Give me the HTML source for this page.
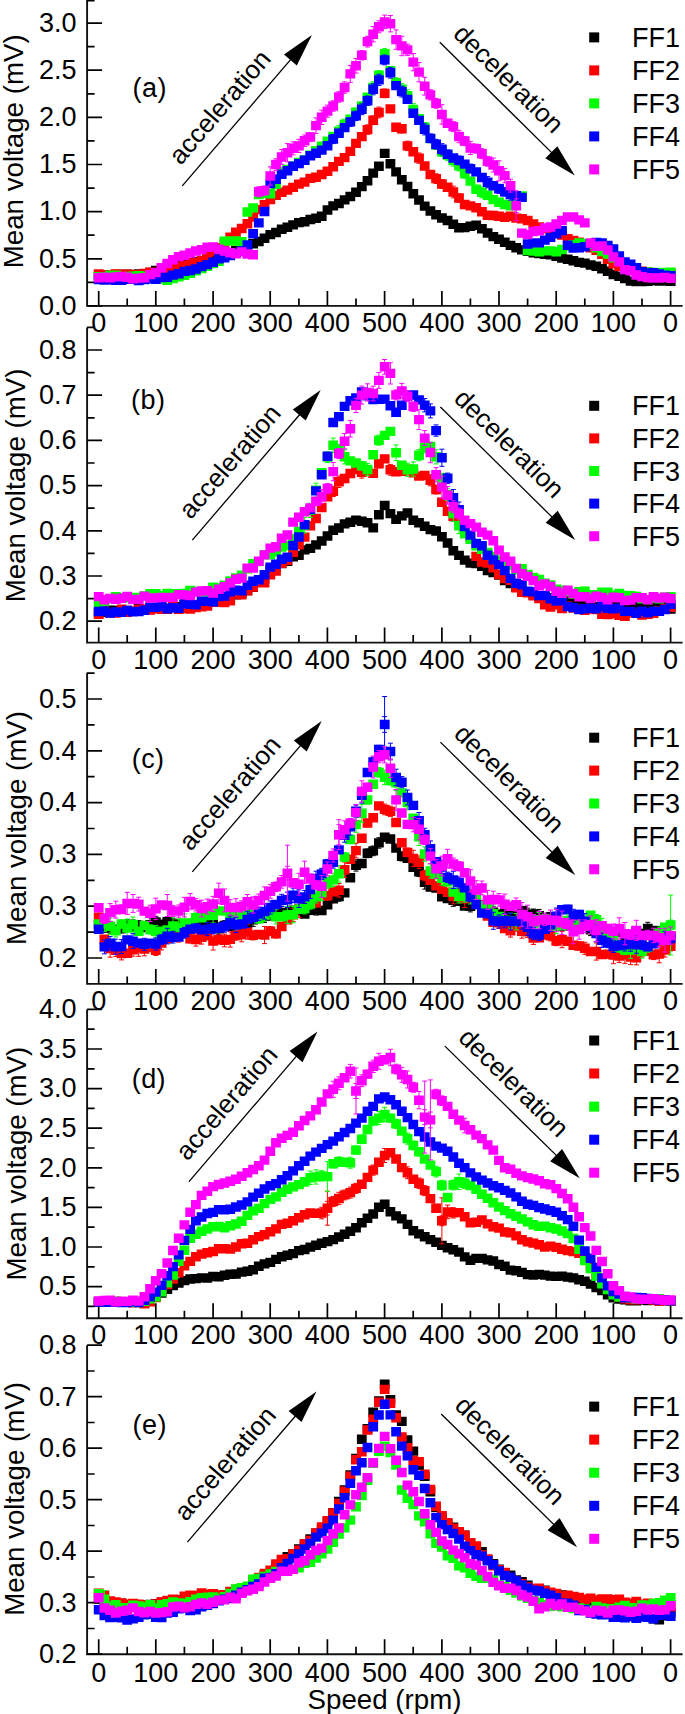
<!DOCTYPE html>
<html><head><meta charset="utf-8"><style>
html,body{margin:0;padding:0;background:#fff;}
svg{display:block;font-family:'Liberation Sans', sans-serif;}
</style></head><body>
<svg width="685" height="1714" viewBox="0 0 685 1714">
<rect width="685" height="1714" fill="#fff"/>
<path d="M87.1 0 V305.9 M86.1 305.9 H682.6" stroke="#111" stroke-width="1.9" fill="none"/>
<text x="76.6" y="314.7" text-anchor="end" font-size="27">0.0</text>
<text x="76.6" y="267.6" text-anchor="end" font-size="27">0.5</text>
<text x="76.6" y="220.4" text-anchor="end" font-size="27">1.0</text>
<text x="76.6" y="173.3" text-anchor="end" font-size="27">1.5</text>
<text x="76.6" y="126.2" text-anchor="end" font-size="27">2.0</text>
<text x="76.6" y="79.0" text-anchor="end" font-size="27">2.5</text>
<text x="76.6" y="31.9" text-anchor="end" font-size="27">3.0</text>
<text x="98.7" y="332.1" text-anchor="middle" font-size="27">0</text>
<text x="155.8" y="332.1" text-anchor="middle" font-size="27">100</text>
<text x="213.1" y="332.1" text-anchor="middle" font-size="27">200</text>
<text x="270.2" y="332.1" text-anchor="middle" font-size="27">300</text>
<text x="327.4" y="332.1" text-anchor="middle" font-size="27">400</text>
<text x="384.6" y="332.1" text-anchor="middle" font-size="27">500</text>
<text x="441.9" y="332.1" text-anchor="middle" font-size="27">400</text>
<text x="499.0" y="332.1" text-anchor="middle" font-size="27">300</text>
<text x="556.2" y="332.1" text-anchor="middle" font-size="27">200</text>
<text x="613.4" y="332.1" text-anchor="middle" font-size="27">100</text>
<text x="670.6" y="332.1" text-anchor="middle" font-size="27">0</text>
<path d="M87.1 305.9h15 M87.1 258.8h15 M87.1 211.6h15 M87.1 164.5h15 M87.1 117.4h15 M87.1 70.2h15 M87.1 23.1h15 M87.1 282.3h7.5 M87.1 235.2h7.5 M87.1 188.1h7.5 M87.1 140.9h7.5 M87.1 93.8h7.5 M87.1 46.7h7.5 M87.1 0.6h7.5 M98.7 305.9v-15 M155.8 305.9v-15 M213.1 305.9v-15 M270.2 305.9v-15 M327.4 305.9v-15 M384.6 305.9v-15 M441.9 305.9v-15 M499.0 305.9v-15 M556.2 305.9v-15 M613.4 305.9v-15 M670.6 305.9v-15 M127.2 305.9v-7.5 M184.4 305.9v-7.5 M241.7 305.9v-7.5 M298.9 305.9v-7.5 M356.0 305.9v-7.5 M413.2 305.9v-7.5 M470.4 305.9v-7.5 M527.6 305.9v-7.5 M584.8 305.9v-7.5 M642.0 305.9v-7.5 " stroke="#000" stroke-width="1.7" fill="none"/>
<text transform="translate(22.8,151.3) rotate(-90)" text-anchor="middle" font-size="27.7">Mean voltage (mV)</text>
<text x="132.6" y="97.4" font-size="27" letter-spacing="0.4">(a)</text>
<path d="M93.8 270.7h9.8v9.4h-9.8zM99.5 270.5h9.8v9.4h-9.8zM105.2 270.0h9.8v9.4h-9.8zM110.9 269.7h9.8v9.4h-9.8zM116.6 269.8h9.8v9.4h-9.8zM122.3 269.6h9.8v9.4h-9.8zM128.1 269.9h9.8v9.4h-9.8zM133.8 269.2h9.8v9.4h-9.8zM139.5 269.3h9.8v9.4h-9.8zM145.2 267.7h9.8v9.4h-9.8zM150.9 265.8h9.8v9.4h-9.8zM156.7 263.2h9.8v9.4h-9.8zM162.4 261.7h9.8v9.4h-9.8zM168.1 261.1h9.8v9.4h-9.8zM173.8 259.7h9.8v9.4h-9.8zM179.5 258.2h9.8v9.4h-9.8zM185.3 257.9h9.8v9.4h-9.8zM191.0 257.0h9.8v9.4h-9.8zM196.7 255.7h9.8v9.4h-9.8zM202.4 254.3h9.8v9.4h-9.8zM208.2 252.0h9.8v9.4h-9.8zM213.9 251.0h9.8v9.4h-9.8zM219.6 249.6h9.8v9.4h-9.8zM225.3 247.8h9.8v9.4h-9.8zM231.0 245.8h9.8v9.4h-9.8zM236.8 243.1h9.8v9.4h-9.8zM242.5 241.2h9.8v9.4h-9.8zM248.2 239.1h9.8v9.4h-9.8zM253.9 236.8h9.8v9.4h-9.8zM259.6 233.5h9.8v9.4h-9.8zM265.4 229.9h9.8v9.4h-9.8zM271.1 227.8h9.8v9.4h-9.8zM276.8 224.5h9.8v9.4h-9.8zM282.5 222.6h9.8v9.4h-9.8zM288.2 220.2h9.8v9.4h-9.8zM294.0 217.9h9.8v9.4h-9.8zM299.7 217.0h9.8v9.4h-9.8zM305.4 214.8h9.8v9.4h-9.8zM311.1 213.6h9.8v9.4h-9.8zM316.8 211.6h9.8v9.4h-9.8zM322.6 205.3h9.8v9.4h-9.8zM328.3 201.2h9.8v9.4h-9.8zM334.0 198.8h9.8v9.4h-9.8zM339.7 195.2h9.8v9.4h-9.8zM345.4 191.8h9.8v9.4h-9.8zM351.1 187.6h9.8v9.4h-9.8zM356.9 181.9h9.8v9.4h-9.8zM362.6 176.0h9.8v9.4h-9.8zM368.3 168.4h9.8v9.4h-9.8zM374.0 161.5h9.8v9.4h-9.8zM379.8 148.7h9.8v9.4h-9.8zM385.5 159.1h9.8v9.4h-9.8zM391.2 167.2h9.8v9.4h-9.8zM396.9 175.0h9.8v9.4h-9.8zM402.6 181.8h9.8v9.4h-9.8zM408.4 189.1h9.8v9.4h-9.8zM414.1 195.3h9.8v9.4h-9.8zM419.8 201.4h9.8v9.4h-9.8zM425.5 206.3h9.8v9.4h-9.8zM431.2 210.1h9.8v9.4h-9.8zM437.0 213.3h9.8v9.4h-9.8zM442.7 215.8h9.8v9.4h-9.8zM448.4 219.6h9.8v9.4h-9.8zM454.1 223.1h9.8v9.4h-9.8zM459.8 222.9h9.8v9.4h-9.8zM465.5 221.5h9.8v9.4h-9.8zM471.3 220.6h9.8v9.4h-9.8zM477.0 224.1h9.8v9.4h-9.8zM482.7 228.3h9.8v9.4h-9.8zM488.4 231.9h9.8v9.4h-9.8zM494.1 234.6h9.8v9.4h-9.8zM499.9 237.5h9.8v9.4h-9.8zM505.6 240.7h9.8v9.4h-9.8zM511.3 243.1h9.8v9.4h-9.8zM517.0 245.2h9.8v9.4h-9.8zM522.8 246.5h9.8v9.4h-9.8zM528.5 248.0h9.8v9.4h-9.8zM534.2 248.8h9.8v9.4h-9.8zM539.9 249.6h9.8v9.4h-9.8zM545.6 250.2h9.8v9.4h-9.8zM551.4 251.7h9.8v9.4h-9.8zM557.1 253.4h9.8v9.4h-9.8zM562.8 254.6h9.8v9.4h-9.8zM568.5 256.0h9.8v9.4h-9.8zM574.2 257.7h9.8v9.4h-9.8zM579.9 258.4h9.8v9.4h-9.8zM585.7 260.3h9.8v9.4h-9.8zM591.4 261.6h9.8v9.4h-9.8zM597.1 264.0h9.8v9.4h-9.8zM602.8 266.5h9.8v9.4h-9.8zM608.5 269.8h9.8v9.4h-9.8zM614.3 271.7h9.8v9.4h-9.8zM620.0 273.9h9.8v9.4h-9.8zM625.7 276.4h9.8v9.4h-9.8zM631.4 276.9h9.8v9.4h-9.8zM637.1 276.8h9.8v9.4h-9.8zM642.9 276.7h9.8v9.4h-9.8zM648.6 275.8h9.8v9.4h-9.8zM654.3 276.4h9.8v9.4h-9.8zM660.0 276.3h9.8v9.4h-9.8zM665.8 276.5h9.8v9.4h-9.8z" fill="#000000"/>
<path d="M361.8 132.9V140.3M359.3 132.9h5M359.3 140.3h5M367.5 124.9V134.3M365.0 124.9h5M365.0 134.3h5M373.2 115.9V124.6M370.7 115.9h5M370.7 124.6h5M378.9 107.1V117.9M376.4 107.1h5M376.4 117.9h5M384.6 89.0V97.7M382.1 89.0h5M382.1 97.7h5M390.4 105.9V111.8M387.9 105.9h5M387.9 111.8h5M396.1 123.5V130.8M393.6 123.5h5M393.6 130.8h5M401.8 124.5V132.9M399.3 124.5h5M399.3 132.9h5M407.5 141.2V150.6M405.0 141.2h5M405.0 150.6h5M413.2 148.0V155.5M410.8 148.0h5M410.8 155.5h5M419.0 153.0V163.3M416.5 153.0h5M416.5 163.3h5M424.7 162.4V169.6M422.2 162.4h5M422.2 169.6h5M430.4 172.3V176.6M427.9 172.3h5M427.9 176.6h5M436.1 173.8V183.5M433.6 173.8h5M433.6 183.5h5M441.9 179.6V188.4M439.4 179.6h5M439.4 188.4h5M447.6 184.6V189.9M445.1 184.6h5M445.1 189.9h5M453.3 186.1V197.9M450.8 186.1h5M450.8 197.9h5M459.0 193.8V202.2M456.5 193.8h5M456.5 202.2h5M464.7 201.6V207.4M462.2 201.6h5M462.2 207.4h5" stroke="#ff0000" stroke-width="1" fill="none"/>
<path d="M93.8 269.2h9.8v9.4h-9.8zM99.5 270.3h9.8v9.4h-9.8zM105.2 270.1h9.8v9.4h-9.8zM110.9 269.2h9.8v9.4h-9.8zM116.6 269.6h9.8v9.4h-9.8zM122.3 269.4h9.8v9.4h-9.8zM128.1 269.7h9.8v9.4h-9.8zM133.8 269.8h9.8v9.4h-9.8zM139.5 268.7h9.8v9.4h-9.8zM145.2 267.6h9.8v9.4h-9.8zM150.9 267.6h9.8v9.4h-9.8zM156.7 265.7h9.8v9.4h-9.8zM162.4 265.0h9.8v9.4h-9.8zM168.1 262.5h9.8v9.4h-9.8zM173.8 261.9h9.8v9.4h-9.8zM179.5 260.7h9.8v9.4h-9.8zM185.3 258.3h9.8v9.4h-9.8zM191.0 257.7h9.8v9.4h-9.8zM196.7 255.9h9.8v9.4h-9.8zM202.4 252.1h9.8v9.4h-9.8zM208.2 247.1h9.8v9.4h-9.8zM213.9 242.9h9.8v9.4h-9.8zM219.6 238.5h9.8v9.4h-9.8zM225.3 232.6h9.8v9.4h-9.8zM231.0 227.6h9.8v9.4h-9.8zM236.8 223.8h9.8v9.4h-9.8zM242.5 219.0h9.8v9.4h-9.8zM248.2 212.4h9.8v9.4h-9.8zM253.9 204.9h9.8v9.4h-9.8zM259.6 199.9h9.8v9.4h-9.8zM265.4 194.8h9.8v9.4h-9.8zM271.1 190.7h9.8v9.4h-9.8zM276.8 187.5h9.8v9.4h-9.8zM282.5 185.4h9.8v9.4h-9.8zM288.2 182.7h9.8v9.4h-9.8zM294.0 179.4h9.8v9.4h-9.8zM299.7 177.4h9.8v9.4h-9.8zM305.4 173.7h9.8v9.4h-9.8zM311.1 172.5h9.8v9.4h-9.8zM316.8 169.8h9.8v9.4h-9.8zM322.6 166.6h9.8v9.4h-9.8zM328.3 162.0h9.8v9.4h-9.8zM334.0 156.7h9.8v9.4h-9.8zM339.7 152.9h9.8v9.4h-9.8zM345.4 146.7h9.8v9.4h-9.8zM351.1 138.7h9.8v9.4h-9.8zM356.9 131.9h9.8v9.4h-9.8zM362.6 124.9h9.8v9.4h-9.8zM368.3 115.6h9.8v9.4h-9.8zM374.0 107.8h9.8v9.4h-9.8zM379.8 88.7h9.8v9.4h-9.8zM385.5 104.2h9.8v9.4h-9.8zM391.2 122.5h9.8v9.4h-9.8zM396.9 124.0h9.8v9.4h-9.8zM402.6 141.2h9.8v9.4h-9.8zM408.4 147.0h9.8v9.4h-9.8zM414.1 153.4h9.8v9.4h-9.8zM419.8 161.3h9.8v9.4h-9.8zM425.5 169.8h9.8v9.4h-9.8zM431.2 173.9h9.8v9.4h-9.8zM437.0 179.3h9.8v9.4h-9.8zM442.7 182.5h9.8v9.4h-9.8zM448.4 187.3h9.8v9.4h-9.8zM454.1 193.3h9.8v9.4h-9.8zM459.8 199.8h9.8v9.4h-9.8zM465.5 201.2h9.8v9.4h-9.8zM471.3 203.0h9.8v9.4h-9.8zM477.0 207.0h9.8v9.4h-9.8zM482.7 210.6h9.8v9.4h-9.8zM488.4 210.8h9.8v9.4h-9.8zM494.1 211.6h9.8v9.4h-9.8zM499.9 212.7h9.8v9.4h-9.8zM505.6 211.6h9.8v9.4h-9.8zM511.3 213.4h9.8v9.4h-9.8zM517.0 214.0h9.8v9.4h-9.8zM522.8 215.8h9.8v9.4h-9.8zM528.5 219.3h9.8v9.4h-9.8zM534.2 222.3h9.8v9.4h-9.8zM539.9 224.1h9.8v9.4h-9.8zM545.6 226.5h9.8v9.4h-9.8zM551.4 228.6h9.8v9.4h-9.8zM557.1 230.3h9.8v9.4h-9.8zM562.8 233.9h9.8v9.4h-9.8zM568.5 235.7h9.8v9.4h-9.8zM574.2 237.4h9.8v9.4h-9.8zM579.9 240.1h9.8v9.4h-9.8zM585.7 243.0h9.8v9.4h-9.8zM591.4 245.6h9.8v9.4h-9.8zM597.1 249.7h9.8v9.4h-9.8zM602.8 254.5h9.8v9.4h-9.8zM608.5 259.2h9.8v9.4h-9.8zM614.3 261.9h9.8v9.4h-9.8zM620.0 264.0h9.8v9.4h-9.8zM625.7 265.6h9.8v9.4h-9.8zM631.4 266.2h9.8v9.4h-9.8zM637.1 266.4h9.8v9.4h-9.8zM642.9 267.3h9.8v9.4h-9.8zM648.6 267.9h9.8v9.4h-9.8zM654.3 268.1h9.8v9.4h-9.8zM660.0 268.3h9.8v9.4h-9.8zM665.8 268.6h9.8v9.4h-9.8z" fill="#ff0000"/>
<path d="M333.2 132.9V139.8M330.7 132.9h5M330.7 139.8h5M338.9 125.3V137.0M336.4 125.3h5M336.4 137.0h5M344.6 119.2V129.3M342.1 119.2h5M342.1 129.3h5M350.3 115.3V123.0M347.8 115.3h5M347.8 123.0h5M356.0 108.2V116.1M353.5 108.2h5M353.5 116.1h5M361.8 102.1V110.1M359.3 102.1h5M359.3 110.1h5M367.5 93.8V100.7M365.0 93.8h5M365.0 100.7h5M373.2 81.8V93.0M370.7 81.8h5M370.7 93.0h5M378.9 70.8V79.4M376.4 70.8h5M376.4 79.4h5M384.6 48.7V58.5M382.1 48.7h5M382.1 58.5h5M390.4 67.9V73.7M387.9 67.9h5M387.9 73.7h5M396.1 77.8V87.4M393.6 77.8h5M393.6 87.4h5M401.8 83.5V94.8M399.3 83.5h5M399.3 94.8h5M407.5 89.9V101.2M405.0 89.9h5M405.0 101.2h5M413.2 103.6V115.2M410.8 103.6h5M410.8 115.2h5M419.0 114.8V122.9M416.5 114.8h5M416.5 122.9h5M424.7 122.7V131.9M422.2 122.7h5M422.2 131.9h5M430.4 135.4V141.9M427.9 135.4h5M427.9 141.9h5M436.1 141.0V149.1M433.6 141.0h5M433.6 149.1h5M441.9 147.4V156.4M439.4 147.4h5M439.4 156.4h5M447.6 149.8V160.4M445.1 149.8h5M445.1 160.4h5M453.3 154.8V166.1M450.8 154.8h5M450.8 166.1h5M459.0 161.0V170.9M456.5 161.0h5M456.5 170.9h5M464.7 169.0V178.2M462.2 169.0h5M462.2 178.2h5M470.4 178.2V184.0M467.9 178.2h5M467.9 184.0h5M476.2 186.9V191.7M473.7 186.9h5M473.7 191.7h5M481.9 186.9V197.7M479.4 186.9h5M479.4 197.7h5M487.6 192.4V198.1M485.1 192.4h5M485.1 198.1h5M493.3 195.9V203.3M490.8 195.9h5M490.8 203.3h5M499.0 200.1V204.3M496.5 200.1h5M496.5 204.3h5M504.8 201.8V207.2M502.3 201.8h5M502.3 207.2h5M510.5 203.5V208.1M508.0 203.5h5M508.0 208.1h5M516.2 197.1V201.3M513.7 197.1h5M513.7 201.3h5" stroke="#00ff00" stroke-width="1" fill="none"/>
<path d="M93.8 272.0h9.8v9.4h-9.8zM99.5 272.0h9.8v9.4h-9.8zM105.2 270.6h9.8v9.4h-9.8zM110.9 270.6h9.8v9.4h-9.8zM116.6 271.8h9.8v9.4h-9.8zM122.3 271.7h9.8v9.4h-9.8zM128.1 271.6h9.8v9.4h-9.8zM133.8 271.0h9.8v9.4h-9.8zM139.5 271.5h9.8v9.4h-9.8zM145.2 272.4h9.8v9.4h-9.8zM150.9 273.5h9.8v9.4h-9.8zM156.7 274.1h9.8v9.4h-9.8zM162.4 275.7h9.8v9.4h-9.8zM168.1 273.9h9.8v9.4h-9.8zM173.8 272.2h9.8v9.4h-9.8zM179.5 270.6h9.8v9.4h-9.8zM185.3 268.6h9.8v9.4h-9.8zM191.0 266.0h9.8v9.4h-9.8zM196.7 263.9h9.8v9.4h-9.8zM202.4 261.5h9.8v9.4h-9.8zM208.2 258.9h9.8v9.4h-9.8zM213.9 256.6h9.8v9.4h-9.8zM219.6 236.4h9.8v9.4h-9.8zM225.3 236.2h9.8v9.4h-9.8zM231.0 236.3h9.8v9.4h-9.8zM236.8 237.1h9.8v9.4h-9.8zM242.5 207.3h9.8v9.4h-9.8zM248.2 203.2h9.8v9.4h-9.8zM253.9 189.9h9.8v9.4h-9.8zM259.6 188.5h9.8v9.4h-9.8zM265.4 189.0h9.8v9.4h-9.8zM271.1 179.5h9.8v9.4h-9.8zM276.8 166.7h9.8v9.4h-9.8zM282.5 164.7h9.8v9.4h-9.8zM288.2 161.3h9.8v9.4h-9.8zM294.0 157.7h9.8v9.4h-9.8zM299.7 155.3h9.8v9.4h-9.8zM305.4 150.6h9.8v9.4h-9.8zM311.1 145.9h9.8v9.4h-9.8zM316.8 141.5h9.8v9.4h-9.8zM322.6 136.6h9.8v9.4h-9.8zM328.3 131.7h9.8v9.4h-9.8zM334.0 126.4h9.8v9.4h-9.8zM339.7 119.5h9.8v9.4h-9.8zM345.4 114.5h9.8v9.4h-9.8zM351.1 107.5h9.8v9.4h-9.8zM356.9 101.4h9.8v9.4h-9.8zM362.6 92.5h9.8v9.4h-9.8zM368.3 82.7h9.8v9.4h-9.8zM374.0 70.4h9.8v9.4h-9.8zM379.8 48.9h9.8v9.4h-9.8zM385.5 66.1h9.8v9.4h-9.8zM391.2 77.9h9.8v9.4h-9.8zM396.9 84.4h9.8v9.4h-9.8zM402.6 90.9h9.8v9.4h-9.8zM408.4 104.7h9.8v9.4h-9.8zM414.1 114.1h9.8v9.4h-9.8zM419.8 122.6h9.8v9.4h-9.8zM425.5 133.9h9.8v9.4h-9.8zM431.2 140.3h9.8v9.4h-9.8zM437.0 147.2h9.8v9.4h-9.8zM442.7 150.4h9.8v9.4h-9.8zM448.4 155.8h9.8v9.4h-9.8zM454.1 161.2h9.8v9.4h-9.8zM459.8 168.9h9.8v9.4h-9.8zM465.5 176.4h9.8v9.4h-9.8zM471.3 184.6h9.8v9.4h-9.8zM477.0 187.6h9.8v9.4h-9.8zM482.7 190.5h9.8v9.4h-9.8zM488.4 194.9h9.8v9.4h-9.8zM494.1 197.5h9.8v9.4h-9.8zM499.9 199.8h9.8v9.4h-9.8zM505.6 201.1h9.8v9.4h-9.8zM511.3 194.5h9.8v9.4h-9.8zM517.0 191.3h9.8v9.4h-9.8zM522.8 245.9h9.8v9.4h-9.8zM528.5 246.3h9.8v9.4h-9.8zM534.2 247.2h9.8v9.4h-9.8zM539.9 246.2h9.8v9.4h-9.8zM545.6 246.2h9.8v9.4h-9.8zM551.4 247.0h9.8v9.4h-9.8zM557.1 244.8h9.8v9.4h-9.8zM562.8 241.4h9.8v9.4h-9.8zM568.5 240.1h9.8v9.4h-9.8zM574.2 238.3h9.8v9.4h-9.8zM579.9 238.7h9.8v9.4h-9.8zM585.7 239.8h9.8v9.4h-9.8zM591.4 243.2h9.8v9.4h-9.8zM597.1 246.9h9.8v9.4h-9.8zM602.8 249.3h9.8v9.4h-9.8zM608.5 253.1h9.8v9.4h-9.8zM614.3 256.0h9.8v9.4h-9.8zM620.0 260.0h9.8v9.4h-9.8zM625.7 262.8h9.8v9.4h-9.8zM631.4 265.0h9.8v9.4h-9.8zM637.1 267.1h9.8v9.4h-9.8zM642.9 267.2h9.8v9.4h-9.8zM648.6 267.7h9.8v9.4h-9.8zM654.3 267.8h9.8v9.4h-9.8zM660.0 267.7h9.8v9.4h-9.8zM665.8 267.6h9.8v9.4h-9.8z" fill="#00ff00"/>
<path d="M333.2 134.6V143.6M330.7 134.6h5M330.7 143.6h5M338.9 129.2V137.2M336.4 129.2h5M336.4 137.2h5M344.6 124.2V131.0M342.1 124.2h5M342.1 131.0h5M350.3 117.6V126.3M347.8 117.6h5M347.8 126.3h5M356.0 111.1V120.6M353.5 111.1h5M353.5 120.6h5M361.8 103.9V114.7M359.3 103.9h5M359.3 114.7h5M367.5 96.0V105.4M365.0 96.0h5M365.0 105.4h5M373.2 83.9V94.8M370.7 83.9h5M370.7 94.8h5M378.9 74.3V85.5M376.4 74.3h5M376.4 85.5h5M384.6 55.0V64.8M382.1 55.0h5M382.1 64.8h5M390.4 67.4V78.1M387.9 67.4h5M387.9 78.1h5M396.1 82.5V88.8M393.6 82.5h5M393.6 88.8h5M401.8 86.2V97.0M399.3 86.2h5M399.3 97.0h5M407.5 97.1V101.8M405.0 97.1h5M405.0 101.8h5M413.2 109.6V116.9M410.8 109.6h5M410.8 116.9h5M419.0 117.3V123.6M416.5 117.3h5M416.5 123.6h5M424.7 123.9V134.9M422.2 123.9h5M422.2 134.9h5M430.4 133.9V142.8M427.9 133.9h5M427.9 142.8h5M436.1 139.3V149.1M433.6 139.3h5M433.6 149.1h5M441.9 143.7V154.8M439.4 143.7h5M439.4 154.8h5M447.6 150.2V158.2M445.1 150.2h5M445.1 158.2h5M453.3 154.8V161.3M450.8 154.8h5M450.8 161.3h5M459.0 156.0V164.8M456.5 156.0h5M456.5 164.8h5M464.7 161.4V166.9M462.2 161.4h5M462.2 166.9h5M470.4 164.1V173.0M467.9 164.1h5M467.9 173.0h5M476.2 169.7V174.1M473.7 169.7h5M473.7 174.1h5M481.9 174.3V180.8M479.4 174.3h5M479.4 180.8h5M487.6 176.6V187.8M485.1 176.6h5M485.1 187.8h5M493.3 181.9V189.6M490.8 181.9h5M490.8 189.6h5M499.0 184.3V193.4M496.5 184.3h5M496.5 193.4h5M504.8 187.6V196.1M502.3 187.6h5M502.3 196.1h5M510.5 188.7V200.2M508.0 188.7h5M508.0 200.2h5M516.2 192.0V199.4M513.7 192.0h5M513.7 199.4h5" stroke="#0000ff" stroke-width="1" fill="none"/>
<path d="M93.8 274.9h9.8v9.4h-9.8zM99.5 275.4h9.8v9.4h-9.8zM105.2 275.1h9.8v9.4h-9.8zM110.9 275.5h9.8v9.4h-9.8zM116.6 275.5h9.8v9.4h-9.8zM122.3 274.6h9.8v9.4h-9.8zM128.1 274.5h9.8v9.4h-9.8zM133.8 275.8h9.8v9.4h-9.8zM139.5 274.9h9.8v9.4h-9.8zM145.2 274.2h9.8v9.4h-9.8zM150.9 274.5h9.8v9.4h-9.8zM156.7 272.8h9.8v9.4h-9.8zM162.4 272.5h9.8v9.4h-9.8zM168.1 270.4h9.8v9.4h-9.8zM173.8 269.1h9.8v9.4h-9.8zM179.5 266.7h9.8v9.4h-9.8zM185.3 265.8h9.8v9.4h-9.8zM191.0 264.3h9.8v9.4h-9.8zM196.7 261.9h9.8v9.4h-9.8zM202.4 259.9h9.8v9.4h-9.8zM208.2 257.5h9.8v9.4h-9.8zM213.9 254.2h9.8v9.4h-9.8zM219.6 253.1h9.8v9.4h-9.8zM225.3 250.9h9.8v9.4h-9.8zM231.0 248.5h9.8v9.4h-9.8zM236.8 246.2h9.8v9.4h-9.8zM242.5 240.3h9.8v9.4h-9.8zM248.2 229.1h9.8v9.4h-9.8zM253.9 218.2h9.8v9.4h-9.8zM259.6 206.8h9.8v9.4h-9.8zM265.4 178.9h9.8v9.4h-9.8zM271.1 174.6h9.8v9.4h-9.8zM276.8 169.5h9.8v9.4h-9.8zM282.5 166.1h9.8v9.4h-9.8zM288.2 161.5h9.8v9.4h-9.8zM294.0 158.9h9.8v9.4h-9.8zM299.7 155.6h9.8v9.4h-9.8zM305.4 151.1h9.8v9.4h-9.8zM311.1 148.6h9.8v9.4h-9.8zM316.8 145.4h9.8v9.4h-9.8zM322.6 141.0h9.8v9.4h-9.8zM328.3 134.4h9.8v9.4h-9.8zM334.0 128.5h9.8v9.4h-9.8zM339.7 122.9h9.8v9.4h-9.8zM345.4 117.2h9.8v9.4h-9.8zM351.1 111.2h9.8v9.4h-9.8zM356.9 104.6h9.8v9.4h-9.8zM362.6 96.0h9.8v9.4h-9.8zM368.3 84.6h9.8v9.4h-9.8zM374.0 75.2h9.8v9.4h-9.8zM379.8 55.2h9.8v9.4h-9.8zM385.5 68.0h9.8v9.4h-9.8zM391.2 80.9h9.8v9.4h-9.8zM396.9 86.9h9.8v9.4h-9.8zM402.6 94.7h9.8v9.4h-9.8zM408.4 108.5h9.8v9.4h-9.8zM414.1 115.7h9.8v9.4h-9.8zM419.8 124.7h9.8v9.4h-9.8zM425.5 133.7h9.8v9.4h-9.8zM431.2 139.5h9.8v9.4h-9.8zM437.0 144.5h9.8v9.4h-9.8zM442.7 149.5h9.8v9.4h-9.8zM448.4 153.3h9.8v9.4h-9.8zM454.1 155.7h9.8v9.4h-9.8zM459.8 159.4h9.8v9.4h-9.8zM465.5 163.9h9.8v9.4h-9.8zM471.3 167.2h9.8v9.4h-9.8zM477.0 172.8h9.8v9.4h-9.8zM482.7 177.5h9.8v9.4h-9.8zM488.4 181.0h9.8v9.4h-9.8zM494.1 184.1h9.8v9.4h-9.8zM499.9 187.2h9.8v9.4h-9.8zM505.6 189.8h9.8v9.4h-9.8zM511.3 191.0h9.8v9.4h-9.8zM517.0 192.7h9.8v9.4h-9.8zM522.8 239.3h9.8v9.4h-9.8zM528.5 238.2h9.8v9.4h-9.8zM534.2 238.2h9.8v9.4h-9.8zM539.9 235.4h9.8v9.4h-9.8zM545.6 232.7h9.8v9.4h-9.8zM551.4 229.0h9.8v9.4h-9.8zM557.1 225.9h9.8v9.4h-9.8zM562.8 240.6h9.8v9.4h-9.8zM568.5 243.3h9.8v9.4h-9.8zM574.2 243.1h9.8v9.4h-9.8zM579.9 242.0h9.8v9.4h-9.8zM585.7 238.9h9.8v9.4h-9.8zM591.4 237.7h9.8v9.4h-9.8zM597.1 238.3h9.8v9.4h-9.8zM602.8 240.8h9.8v9.4h-9.8zM608.5 244.3h9.8v9.4h-9.8zM614.3 251.2h9.8v9.4h-9.8zM620.0 257.3h9.8v9.4h-9.8zM625.7 259.6h9.8v9.4h-9.8zM631.4 263.1h9.8v9.4h-9.8zM637.1 266.9h9.8v9.4h-9.8zM642.9 268.3h9.8v9.4h-9.8zM648.6 268.1h9.8v9.4h-9.8zM654.3 269.3h9.8v9.4h-9.8zM660.0 270.5h9.8v9.4h-9.8zM665.8 271.0h9.8v9.4h-9.8z" fill="#0000ff"/>
<path d="M258.8 186.8V196.9M256.3 186.8h5M256.3 196.9h5M264.5 186.0V195.1M262.0 186.0h5M262.0 195.1h5M270.2 166.8V185.2M267.8 166.8h5M267.8 185.2h5M276.0 158.7V170.3M273.5 158.7h5M273.5 170.3h5M281.7 149.5V164.4M279.2 149.5h5M279.2 164.4h5M287.4 143.6V161.8M284.9 143.6h5M284.9 161.8h5M293.1 141.8V154.8M290.6 141.8h5M290.6 154.8h5M298.9 139.3V152.5M296.4 139.3h5M296.4 152.5h5M304.6 135.0V146.6M302.1 135.0h5M302.1 146.6h5M310.3 132.8V141.3M307.8 132.8h5M307.8 141.3h5M316.0 117.8V133.4M313.5 117.8h5M313.5 133.4h5M321.7 110.1V124.5M319.2 110.1h5M319.2 124.5h5M327.4 105.1V117.2M324.9 105.1h5M324.9 117.2h5M333.2 100.8V111.2M330.7 100.8h5M330.7 111.2h5M338.9 91.7V102.2M336.4 91.7h5M336.4 102.2h5M344.6 81.9V93.2M342.1 81.9h5M342.1 93.2h5M350.3 65.4V82.4M347.8 65.4h5M347.8 82.4h5M356.0 58.4V73.1M353.5 58.4h5M353.5 73.1h5M361.8 50.7V59.9M359.3 50.7h5M359.3 59.9h5M367.5 36.3V47.0M365.0 36.3h5M365.0 47.0h5M373.2 26.5V41.9M370.7 26.5h5M370.7 41.9h5M378.9 20.8V32.8M376.4 20.8h5M376.4 32.8h5M384.6 15.1V28.6M382.1 15.1h5M382.1 28.6h5M390.4 15.5V31.9M387.9 15.5h5M387.9 31.9h5M396.1 29.9V49.3M393.6 29.9h5M393.6 49.3h5M401.8 36.2V55.7M399.3 36.2h5M399.3 55.7h5M407.5 44.2V55.6M405.0 44.2h5M405.0 55.6h5M413.2 53.5V70.8M410.8 53.5h5M410.8 70.8h5M419.0 62.5V81.8M416.5 62.5h5M416.5 81.8h5M424.7 77.3V95.1M422.2 77.3h5M422.2 95.1h5M430.4 89.7V100.0M427.9 89.7h5M427.9 100.0h5M436.1 98.5V108.2M433.6 98.5h5M433.6 108.2h5M441.9 104.7V124.2M439.4 104.7h5M439.4 124.2h5M447.6 119.2V127.3M445.1 119.2h5M445.1 127.3h5M453.3 121.6V131.6M450.8 121.6h5M450.8 131.6h5M459.0 130.3V142.7M456.5 130.3h5M456.5 142.7h5M464.7 136.4V145.6M462.2 136.4h5M462.2 145.6h5M470.4 141.4V154.5M467.9 141.4h5M467.9 154.5h5M476.2 144.2V153.0M473.7 144.2h5M473.7 153.0h5M481.9 148.7V158.7M479.4 148.7h5M479.4 158.7h5M487.6 156.4V166.2M485.1 156.4h5M485.1 166.2h5M493.3 158.1V172.0M490.8 158.1h5M490.8 172.0h5M499.0 160.8V180.8M496.5 160.8h5M496.5 180.8h5M504.8 168.4V182.8M502.3 168.4h5M502.3 182.8h5M510.5 179.2V192.1M508.0 179.2h5M508.0 192.1h5M516.2 190.8V220.8M513.7 190.8h5M513.7 220.8h5M516.2 198.9V212.6M513.7 198.9h5M513.7 212.6h5" stroke="#ff00ff" stroke-width="1" fill="none"/>
<path d="M93.8 273.0h9.8v9.4h-9.8zM99.5 272.4h9.8v9.4h-9.8zM105.2 273.1h9.8v9.4h-9.8zM110.9 272.2h9.8v9.4h-9.8zM116.6 271.8h9.8v9.4h-9.8zM122.3 272.6h9.8v9.4h-9.8zM128.1 274.0h9.8v9.4h-9.8zM133.8 273.4h9.8v9.4h-9.8zM139.5 273.1h9.8v9.4h-9.8zM145.2 269.9h9.8v9.4h-9.8zM150.9 267.9h9.8v9.4h-9.8zM156.7 263.1h9.8v9.4h-9.8zM162.4 258.8h9.8v9.4h-9.8zM168.1 255.1h9.8v9.4h-9.8zM173.8 251.9h9.8v9.4h-9.8zM179.5 250.6h9.8v9.4h-9.8zM185.3 248.3h9.8v9.4h-9.8zM191.0 246.3h9.8v9.4h-9.8zM196.7 244.9h9.8v9.4h-9.8zM202.4 242.5h9.8v9.4h-9.8zM208.2 242.3h9.8v9.4h-9.8zM213.9 244.5h9.8v9.4h-9.8zM219.6 246.3h9.8v9.4h-9.8zM225.3 248.0h9.8v9.4h-9.8zM231.0 249.1h9.8v9.4h-9.8zM236.8 247.2h9.8v9.4h-9.8zM242.5 249.3h9.8v9.4h-9.8zM248.2 250.0h9.8v9.4h-9.8zM253.9 187.1h9.8v9.4h-9.8zM259.6 185.9h9.8v9.4h-9.8zM265.4 171.3h9.8v9.4h-9.8zM271.1 159.8h9.8v9.4h-9.8zM276.8 152.3h9.8v9.4h-9.8zM282.5 148.0h9.8v9.4h-9.8zM288.2 143.6h9.8v9.4h-9.8zM294.0 141.2h9.8v9.4h-9.8zM299.7 136.1h9.8v9.4h-9.8zM305.4 132.3h9.8v9.4h-9.8zM311.1 120.9h9.8v9.4h-9.8zM316.8 112.6h9.8v9.4h-9.8zM322.6 106.4h9.8v9.4h-9.8zM328.3 101.3h9.8v9.4h-9.8zM334.0 92.3h9.8v9.4h-9.8zM339.7 82.8h9.8v9.4h-9.8zM345.4 69.2h9.8v9.4h-9.8zM351.1 61.0h9.8v9.4h-9.8zM356.9 50.6h9.8v9.4h-9.8zM362.6 36.9h9.8v9.4h-9.8zM368.3 29.5h9.8v9.4h-9.8zM374.0 22.1h9.8v9.4h-9.8zM379.8 17.2h9.8v9.4h-9.8zM385.5 19.0h9.8v9.4h-9.8zM391.2 34.9h9.8v9.4h-9.8zM396.9 41.2h9.8v9.4h-9.8zM402.6 45.2h9.8v9.4h-9.8zM408.4 57.4h9.8v9.4h-9.8zM414.1 67.4h9.8v9.4h-9.8zM419.8 81.5h9.8v9.4h-9.8zM425.5 90.2h9.8v9.4h-9.8zM431.2 98.7h9.8v9.4h-9.8zM437.0 109.8h9.8v9.4h-9.8zM442.7 118.5h9.8v9.4h-9.8zM448.4 121.9h9.8v9.4h-9.8zM454.1 131.8h9.8v9.4h-9.8zM459.8 136.3h9.8v9.4h-9.8zM465.5 143.3h9.8v9.4h-9.8zM471.3 143.9h9.8v9.4h-9.8zM477.0 149.0h9.8v9.4h-9.8zM482.7 156.6h9.8v9.4h-9.8zM488.4 160.3h9.8v9.4h-9.8zM494.1 166.1h9.8v9.4h-9.8zM499.9 170.9h9.8v9.4h-9.8zM505.6 181.0h9.8v9.4h-9.8zM511.3 201.1h9.8v9.4h-9.8zM517.0 228.4h9.8v9.4h-9.8zM522.8 229.9h9.8v9.4h-9.8zM528.5 226.8h9.8v9.4h-9.8zM534.2 226.0h9.8v9.4h-9.8zM539.9 223.2h9.8v9.4h-9.8zM545.6 222.3h9.8v9.4h-9.8zM551.4 219.3h9.8v9.4h-9.8zM557.1 215.8h9.8v9.4h-9.8zM562.8 212.3h9.8v9.4h-9.8zM568.5 212.3h9.8v9.4h-9.8zM574.2 215.2h9.8v9.4h-9.8zM579.9 218.2h9.8v9.4h-9.8zM585.7 238.3h9.8v9.4h-9.8zM591.4 241.7h9.8v9.4h-9.8zM597.1 241.3h9.8v9.4h-9.8zM602.8 245.3h9.8v9.4h-9.8zM608.5 252.2h9.8v9.4h-9.8zM614.3 257.3h9.8v9.4h-9.8zM620.0 264.9h9.8v9.4h-9.8zM625.7 266.0h9.8v9.4h-9.8zM631.4 270.3h9.8v9.4h-9.8zM637.1 271.9h9.8v9.4h-9.8zM642.9 272.9h9.8v9.4h-9.8zM648.6 273.4h9.8v9.4h-9.8zM654.3 273.3h9.8v9.4h-9.8zM660.0 272.7h9.8v9.4h-9.8zM665.8 273.7h9.8v9.4h-9.8z" fill="#ff00ff"/>
<line x1="182.3" y1="185.8" x2="291.7" y2="58.4" stroke="#000" stroke-width="1.3"/>
<path d="M311.9 34.9 L296.8 65.5 L284.0 54.4Z" fill="#000"/>
<line x1="439.8" y1="42.2" x2="552.7" y2="153.6" stroke="#000" stroke-width="1.3"/>
<path d="M574.8 175.4 L545.3 158.3 L557.3 146.2Z" fill="#000"/>
<text transform="translate(226.5,112.80000000000001) rotate(-49.3)" text-anchor="middle" font-size="26">acceleration</text>
<text transform="translate(502.5,85.0) rotate(44.6)" text-anchor="middle" font-size="26">deceleration</text>
<rect x="589.2" y="32.4" width="10" height="10" fill="#000000"/>
<text x="632" y="47.0" font-size="27">FF1</text>
<rect x="589.2" y="65.4" width="10" height="10" fill="#ff0000"/>
<text x="632" y="80.0" font-size="27">FF2</text>
<rect x="589.2" y="98.4" width="10" height="10" fill="#00ff00"/>
<text x="632" y="113.0" font-size="27">FF3</text>
<rect x="589.2" y="131.4" width="10" height="10" fill="#0000ff"/>
<text x="632" y="146.0" font-size="27">FF4</text>
<rect x="589.2" y="164.4" width="10" height="10" fill="#ff00ff"/>
<text x="632" y="179.0" font-size="27">FF5</text>
<path d="M87.1 327.6 V642.6 M86.1 642.6 H682.6" stroke="#111" stroke-width="1.9" fill="none"/>
<text x="76.6" y="630.0" text-anchor="end" font-size="27">0.2</text>
<text x="76.6" y="584.8" text-anchor="end" font-size="27">0.3</text>
<text x="76.6" y="539.6" text-anchor="end" font-size="27">0.4</text>
<text x="76.6" y="494.4" text-anchor="end" font-size="27">0.5</text>
<text x="76.6" y="449.2" text-anchor="end" font-size="27">0.6</text>
<text x="76.6" y="404.0" text-anchor="end" font-size="27">0.7</text>
<text x="76.6" y="358.8" text-anchor="end" font-size="27">0.8</text>
<text x="98.7" y="668.8" text-anchor="middle" font-size="27">0</text>
<text x="155.8" y="668.8" text-anchor="middle" font-size="27">100</text>
<text x="213.1" y="668.8" text-anchor="middle" font-size="27">200</text>
<text x="270.2" y="668.8" text-anchor="middle" font-size="27">300</text>
<text x="327.4" y="668.8" text-anchor="middle" font-size="27">400</text>
<text x="384.6" y="668.8" text-anchor="middle" font-size="27">500</text>
<text x="441.9" y="668.8" text-anchor="middle" font-size="27">400</text>
<text x="499.0" y="668.8" text-anchor="middle" font-size="27">300</text>
<text x="556.2" y="668.8" text-anchor="middle" font-size="27">200</text>
<text x="613.4" y="668.8" text-anchor="middle" font-size="27">100</text>
<text x="670.6" y="668.8" text-anchor="middle" font-size="27">0</text>
<path d="M87.1 621.2h15 M87.1 576.0h15 M87.1 530.8h15 M87.1 485.6h15 M87.1 440.4h15 M87.1 395.2h15 M87.1 350.0h15 M87.1 598.6h7.5 M87.1 553.4h7.5 M87.1 508.2h7.5 M87.1 463.0h7.5 M87.1 417.8h7.5 M87.1 372.6h7.5 M87.1 327.4h7.5 M98.7 642.6v-15 M155.8 642.6v-15 M213.1 642.6v-15 M270.2 642.6v-15 M327.4 642.6v-15 M384.6 642.6v-15 M441.9 642.6v-15 M499.0 642.6v-15 M556.2 642.6v-15 M613.4 642.6v-15 M670.6 642.6v-15 M127.2 642.6v-7.5 M184.4 642.6v-7.5 M241.7 642.6v-7.5 M298.9 642.6v-7.5 M356.0 642.6v-7.5 M413.2 642.6v-7.5 M470.4 642.6v-7.5 M527.6 642.6v-7.5 M584.8 642.6v-7.5 M642.0 642.6v-7.5 " stroke="#000" stroke-width="1.7" fill="none"/>
<text transform="translate(24.5,485.4) rotate(-90)" text-anchor="middle" font-size="27.7">Mean voltage (mV)</text>
<text x="131.1" y="408.9" font-size="27" letter-spacing="0.4">(b)</text>
<path d="M93.8 608.1h9.8v9.4h-9.8zM99.5 607.5h9.8v9.4h-9.8zM105.2 605.4h9.8v9.4h-9.8zM110.9 605.8h9.8v9.4h-9.8zM116.6 605.8h9.8v9.4h-9.8zM122.3 605.7h9.8v9.4h-9.8zM128.1 606.7h9.8v9.4h-9.8zM133.8 603.7h9.8v9.4h-9.8zM139.5 605.0h9.8v9.4h-9.8zM145.2 603.6h9.8v9.4h-9.8zM150.9 603.6h9.8v9.4h-9.8zM156.7 602.4h9.8v9.4h-9.8zM162.4 603.4h9.8v9.4h-9.8zM168.1 601.7h9.8v9.4h-9.8zM173.8 601.9h9.8v9.4h-9.8zM179.5 600.0h9.8v9.4h-9.8zM185.3 602.2h9.8v9.4h-9.8zM191.0 600.2h9.8v9.4h-9.8zM196.7 599.5h9.8v9.4h-9.8zM202.4 599.3h9.8v9.4h-9.8zM208.2 596.9h9.8v9.4h-9.8zM213.9 596.9h9.8v9.4h-9.8zM219.6 592.8h9.8v9.4h-9.8zM225.3 593.4h9.8v9.4h-9.8zM231.0 590.0h9.8v9.4h-9.8zM236.8 588.7h9.8v9.4h-9.8zM242.5 585.9h9.8v9.4h-9.8zM248.2 582.7h9.8v9.4h-9.8zM253.9 576.9h9.8v9.4h-9.8zM259.6 574.1h9.8v9.4h-9.8zM265.4 564.7h9.8v9.4h-9.8zM271.1 562.0h9.8v9.4h-9.8zM276.8 558.9h9.8v9.4h-9.8zM282.5 556.7h9.8v9.4h-9.8zM288.2 552.0h9.8v9.4h-9.8zM294.0 550.7h9.8v9.4h-9.8zM299.7 545.2h9.8v9.4h-9.8zM305.4 543.7h9.8v9.4h-9.8zM311.1 540.2h9.8v9.4h-9.8zM316.8 536.3h9.8v9.4h-9.8zM322.6 531.3h9.8v9.4h-9.8zM328.3 525.6h9.8v9.4h-9.8zM334.0 523.3h9.8v9.4h-9.8zM339.7 519.2h9.8v9.4h-9.8zM345.4 517.5h9.8v9.4h-9.8zM351.1 515.4h9.8v9.4h-9.8zM356.9 516.6h9.8v9.4h-9.8zM362.6 518.1h9.8v9.4h-9.8zM368.3 523.2h9.8v9.4h-9.8zM374.0 510.0h9.8v9.4h-9.8zM379.8 500.8h9.8v9.4h-9.8zM385.5 508.9h9.8v9.4h-9.8zM391.2 514.7h9.8v9.4h-9.8zM396.9 511.2h9.8v9.4h-9.8zM402.6 508.3h9.8v9.4h-9.8zM408.4 515.5h9.8v9.4h-9.8zM414.1 518.0h9.8v9.4h-9.8zM419.8 521.5h9.8v9.4h-9.8zM425.5 524.9h9.8v9.4h-9.8zM431.2 526.3h9.8v9.4h-9.8zM437.0 532.0h9.8v9.4h-9.8zM442.7 538.3h9.8v9.4h-9.8zM448.4 546.0h9.8v9.4h-9.8zM454.1 550.7h9.8v9.4h-9.8zM459.8 555.4h9.8v9.4h-9.8zM465.5 558.4h9.8v9.4h-9.8zM471.3 558.9h9.8v9.4h-9.8zM477.0 561.5h9.8v9.4h-9.8zM482.7 565.8h9.8v9.4h-9.8zM488.4 567.8h9.8v9.4h-9.8zM494.1 570.4h9.8v9.4h-9.8zM499.9 575.8h9.8v9.4h-9.8zM505.6 578.9h9.8v9.4h-9.8zM511.3 582.7h9.8v9.4h-9.8zM517.0 586.3h9.8v9.4h-9.8zM522.8 587.0h9.8v9.4h-9.8zM528.5 590.4h9.8v9.4h-9.8zM534.2 591.4h9.8v9.4h-9.8zM539.9 591.8h9.8v9.4h-9.8zM545.6 593.0h9.8v9.4h-9.8zM551.4 595.1h9.8v9.4h-9.8zM557.1 596.3h9.8v9.4h-9.8zM562.8 595.9h9.8v9.4h-9.8zM568.5 597.7h9.8v9.4h-9.8zM574.2 599.9h9.8v9.4h-9.8zM579.9 599.3h9.8v9.4h-9.8zM585.7 600.0h9.8v9.4h-9.8zM591.4 601.7h9.8v9.4h-9.8zM597.1 601.9h9.8v9.4h-9.8zM602.8 601.7h9.8v9.4h-9.8zM608.5 599.0h9.8v9.4h-9.8zM614.3 601.5h9.8v9.4h-9.8zM620.0 599.5h9.8v9.4h-9.8zM625.7 599.9h9.8v9.4h-9.8zM631.4 601.5h9.8v9.4h-9.8zM637.1 599.2h9.8v9.4h-9.8zM642.9 599.3h9.8v9.4h-9.8zM648.6 600.2h9.8v9.4h-9.8zM654.3 601.0h9.8v9.4h-9.8zM660.0 602.3h9.8v9.4h-9.8zM665.8 604.4h9.8v9.4h-9.8z" fill="#000000"/>
<path d="M333.2 486.4V496.5M330.7 486.4h5M330.7 496.5h5M338.9 476.1V487.5M336.4 476.1h5M336.4 487.5h5M344.6 474.4V482.7M342.1 474.4h5M342.1 482.7h5M350.3 470.6V476.4M347.8 470.6h5M347.8 476.4h5M356.0 466.0V473.0M353.5 466.0h5M353.5 473.0h5M361.8 466.5V478.1M359.3 466.5h5M359.3 478.1h5M367.5 468.2V475.0M365.0 468.2h5M365.0 475.0h5M373.2 471.3V475.6M370.7 471.3h5M370.7 475.6h5M378.9 459.7V467.8M376.4 459.7h5M376.4 467.8h5M384.6 456.8V461.0M382.1 456.8h5M382.1 461.0h5M390.4 464.4V475.2M387.9 464.4h5M387.9 475.2h5M396.1 469.3V474.4M393.6 469.3h5M393.6 474.4h5M401.8 467.5V475.3M399.3 467.5h5M399.3 475.3h5M407.5 466.3V472.4M405.0 466.3h5M405.0 472.4h5M413.2 470.6V475.3M410.8 470.6h5M410.8 475.3h5M419.0 473.2V479.0M416.5 473.2h5M416.5 479.0h5M424.7 472.7V478.3M422.2 472.7h5M422.2 478.3h5M430.4 474.7V485.8M427.9 474.7h5M427.9 485.8h5M436.1 485.1V494.0M433.6 485.1h5M433.6 494.0h5M441.9 498.3V506.1M439.4 498.3h5M439.4 506.1h5M447.6 508.2V514.2M445.1 508.2h5M445.1 514.2h5M453.3 513.3V520.0M450.8 513.3h5M450.8 520.0h5M459.0 515.7V523.7M456.5 515.7h5M456.5 523.7h5" stroke="#ff0000" stroke-width="1" fill="none"/>
<path d="M93.8 609.6h9.8v9.4h-9.8zM99.5 605.9h9.8v9.4h-9.8zM105.2 608.4h9.8v9.4h-9.8zM110.9 608.4h9.8v9.4h-9.8zM116.6 604.4h9.8v9.4h-9.8zM122.3 607.5h9.8v9.4h-9.8zM128.1 606.5h9.8v9.4h-9.8zM133.8 604.7h9.8v9.4h-9.8zM139.5 604.3h9.8v9.4h-9.8zM145.2 605.4h9.8v9.4h-9.8zM150.9 604.1h9.8v9.4h-9.8zM156.7 604.7h9.8v9.4h-9.8zM162.4 604.6h9.8v9.4h-9.8zM168.1 602.0h9.8v9.4h-9.8zM173.8 604.6h9.8v9.4h-9.8zM179.5 603.9h9.8v9.4h-9.8zM185.3 604.3h9.8v9.4h-9.8zM191.0 602.8h9.8v9.4h-9.8zM196.7 602.0h9.8v9.4h-9.8zM202.4 601.4h9.8v9.4h-9.8zM208.2 597.6h9.8v9.4h-9.8zM213.9 597.5h9.8v9.4h-9.8zM219.6 597.8h9.8v9.4h-9.8zM225.3 596.0h9.8v9.4h-9.8zM231.0 589.1h9.8v9.4h-9.8zM236.8 590.1h9.8v9.4h-9.8zM242.5 586.2h9.8v9.4h-9.8zM248.2 582.3h9.8v9.4h-9.8zM253.9 578.2h9.8v9.4h-9.8zM259.6 578.0h9.8v9.4h-9.8zM265.4 570.0h9.8v9.4h-9.8zM271.1 566.3h9.8v9.4h-9.8zM276.8 558.7h9.8v9.4h-9.8zM282.5 555.6h9.8v9.4h-9.8zM288.2 547.7h9.8v9.4h-9.8zM294.0 540.2h9.8v9.4h-9.8zM299.7 532.4h9.8v9.4h-9.8zM305.4 521.1h9.8v9.4h-9.8zM311.1 513.8h9.8v9.4h-9.8zM316.8 502.8h9.8v9.4h-9.8zM322.6 492.2h9.8v9.4h-9.8zM328.3 486.7h9.8v9.4h-9.8zM334.0 477.1h9.8v9.4h-9.8zM339.7 473.8h9.8v9.4h-9.8zM345.4 468.8h9.8v9.4h-9.8zM351.1 464.8h9.8v9.4h-9.8zM356.9 467.6h9.8v9.4h-9.8zM362.6 466.9h9.8v9.4h-9.8zM368.3 468.7h9.8v9.4h-9.8zM374.0 459.1h9.8v9.4h-9.8zM379.8 454.2h9.8v9.4h-9.8zM385.5 465.1h9.8v9.4h-9.8zM391.2 467.1h9.8v9.4h-9.8zM396.9 466.7h9.8v9.4h-9.8zM402.6 464.6h9.8v9.4h-9.8zM408.4 468.2h9.8v9.4h-9.8zM414.1 471.4h9.8v9.4h-9.8zM419.8 470.8h9.8v9.4h-9.8zM425.5 475.6h9.8v9.4h-9.8zM431.2 484.9h9.8v9.4h-9.8zM437.0 497.5h9.8v9.4h-9.8zM442.7 506.5h9.8v9.4h-9.8zM448.4 511.9h9.8v9.4h-9.8zM454.1 515.0h9.8v9.4h-9.8zM459.8 521.6h9.8v9.4h-9.8zM465.5 532.6h9.8v9.4h-9.8zM471.3 551.7h9.8v9.4h-9.8zM477.0 557.3h9.8v9.4h-9.8zM482.7 558.4h9.8v9.4h-9.8zM488.4 563.2h9.8v9.4h-9.8zM494.1 569.8h9.8v9.4h-9.8zM499.9 573.9h9.8v9.4h-9.8zM505.6 575.7h9.8v9.4h-9.8zM511.3 583.0h9.8v9.4h-9.8zM517.0 587.5h9.8v9.4h-9.8zM522.8 588.0h9.8v9.4h-9.8zM528.5 591.0h9.8v9.4h-9.8zM534.2 593.8h9.8v9.4h-9.8zM539.9 600.1h9.8v9.4h-9.8zM545.6 602.3h9.8v9.4h-9.8zM551.4 600.2h9.8v9.4h-9.8zM557.1 603.8h9.8v9.4h-9.8zM562.8 601.5h9.8v9.4h-9.8zM568.5 603.4h9.8v9.4h-9.8zM574.2 604.4h9.8v9.4h-9.8zM579.9 605.5h9.8v9.4h-9.8zM585.7 604.4h9.8v9.4h-9.8zM591.4 604.9h9.8v9.4h-9.8zM597.1 609.5h9.8v9.4h-9.8zM602.8 609.8h9.8v9.4h-9.8zM608.5 609.2h9.8v9.4h-9.8zM614.3 610.5h9.8v9.4h-9.8zM620.0 611.6h9.8v9.4h-9.8zM625.7 608.1h9.8v9.4h-9.8zM631.4 608.5h9.8v9.4h-9.8zM637.1 610.3h9.8v9.4h-9.8zM642.9 609.7h9.8v9.4h-9.8zM648.6 608.5h9.8v9.4h-9.8zM654.3 606.2h9.8v9.4h-9.8zM660.0 603.8h9.8v9.4h-9.8zM665.8 602.7h9.8v9.4h-9.8z" fill="#ff0000"/>
<path d="M304.6 517.4V533.0M302.1 517.4h5M302.1 533.0h5M310.3 503.2V517.4M307.8 503.2h5M307.8 517.4h5M316.0 483.2V497.2M313.5 483.2h5M313.5 497.2h5M321.7 469.3V476.2M319.2 469.3h5M319.2 476.2h5M327.4 451.7V462.5M324.9 451.7h5M324.9 462.5h5M333.2 438.1V452.5M330.7 438.1h5M330.7 452.5h5M338.9 444.7V452.5M336.4 444.7h5M336.4 452.5h5M344.6 449.7V463.9M342.1 449.7h5M342.1 463.9h5M350.3 457.5V464.4M347.8 457.5h5M347.8 464.4h5M356.0 460.0V466.1M353.5 460.0h5M353.5 466.1h5M361.8 461.7V470.0M359.3 461.7h5M359.3 470.0h5M367.5 463.4V475.7M365.0 463.4h5M365.0 475.7h5M373.2 450.9V458.5M370.7 450.9h5M370.7 458.5h5M378.9 435.2V445.2M376.4 435.2h5M376.4 445.2h5M384.6 432.3V438.5M382.1 432.3h5M382.1 438.5h5M390.4 428.2V434.6M387.9 428.2h5M387.9 434.6h5M396.1 444.9V460.5M393.6 444.9h5M393.6 460.5h5M401.8 462.1V468.5M399.3 462.1h5M399.3 468.5h5M407.5 463.2V476.3M405.0 463.2h5M405.0 476.3h5M413.2 461.9V476.1M410.8 461.9h5M410.8 476.1h5M419.0 449.6V460.7M416.5 449.6h5M416.5 460.7h5M424.7 442.6V452.8M422.2 442.6h5M422.2 452.8h5M430.4 443.0V450.0M427.9 443.0h5M427.9 450.0h5M436.1 449.7V463.9M433.6 449.7h5M433.6 463.9h5M441.9 473.3V482.3M439.4 473.3h5M439.4 482.3h5M447.6 488.8V500.5M445.1 488.8h5M445.1 500.5h5M453.3 505.8V521.4M450.8 505.8h5M450.8 521.4h5M459.0 517.9V533.5M456.5 517.9h5M456.5 533.5h5" stroke="#00ff00" stroke-width="1" fill="none"/>
<path d="M93.8 598.2h9.8v9.4h-9.8zM99.5 596.3h9.8v9.4h-9.8zM105.2 593.9h9.8v9.4h-9.8zM110.9 592.0h9.8v9.4h-9.8zM116.6 592.9h9.8v9.4h-9.8zM122.3 593.2h9.8v9.4h-9.8zM128.1 592.7h9.8v9.4h-9.8zM133.8 592.7h9.8v9.4h-9.8zM139.5 591.2h9.8v9.4h-9.8zM145.2 588.9h9.8v9.4h-9.8zM150.9 589.1h9.8v9.4h-9.8zM156.7 591.0h9.8v9.4h-9.8zM162.4 588.8h9.8v9.4h-9.8zM168.1 588.9h9.8v9.4h-9.8zM173.8 588.9h9.8v9.4h-9.8zM179.5 588.8h9.8v9.4h-9.8zM185.3 585.8h9.8v9.4h-9.8zM191.0 586.8h9.8v9.4h-9.8zM196.7 587.2h9.8v9.4h-9.8zM202.4 587.3h9.8v9.4h-9.8zM208.2 582.5h9.8v9.4h-9.8zM213.9 583.3h9.8v9.4h-9.8zM219.6 580.4h9.8v9.4h-9.8zM225.3 576.2h9.8v9.4h-9.8zM231.0 573.2h9.8v9.4h-9.8zM236.8 570.5h9.8v9.4h-9.8zM242.5 564.0h9.8v9.4h-9.8zM248.2 559.0h9.8v9.4h-9.8zM253.9 556.9h9.8v9.4h-9.8zM259.6 549.9h9.8v9.4h-9.8zM265.4 550.1h9.8v9.4h-9.8zM271.1 547.0h9.8v9.4h-9.8zM276.8 542.3h9.8v9.4h-9.8zM282.5 540.8h9.8v9.4h-9.8zM288.2 534.1h9.8v9.4h-9.8zM294.0 526.8h9.8v9.4h-9.8zM299.7 520.5h9.8v9.4h-9.8zM305.4 505.6h9.8v9.4h-9.8zM311.1 485.5h9.8v9.4h-9.8zM316.8 468.1h9.8v9.4h-9.8zM322.6 452.4h9.8v9.4h-9.8zM328.3 440.6h9.8v9.4h-9.8zM334.0 443.9h9.8v9.4h-9.8zM339.7 452.1h9.8v9.4h-9.8zM345.4 456.2h9.8v9.4h-9.8zM351.1 458.3h9.8v9.4h-9.8zM356.9 461.2h9.8v9.4h-9.8zM362.6 464.8h9.8v9.4h-9.8zM368.3 450.0h9.8v9.4h-9.8zM374.0 435.5h9.8v9.4h-9.8zM379.8 430.7h9.8v9.4h-9.8zM385.5 426.7h9.8v9.4h-9.8zM391.2 448.0h9.8v9.4h-9.8zM396.9 460.6h9.8v9.4h-9.8zM402.6 465.1h9.8v9.4h-9.8zM408.4 464.3h9.8v9.4h-9.8zM414.1 450.5h9.8v9.4h-9.8zM419.8 443.0h9.8v9.4h-9.8zM425.5 441.8h9.8v9.4h-9.8zM431.2 452.1h9.8v9.4h-9.8zM437.0 473.1h9.8v9.4h-9.8zM442.7 489.9h9.8v9.4h-9.8zM448.4 508.9h9.8v9.4h-9.8zM454.1 521.0h9.8v9.4h-9.8zM459.8 529.0h9.8v9.4h-9.8zM465.5 534.5h9.8v9.4h-9.8zM471.3 541.2h9.8v9.4h-9.8zM477.0 544.7h9.8v9.4h-9.8zM482.7 547.8h9.8v9.4h-9.8zM488.4 551.9h9.8v9.4h-9.8zM494.1 555.6h9.8v9.4h-9.8zM499.9 559.4h9.8v9.4h-9.8zM505.6 560.4h9.8v9.4h-9.8zM511.3 565.2h9.8v9.4h-9.8zM517.0 564.1h9.8v9.4h-9.8zM522.8 569.7h9.8v9.4h-9.8zM528.5 572.7h9.8v9.4h-9.8zM534.2 574.7h9.8v9.4h-9.8zM539.9 578.6h9.8v9.4h-9.8zM545.6 580.3h9.8v9.4h-9.8zM551.4 584.5h9.8v9.4h-9.8zM557.1 585.6h9.8v9.4h-9.8zM562.8 587.2h9.8v9.4h-9.8zM568.5 589.3h9.8v9.4h-9.8zM574.2 587.1h9.8v9.4h-9.8zM579.9 586.4h9.8v9.4h-9.8zM585.7 590.0h9.8v9.4h-9.8zM591.4 590.0h9.8v9.4h-9.8zM597.1 587.6h9.8v9.4h-9.8zM602.8 587.6h9.8v9.4h-9.8zM608.5 590.6h9.8v9.4h-9.8zM614.3 588.8h9.8v9.4h-9.8zM620.0 590.7h9.8v9.4h-9.8zM625.7 591.1h9.8v9.4h-9.8zM631.4 591.7h9.8v9.4h-9.8zM637.1 594.2h9.8v9.4h-9.8zM642.9 594.9h9.8v9.4h-9.8zM648.6 593.3h9.8v9.4h-9.8zM654.3 594.2h9.8v9.4h-9.8zM660.0 592.5h9.8v9.4h-9.8zM665.8 592.0h9.8v9.4h-9.8z" fill="#00ff00"/>
<path d="M424.7 398.6V411.8M422.2 398.6h5M422.2 411.8h5M430.4 403.9V417.9M427.9 403.9h5M427.9 417.9h5M436.1 424.9V436.2M433.6 424.9h5M433.6 436.2h5M441.9 449.2V466.3M439.4 449.2h5M439.4 466.3h5M447.6 473.1V483.6M445.1 473.1h5M445.1 483.6h5M453.3 489.5V505.8M450.8 489.5h5M450.8 505.8h5M459.0 502.0V517.1M456.5 502.0h5M456.5 517.1h5" stroke="#0000ff" stroke-width="1" fill="none"/>
<path d="M93.8 606.8h9.8v9.4h-9.8zM99.5 606.3h9.8v9.4h-9.8zM105.2 608.4h9.8v9.4h-9.8zM110.9 607.3h9.8v9.4h-9.8zM116.6 607.6h9.8v9.4h-9.8zM122.3 605.7h9.8v9.4h-9.8zM128.1 607.2h9.8v9.4h-9.8zM133.8 606.8h9.8v9.4h-9.8zM139.5 605.6h9.8v9.4h-9.8zM145.2 602.6h9.8v9.4h-9.8zM150.9 602.5h9.8v9.4h-9.8zM156.7 601.7h9.8v9.4h-9.8zM162.4 604.2h9.8v9.4h-9.8zM168.1 603.0h9.8v9.4h-9.8zM173.8 603.6h9.8v9.4h-9.8zM179.5 599.0h9.8v9.4h-9.8zM185.3 599.6h9.8v9.4h-9.8zM191.0 600.1h9.8v9.4h-9.8zM196.7 596.6h9.8v9.4h-9.8zM202.4 596.4h9.8v9.4h-9.8zM208.2 597.0h9.8v9.4h-9.8zM213.9 591.9h9.8v9.4h-9.8zM219.6 591.4h9.8v9.4h-9.8zM225.3 587.2h9.8v9.4h-9.8zM231.0 585.6h9.8v9.4h-9.8zM236.8 586.0h9.8v9.4h-9.8zM242.5 580.6h9.8v9.4h-9.8zM248.2 576.6h9.8v9.4h-9.8zM253.9 575.1h9.8v9.4h-9.8zM259.6 570.0h9.8v9.4h-9.8zM265.4 562.4h9.8v9.4h-9.8zM271.1 559.5h9.8v9.4h-9.8zM276.8 554.5h9.8v9.4h-9.8zM282.5 552.5h9.8v9.4h-9.8zM288.2 540.8h9.8v9.4h-9.8zM294.0 532.3h9.8v9.4h-9.8zM299.7 520.1h9.8v9.4h-9.8zM305.4 504.8h9.8v9.4h-9.8zM311.1 486.2h9.8v9.4h-9.8zM316.8 470.0h9.8v9.4h-9.8zM322.6 451.5h9.8v9.4h-9.8zM328.3 417.8h9.8v9.4h-9.8zM334.0 411.9h9.8v9.4h-9.8zM339.7 401.7h9.8v9.4h-9.8zM345.4 396.0h9.8v9.4h-9.8zM351.1 393.2h9.8v9.4h-9.8zM356.9 387.2h9.8v9.4h-9.8zM362.6 391.0h9.8v9.4h-9.8zM368.3 394.9h9.8v9.4h-9.8zM374.0 394.6h9.8v9.4h-9.8zM379.8 394.4h9.8v9.4h-9.8zM385.5 401.1h9.8v9.4h-9.8zM391.2 407.6h9.8v9.4h-9.8zM396.9 400.5h9.8v9.4h-9.8zM402.6 391.4h9.8v9.4h-9.8zM408.4 390.3h9.8v9.4h-9.8zM414.1 395.2h9.8v9.4h-9.8zM419.8 400.5h9.8v9.4h-9.8zM425.5 406.2h9.8v9.4h-9.8zM431.2 425.9h9.8v9.4h-9.8zM437.0 453.1h9.8v9.4h-9.8zM442.7 473.6h9.8v9.4h-9.8zM448.4 493.0h9.8v9.4h-9.8zM454.1 504.9h9.8v9.4h-9.8zM459.8 521.9h9.8v9.4h-9.8zM465.5 530.4h9.8v9.4h-9.8zM471.3 538.7h9.8v9.4h-9.8zM477.0 541.0h9.8v9.4h-9.8zM482.7 550.6h9.8v9.4h-9.8zM488.4 555.2h9.8v9.4h-9.8zM494.1 559.9h9.8v9.4h-9.8zM499.9 565.9h9.8v9.4h-9.8zM505.6 573.7h9.8v9.4h-9.8zM511.3 578.6h9.8v9.4h-9.8zM517.0 580.0h9.8v9.4h-9.8zM522.8 586.6h9.8v9.4h-9.8zM528.5 587.0h9.8v9.4h-9.8zM534.2 590.9h9.8v9.4h-9.8zM539.9 590.8h9.8v9.4h-9.8zM545.6 594.0h9.8v9.4h-9.8zM551.4 596.4h9.8v9.4h-9.8zM557.1 595.9h9.8v9.4h-9.8zM562.8 601.9h9.8v9.4h-9.8zM568.5 602.9h9.8v9.4h-9.8zM574.2 604.9h9.8v9.4h-9.8zM579.9 604.1h9.8v9.4h-9.8zM585.7 603.6h9.8v9.4h-9.8zM591.4 604.2h9.8v9.4h-9.8zM597.1 602.1h9.8v9.4h-9.8zM602.8 603.7h9.8v9.4h-9.8zM608.5 604.1h9.8v9.4h-9.8zM614.3 603.6h9.8v9.4h-9.8zM620.0 606.7h9.8v9.4h-9.8zM625.7 606.7h9.8v9.4h-9.8zM631.4 608.7h9.8v9.4h-9.8zM637.1 606.4h9.8v9.4h-9.8zM642.9 608.0h9.8v9.4h-9.8zM648.6 606.4h9.8v9.4h-9.8zM654.3 606.7h9.8v9.4h-9.8zM660.0 604.8h9.8v9.4h-9.8zM665.8 599.5h9.8v9.4h-9.8z" fill="#0000ff"/>
<path d="M321.7 489.6V503.7M319.2 489.6h5M319.2 503.7h5M327.4 483.6V493.4M324.9 483.6h5M324.9 493.4h5M333.2 462.5V480.8M330.7 462.5h5M330.7 480.8h5M338.9 448.5V458.6M336.4 448.5h5M336.4 458.6h5M344.6 433.5V448.9M342.1 433.5h5M342.1 448.9h5M350.3 420.5V437.0M347.8 420.5h5M347.8 437.0h5M356.0 398.3V412.5M353.5 398.3h5M353.5 412.5h5M361.8 386.1V404.1M359.3 386.1h5M359.3 404.1h5M367.5 383.8V401.0M365.0 383.8h5M365.0 401.0h5M373.2 386.1V400.9M370.7 386.1h5M370.7 400.9h5M378.9 372.4V388.3M376.4 372.4h5M376.4 388.3h5M384.6 359.5V374.2M382.1 359.5h5M382.1 374.2h5M390.4 362.7V384.0M387.9 362.7h5M387.9 384.0h5M396.1 389.9V399.9M393.6 389.9h5M393.6 399.9h5M401.8 383.4V398.3M399.3 383.4h5M399.3 398.3h5M407.5 390.5V401.6M405.0 390.5h5M405.0 401.6h5M413.2 401.8V411.4M410.8 401.8h5M410.8 411.4h5M419.0 409.7V429.6M416.5 409.7h5M416.5 429.6h5M424.7 430.6V445.5M422.2 430.6h5M422.2 445.5h5M430.4 442.3V462.7M427.9 442.3h5M427.9 462.7h5M436.1 467.6V481.8M433.6 467.6h5M433.6 481.8h5M441.9 476.1V498.1M439.4 476.1h5M439.4 498.1h5M447.6 486.5V504.1M445.1 486.5h5M445.1 504.1h5M453.3 500.8V512.7M450.8 500.8h5M450.8 512.7h5M459.0 508.2V518.9M456.5 508.2h5M456.5 518.9h5" stroke="#ff00ff" stroke-width="1" fill="none"/>
<path d="M93.8 591.9h9.8v9.4h-9.8zM99.5 595.1h9.8v9.4h-9.8zM105.2 593.7h9.8v9.4h-9.8zM110.9 594.6h9.8v9.4h-9.8zM116.6 593.6h9.8v9.4h-9.8zM122.3 591.8h9.8v9.4h-9.8zM128.1 594.9h9.8v9.4h-9.8zM133.8 594.8h9.8v9.4h-9.8zM139.5 591.4h9.8v9.4h-9.8zM145.2 593.3h9.8v9.4h-9.8zM150.9 593.2h9.8v9.4h-9.8zM156.7 592.8h9.8v9.4h-9.8zM162.4 592.9h9.8v9.4h-9.8zM168.1 592.7h9.8v9.4h-9.8zM173.8 589.9h9.8v9.4h-9.8zM179.5 590.2h9.8v9.4h-9.8zM185.3 590.9h9.8v9.4h-9.8zM191.0 587.4h9.8v9.4h-9.8zM196.7 586.3h9.8v9.4h-9.8zM202.4 586.0h9.8v9.4h-9.8zM208.2 588.3h9.8v9.4h-9.8zM213.9 584.6h9.8v9.4h-9.8zM219.6 581.9h9.8v9.4h-9.8zM225.3 578.2h9.8v9.4h-9.8zM231.0 574.6h9.8v9.4h-9.8zM236.8 573.4h9.8v9.4h-9.8zM242.5 563.4h9.8v9.4h-9.8zM248.2 563.3h9.8v9.4h-9.8zM253.9 556.6h9.8v9.4h-9.8zM259.6 550.2h9.8v9.4h-9.8zM265.4 543.4h9.8v9.4h-9.8zM271.1 542.0h9.8v9.4h-9.8zM276.8 533.5h9.8v9.4h-9.8zM282.5 530.3h9.8v9.4h-9.8zM288.2 517.4h9.8v9.4h-9.8zM294.0 512.5h9.8v9.4h-9.8zM299.7 507.0h9.8v9.4h-9.8zM305.4 503.2h9.8v9.4h-9.8zM311.1 496.5h9.8v9.4h-9.8zM316.8 492.0h9.8v9.4h-9.8zM322.6 483.8h9.8v9.4h-9.8zM328.3 466.9h9.8v9.4h-9.8zM334.0 448.8h9.8v9.4h-9.8zM339.7 436.5h9.8v9.4h-9.8zM345.4 424.1h9.8v9.4h-9.8zM351.1 400.7h9.8v9.4h-9.8zM356.9 390.4h9.8v9.4h-9.8zM362.6 387.7h9.8v9.4h-9.8zM368.3 388.8h9.8v9.4h-9.8zM374.0 375.7h9.8v9.4h-9.8zM379.8 362.1h9.8v9.4h-9.8zM385.5 368.7h9.8v9.4h-9.8zM391.2 390.2h9.8v9.4h-9.8zM396.9 386.2h9.8v9.4h-9.8zM402.6 391.4h9.8v9.4h-9.8zM408.4 401.9h9.8v9.4h-9.8zM414.1 414.9h9.8v9.4h-9.8zM419.8 433.4h9.8v9.4h-9.8zM425.5 447.8h9.8v9.4h-9.8zM431.2 470.0h9.8v9.4h-9.8zM437.0 482.4h9.8v9.4h-9.8zM442.7 490.6h9.8v9.4h-9.8zM448.4 502.0h9.8v9.4h-9.8zM454.1 508.9h9.8v9.4h-9.8zM459.8 515.5h9.8v9.4h-9.8zM465.5 518.9h9.8v9.4h-9.8zM471.3 522.4h9.8v9.4h-9.8zM477.0 527.6h9.8v9.4h-9.8zM482.7 530.4h9.8v9.4h-9.8zM488.4 536.0h9.8v9.4h-9.8zM494.1 545.4h9.8v9.4h-9.8zM499.9 552.3h9.8v9.4h-9.8zM505.6 556.5h9.8v9.4h-9.8zM511.3 563.7h9.8v9.4h-9.8zM517.0 569.0h9.8v9.4h-9.8zM522.8 571.7h9.8v9.4h-9.8zM528.5 575.9h9.8v9.4h-9.8zM534.2 581.1h9.8v9.4h-9.8zM539.9 579.2h9.8v9.4h-9.8zM545.6 581.8h9.8v9.4h-9.8zM551.4 586.5h9.8v9.4h-9.8zM557.1 588.6h9.8v9.4h-9.8zM562.8 585.5h9.8v9.4h-9.8zM568.5 588.8h9.8v9.4h-9.8zM574.2 592.0h9.8v9.4h-9.8zM579.9 592.0h9.8v9.4h-9.8zM585.7 593.8h9.8v9.4h-9.8zM591.4 591.4h9.8v9.4h-9.8zM597.1 592.7h9.8v9.4h-9.8zM602.8 595.1h9.8v9.4h-9.8zM608.5 592.6h9.8v9.4h-9.8zM614.3 593.1h9.8v9.4h-9.8zM620.0 595.9h9.8v9.4h-9.8zM625.7 595.4h9.8v9.4h-9.8zM631.4 593.0h9.8v9.4h-9.8zM637.1 593.0h9.8v9.4h-9.8zM642.9 595.1h9.8v9.4h-9.8zM648.6 592.1h9.8v9.4h-9.8zM654.3 593.4h9.8v9.4h-9.8zM660.0 592.6h9.8v9.4h-9.8zM665.8 593.9h9.8v9.4h-9.8z" fill="#ff00ff"/>
<line x1="192.3" y1="540.2" x2="300.6" y2="413.5" stroke="#000" stroke-width="1.3"/>
<path d="M320.7 389.9 L305.7 420.5 L292.8 409.5Z" fill="#000"/>
<line x1="440.4" y1="407" x2="553.1" y2="518.1" stroke="#000" stroke-width="1.3"/>
<path d="M575.2 539.9 L545.7 522.8 L557.7 510.7Z" fill="#000"/>
<text transform="translate(236.5,467.20000000000005) rotate(-49.3)" text-anchor="middle" font-size="26">acceleration</text>
<text transform="translate(503.09999999999997,449.8) rotate(44.6)" text-anchor="middle" font-size="26">deceleration</text>
<rect x="589.2" y="400.8" width="10" height="10" fill="#000000"/>
<text x="632" y="415.4" font-size="27">FF1</text>
<rect x="589.2" y="433.4" width="10" height="10" fill="#ff0000"/>
<text x="632" y="448.0" font-size="27">FF2</text>
<rect x="589.2" y="466.0" width="10" height="10" fill="#00ff00"/>
<text x="632" y="480.6" font-size="27">FF3</text>
<rect x="589.2" y="498.6" width="10" height="10" fill="#0000ff"/>
<text x="632" y="513.2" font-size="27">FF4</text>
<rect x="589.2" y="531.2" width="10" height="10" fill="#ff00ff"/>
<text x="632" y="545.8" font-size="27">FF5</text>
<path d="M87.1 672.8 V983.9 M86.1 983.9 H682.6" stroke="#111" stroke-width="1.9" fill="none"/>
<text x="76.6" y="707.8" text-anchor="end" font-size="27">0.5</text>
<text x="76.6" y="759.6" text-anchor="end" font-size="27">0.4</text>
<text x="76.6" y="811.4" text-anchor="end" font-size="27">0.4</text>
<text x="76.6" y="863.2" text-anchor="end" font-size="27">0.3</text>
<text x="76.6" y="915.0" text-anchor="end" font-size="27">0.3</text>
<text x="76.6" y="966.8" text-anchor="end" font-size="27">0.2</text>
<text x="98.7" y="1010.1" text-anchor="middle" font-size="27">0</text>
<text x="155.8" y="1010.1" text-anchor="middle" font-size="27">100</text>
<text x="213.1" y="1010.1" text-anchor="middle" font-size="27">200</text>
<text x="270.2" y="1010.1" text-anchor="middle" font-size="27">300</text>
<text x="327.4" y="1010.1" text-anchor="middle" font-size="27">400</text>
<text x="384.6" y="1010.1" text-anchor="middle" font-size="27">500</text>
<text x="441.9" y="1010.1" text-anchor="middle" font-size="27">400</text>
<text x="499.0" y="1010.1" text-anchor="middle" font-size="27">300</text>
<text x="556.2" y="1010.1" text-anchor="middle" font-size="27">200</text>
<text x="613.4" y="1010.1" text-anchor="middle" font-size="27">100</text>
<text x="670.6" y="1010.1" text-anchor="middle" font-size="27">0</text>
<path d="M87.1 699.0h15 M87.1 750.8h15 M87.1 802.6h15 M87.1 854.4h15 M87.1 906.2h15 M87.1 958.0h15 M87.1 673.1h7.5 M87.1 724.9h7.5 M87.1 776.7h7.5 M87.1 828.5h7.5 M87.1 880.3h7.5 M87.1 932.1h7.5 M98.7 983.9v-15 M155.8 983.9v-15 M213.1 983.9v-15 M270.2 983.9v-15 M327.4 983.9v-15 M384.6 983.9v-15 M441.9 983.9v-15 M499.0 983.9v-15 M556.2 983.9v-15 M613.4 983.9v-15 M670.6 983.9v-15 M127.2 983.9v-7.5 M184.4 983.9v-7.5 M241.7 983.9v-7.5 M298.9 983.9v-7.5 M356.0 983.9v-7.5 M413.2 983.9v-7.5 M470.4 983.9v-7.5 M527.6 983.9v-7.5 M584.8 983.9v-7.5 M642.0 983.9v-7.5 " stroke="#000" stroke-width="1.7" fill="none"/>
<text transform="translate(26.3,828) rotate(-90)" text-anchor="middle" font-size="27.7">Mean voltage (mV)</text>
<text x="131.8" y="768.1" font-size="27" letter-spacing="0.4">(c)</text>
<path d="M104.4 924.3V932.0M101.9 924.3h5M101.9 932.0h5M110.1 921.7V933.2M107.6 921.7h5M107.6 933.2h5M115.8 926.4V931.5M113.3 926.4h5M113.3 931.5h5M121.5 924.1V933.0M119.0 924.1h5M119.0 933.0h5M127.2 919.5V930.6M124.8 919.5h5M124.8 930.6h5M133.0 919.9V931.7M130.5 919.9h5M130.5 931.7h5M138.7 920.6V930.4M136.2 920.6h5M136.2 930.4h5M144.4 924.6V930.7M141.9 924.6h5M141.9 930.7h5M150.1 917.8V931.4M147.6 917.8h5M147.6 931.4h5M155.8 916.3V927.8M153.3 916.3h5M153.3 927.8h5M161.6 920.0V929.3M159.1 920.0h5M159.1 929.3h5M167.3 918.2V925.5M164.8 918.2h5M164.8 925.5h5M173.0 918.7V929.1M170.5 918.7h5M170.5 929.1h5M178.7 919.3V930.0M176.2 919.3h5M176.2 930.0h5M184.4 921.4V929.1M181.9 921.4h5M181.9 929.1h5M190.2 921.4V930.4M187.7 921.4h5M187.7 930.4h5M195.9 925.0V929.6M193.4 925.0h5M193.4 929.6h5M201.6 919.1V926.6M199.1 919.1h5M199.1 926.6h5M207.3 918.8V926.9M204.8 918.8h5M204.8 926.9h5M213.1 920.4V928.0M210.6 920.4h5M210.6 928.0h5M218.8 922.8V934.7M216.3 922.8h5M216.3 934.7h5M224.5 920.7V930.4M222.0 920.7h5M222.0 930.4h5M230.2 921.7V930.5M227.7 921.7h5M227.7 930.5h5M235.9 923.0V926.4M233.4 923.0h5M233.4 926.4h5M241.7 920.8V929.0M239.2 920.8h5M239.2 929.0h5M247.4 921.2V925.5M244.9 921.2h5M244.9 925.5h5M253.1 913.2V926.4M250.6 913.2h5M250.6 926.4h5M258.8 916.3V920.1M256.3 916.3h5M256.3 920.1h5M264.5 909.6V922.4M262.0 909.6h5M262.0 922.4h5M270.2 908.6V920.1M267.8 908.6h5M267.8 920.1h5M276.0 905.3V917.0M273.5 905.3h5M273.5 917.0h5M281.7 906.3V918.5M279.2 906.3h5M279.2 918.5h5M287.4 907.1V918.6M284.9 907.1h5M284.9 918.6h5M293.1 909.2V911.3M290.6 909.2h5M290.6 911.3h5M298.9 907.9V913.8M296.4 907.9h5M296.4 913.8h5M304.6 912.1V915.9M302.1 912.1h5M302.1 915.9h5M310.3 906.1V914.6M307.8 906.1h5M307.8 914.6h5M316.0 904.2V915.1M313.5 904.2h5M313.5 915.1h5M321.7 908.7V912.4M319.2 908.7h5M319.2 912.4h5M327.4 902.6V907.3M324.9 902.6h5M324.9 907.3h5M333.2 894.7V902.6M330.7 894.7h5M330.7 902.6h5M338.9 892.0V901.2M336.4 892.0h5M336.4 901.2h5M344.6 889.8V895.9M342.1 889.8h5M342.1 895.9h5M350.3 874.3V881.4M347.8 874.3h5M347.8 881.4h5M356.0 859.8V871.1M353.5 859.8h5M353.5 871.1h5M361.8 862.4V864.6M359.3 862.4h5M359.3 864.6h5M367.5 849.0V857.7M365.0 849.0h5M365.0 857.7h5M373.2 846.0V855.7M370.7 846.0h5M370.7 855.7h5M378.9 837.7V848.2M376.4 837.7h5M376.4 848.2h5M384.6 833.8V840.6M382.1 833.8h5M382.1 840.6h5M390.4 837.0V841.0M387.9 837.0h5M387.9 841.0h5M396.1 845.8V850.3M393.6 845.8h5M393.6 850.3h5M401.8 851.8V860.9M399.3 851.8h5M399.3 860.9h5M407.5 857.0V859.5M405.0 857.0h5M405.0 859.5h5M413.2 865.6V869.1M410.8 865.6h5M410.8 869.1h5M419.0 867.0V876.6M416.5 867.0h5M416.5 876.6h5M424.7 875.7V889.1M422.2 875.7h5M422.2 889.1h5M430.4 883.5V890.7M427.9 883.5h5M427.9 890.7h5M436.1 886.2V889.8M433.6 886.2h5M433.6 889.8h5M441.9 894.5V898.9M439.4 894.5h5M439.4 898.9h5M447.6 895.0V902.3M445.1 895.0h5M445.1 902.3h5M453.3 894.5V906.3M450.8 894.5h5M450.8 906.3h5M459.0 899.3V903.6M456.5 899.3h5M456.5 903.6h5M464.7 904.2V908.1M462.2 904.2h5M462.2 908.1h5M470.4 900.7V911.9M467.9 900.7h5M467.9 911.9h5M476.2 901.4V907.4M473.7 901.4h5M473.7 907.4h5M481.9 906.9V910.2M479.4 906.9h5M479.4 910.2h5M487.6 908.7V911.7M485.1 908.7h5M485.1 911.7h5M493.3 906.8V917.4M490.8 906.8h5M490.8 917.4h5M499.0 913.1V915.1M496.5 913.1h5M496.5 915.1h5M504.8 905.9V916.6M502.3 905.9h5M502.3 916.6h5M510.5 911.3V916.9M508.0 911.3h5M508.0 916.9h5M516.2 913.3V916.7M513.7 913.3h5M513.7 916.7h5M521.9 906.3V914.8M519.4 906.3h5M519.4 914.8h5M527.6 908.2V919.6M525.1 908.2h5M525.1 919.6h5M533.4 909.0V918.9M530.9 909.0h5M530.9 918.9h5M539.1 909.4V922.3M536.6 909.4h5M536.6 922.3h5M544.8 918.8V922.1M542.3 918.8h5M542.3 922.1h5M550.5 915.5V918.1M548.0 915.5h5M548.0 918.1h5M556.2 917.8V924.1M553.8 917.8h5M553.8 924.1h5M562.0 921.1V930.5M559.5 921.1h5M559.5 930.5h5M567.7 916.5V929.9M565.2 916.5h5M565.2 929.9h5M573.4 924.3V927.0M570.9 924.3h5M570.9 927.0h5M579.1 924.4V932.8M576.6 924.4h5M576.6 932.8h5M584.8 922.3V929.5M582.3 922.3h5M582.3 929.5h5M590.6 924.0V935.6M588.1 924.0h5M588.1 935.6h5M596.3 929.8V932.2M593.8 929.8h5M593.8 932.2h5M602.0 926.4V932.5M599.5 926.4h5M599.5 932.5h5M607.7 927.2V936.1M605.2 927.2h5M605.2 936.1h5M613.4 927.1V937.7M610.9 927.1h5M610.9 937.7h5M619.2 930.8V933.5M616.7 930.8h5M616.7 933.5h5M624.9 936.7V940.6M622.4 936.7h5M622.4 940.6h5M630.6 933.3V939.3M628.1 933.3h5M628.1 939.3h5M636.3 928.4V934.3M633.8 928.4h5M633.8 934.3h5M642.0 931.6V935.3M639.5 931.6h5M639.5 935.3h5M647.8 922.3V934.5M645.3 922.3h5M645.3 934.5h5M653.5 927.4V933.5M651.0 927.4h5M651.0 933.5h5M659.2 926.5V939.8M656.7 926.5h5M656.7 939.8h5M664.9 930.7V936.5M662.4 930.7h5M662.4 936.5h5M670.6 929.5V942.4M668.1 929.5h5M668.1 942.4h5" stroke="#000000" stroke-width="1" fill="none"/>
<path d="M93.8 920.0h9.8v9.4h-9.8zM99.5 923.4h9.8v9.4h-9.8zM105.2 922.8h9.8v9.4h-9.8zM110.9 924.2h9.8v9.4h-9.8zM116.6 923.9h9.8v9.4h-9.8zM122.3 920.4h9.8v9.4h-9.8zM128.1 921.1h9.8v9.4h-9.8zM133.8 920.8h9.8v9.4h-9.8zM139.5 922.9h9.8v9.4h-9.8zM145.2 919.9h9.8v9.4h-9.8zM150.9 917.3h9.8v9.4h-9.8zM156.7 919.9h9.8v9.4h-9.8zM162.4 917.1h9.8v9.4h-9.8zM168.1 919.2h9.8v9.4h-9.8zM173.8 920.0h9.8v9.4h-9.8zM179.5 920.6h9.8v9.4h-9.8zM185.3 921.2h9.8v9.4h-9.8zM191.0 922.6h9.8v9.4h-9.8zM196.7 918.2h9.8v9.4h-9.8zM202.4 918.2h9.8v9.4h-9.8zM208.2 919.5h9.8v9.4h-9.8zM213.9 924.1h9.8v9.4h-9.8zM219.6 920.8h9.8v9.4h-9.8zM225.3 921.4h9.8v9.4h-9.8zM231.0 920.0h9.8v9.4h-9.8zM236.8 920.2h9.8v9.4h-9.8zM242.5 918.6h9.8v9.4h-9.8zM248.2 915.1h9.8v9.4h-9.8zM253.9 913.5h9.8v9.4h-9.8zM259.6 911.3h9.8v9.4h-9.8zM265.4 909.7h9.8v9.4h-9.8zM271.1 906.4h9.8v9.4h-9.8zM276.8 907.7h9.8v9.4h-9.8zM282.5 908.1h9.8v9.4h-9.8zM288.2 905.6h9.8v9.4h-9.8zM294.0 906.1h9.8v9.4h-9.8zM299.7 909.3h9.8v9.4h-9.8zM305.4 905.6h9.8v9.4h-9.8zM311.1 904.9h9.8v9.4h-9.8zM316.8 905.8h9.8v9.4h-9.8zM322.6 900.2h9.8v9.4h-9.8zM328.3 894.0h9.8v9.4h-9.8zM334.0 891.9h9.8v9.4h-9.8zM339.7 888.2h9.8v9.4h-9.8zM345.4 873.1h9.8v9.4h-9.8zM351.1 860.7h9.8v9.4h-9.8zM356.9 858.8h9.8v9.4h-9.8zM362.6 848.6h9.8v9.4h-9.8zM368.3 846.2h9.8v9.4h-9.8zM374.0 838.2h9.8v9.4h-9.8zM379.8 832.5h9.8v9.4h-9.8zM385.5 834.3h9.8v9.4h-9.8zM391.2 843.4h9.8v9.4h-9.8zM396.9 851.7h9.8v9.4h-9.8zM402.6 853.5h9.8v9.4h-9.8zM408.4 862.6h9.8v9.4h-9.8zM414.1 867.1h9.8v9.4h-9.8zM419.8 877.7h9.8v9.4h-9.8zM425.5 882.4h9.8v9.4h-9.8zM431.2 883.3h9.8v9.4h-9.8zM437.0 892.0h9.8v9.4h-9.8zM442.7 893.9h9.8v9.4h-9.8zM448.4 895.7h9.8v9.4h-9.8zM454.1 896.7h9.8v9.4h-9.8zM459.8 901.4h9.8v9.4h-9.8zM465.5 901.6h9.8v9.4h-9.8zM471.3 899.7h9.8v9.4h-9.8zM477.0 903.8h9.8v9.4h-9.8zM482.7 905.5h9.8v9.4h-9.8zM488.4 907.4h9.8v9.4h-9.8zM494.1 909.4h9.8v9.4h-9.8zM499.9 906.5h9.8v9.4h-9.8zM505.6 909.4h9.8v9.4h-9.8zM511.3 910.3h9.8v9.4h-9.8zM517.0 905.9h9.8v9.4h-9.8zM522.8 909.2h9.8v9.4h-9.8zM528.5 909.2h9.8v9.4h-9.8zM534.2 911.1h9.8v9.4h-9.8zM539.9 915.7h9.8v9.4h-9.8zM545.6 912.1h9.8v9.4h-9.8zM551.4 916.3h9.8v9.4h-9.8zM557.1 921.1h9.8v9.4h-9.8zM562.8 918.5h9.8v9.4h-9.8zM568.5 920.9h9.8v9.4h-9.8zM574.2 923.9h9.8v9.4h-9.8zM579.9 921.2h9.8v9.4h-9.8zM585.7 925.1h9.8v9.4h-9.8zM591.4 926.3h9.8v9.4h-9.8zM597.1 924.7h9.8v9.4h-9.8zM602.8 926.9h9.8v9.4h-9.8zM608.5 927.7h9.8v9.4h-9.8zM614.3 927.5h9.8v9.4h-9.8zM620.0 934.0h9.8v9.4h-9.8zM625.7 931.6h9.8v9.4h-9.8zM631.4 926.6h9.8v9.4h-9.8zM637.1 928.7h9.8v9.4h-9.8zM642.9 923.7h9.8v9.4h-9.8zM648.6 925.7h9.8v9.4h-9.8zM654.3 928.4h9.8v9.4h-9.8zM660.0 928.9h9.8v9.4h-9.8zM665.8 931.3h9.8v9.4h-9.8z" fill="#000000"/>
<path d="M98.7 905.1V929.1M96.2 905.1h5M96.2 929.1h5M104.4 937.0V941.7M101.9 937.0h5M101.9 941.7h5M110.1 939.9V957.2M107.6 939.9h5M107.6 957.2h5M115.8 944.5V956.4M113.3 944.5h5M113.3 956.4h5M121.5 947.2V959.9M119.0 947.2h5M119.0 959.9h5M127.2 949.5V957.0M124.8 949.5h5M124.8 957.0h5M133.0 943.2V956.2M130.5 943.2h5M130.5 956.2h5M138.7 939.3V956.3M136.2 939.3h5M136.2 956.3h5M144.4 942.5V955.8M141.9 942.5h5M141.9 955.8h5M150.1 942.4V951.7M147.6 942.4h5M147.6 951.7h5M155.8 944.9V955.5M153.3 944.9h5M153.3 955.5h5M161.6 936.0V949.9M159.1 936.0h5M159.1 949.9h5M167.3 935.2V942.7M164.8 935.2h5M164.8 942.7h5M173.0 931.6V937.5M170.5 931.6h5M170.5 937.5h5M178.7 926.4V942.1M176.2 926.4h5M176.2 942.1h5M184.4 927.4V934.5M181.9 927.4h5M181.9 934.5h5M190.2 934.8V942.9M187.7 934.8h5M187.7 942.9h5M195.9 932.8V946.1M193.4 932.8h5M193.4 946.1h5M201.6 930.4V944.1M199.1 930.4h5M199.1 944.1h5M207.3 931.2V939.8M204.8 931.2h5M204.8 939.8h5M213.1 932.2V950.0M210.6 932.2h5M210.6 950.0h5M218.8 935.0V944.0M216.3 935.0h5M216.3 944.0h5M224.5 934.1V946.8M222.0 934.1h5M222.0 946.8h5M230.2 931.8V947.1M227.7 931.8h5M227.7 947.1h5M235.9 931.1V940.1M233.4 931.1h5M233.4 940.1h5M241.7 927.2V941.8M239.2 927.2h5M239.2 941.8h5M247.4 924.8V939.1M244.9 924.8h5M244.9 939.1h5M253.1 930.8V939.9M250.6 930.8h5M250.6 939.9h5M258.8 931.8V937.0M256.3 931.8h5M256.3 937.0h5M264.5 926.5V943.6M262.0 926.5h5M262.0 943.6h5M270.2 926.5V935.7M267.8 926.5h5M267.8 935.7h5M276.0 929.5V938.0M273.5 929.5h5M273.5 938.0h5M281.7 923.4V929.7M279.2 923.4h5M279.2 929.7h5M287.4 917.2V922.5M284.9 917.2h5M284.9 922.5h5M293.1 908.1V921.6M290.6 908.1h5M290.6 921.6h5M298.9 900.1V917.4M296.4 900.1h5M296.4 917.4h5M304.6 901.2V908.4M302.1 901.2h5M302.1 908.4h5M310.3 891.3V906.5M307.8 891.3h5M307.8 906.5h5M316.0 898.5V907.2M313.5 898.5h5M313.5 907.2h5M321.7 890.9V896.0M319.2 890.9h5M319.2 896.0h5M327.4 891.4V900.3M324.9 891.4h5M324.9 900.3h5M333.2 889.7V894.0M330.7 889.7h5M330.7 894.0h5M338.9 883.5V897.1M336.4 883.5h5M336.4 897.1h5M344.6 862.1V877.4M342.1 862.1h5M342.1 877.4h5M350.3 855.9V862.6M347.8 855.9h5M347.8 862.6h5M356.0 843.3V857.9M353.5 843.3h5M353.5 857.9h5M361.8 835.3V841.1M359.3 835.3h5M359.3 841.1h5M367.5 819.3V826.8M365.0 819.3h5M365.0 826.8h5M373.2 815.3V820.2M370.7 815.3h5M370.7 820.2h5M378.9 802.3V809.6M376.4 802.3h5M376.4 809.6h5M384.6 804.1V814.7M382.1 804.1h5M382.1 814.7h5M390.4 806.2V816.6M387.9 806.2h5M387.9 816.6h5M396.1 819.9V825.1M393.6 819.9h5M393.6 825.1h5M401.8 840.6V845.0M399.3 840.6h5M399.3 845.0h5M407.5 848.0V856.7M405.0 848.0h5M405.0 856.7h5M413.2 850.3V866.6M410.8 850.3h5M410.8 866.6h5M419.0 855.9V868.6M416.5 855.9h5M416.5 868.6h5M424.7 870.3V880.7M422.2 870.3h5M422.2 880.7h5M430.4 877.5V883.0M427.9 877.5h5M427.9 883.0h5M436.1 883.4V888.4M433.6 883.4h5M433.6 888.4h5M441.9 887.1V891.5M439.4 887.1h5M439.4 891.5h5M447.6 889.6V894.7M445.1 889.6h5M445.1 894.7h5M453.3 889.3V903.8M450.8 889.3h5M450.8 903.8h5M459.0 885.4V901.7M456.5 885.4h5M456.5 901.7h5M464.7 890.3V907.5M462.2 890.3h5M462.2 907.5h5M470.4 889.3V898.2M467.9 889.3h5M467.9 898.2h5M476.2 898.0V903.5M473.7 898.0h5M473.7 903.5h5M481.9 900.4V910.5M479.4 900.4h5M479.4 910.5h5M487.6 912.7V919.3M485.1 912.7h5M485.1 919.3h5M493.3 918.5V926.2M490.8 918.5h5M490.8 926.2h5M499.0 917.2V928.5M496.5 917.2h5M496.5 928.5h5M504.8 926.1V931.0M502.3 926.1h5M502.3 931.0h5M510.5 924.5V937.1M508.0 924.5h5M508.0 937.1h5M516.2 924.4V929.8M513.7 924.4h5M513.7 929.8h5M521.9 924.6V938.2M519.4 924.6h5M519.4 938.2h5M527.6 925.8V937.6M525.1 925.8h5M525.1 937.6h5M533.4 931.7V944.4M530.9 931.7h5M530.9 944.4h5M539.1 934.8V941.0M536.6 934.8h5M536.6 941.0h5M544.8 932.8V937.4M542.3 932.8h5M542.3 937.4h5M550.5 930.7V940.9M548.0 930.7h5M548.0 940.9h5M556.2 936.5V945.7M553.8 936.5h5M553.8 945.7h5M562.0 931.4V947.7M559.5 931.4h5M559.5 947.7h5M567.7 939.1V943.4M565.2 939.1h5M565.2 943.4h5M573.4 942.8V947.8M570.9 942.8h5M570.9 947.8h5M579.1 941.9V950.0M576.6 941.9h5M576.6 950.0h5M584.8 942.3V954.3M582.3 942.3h5M582.3 954.3h5M590.6 947.6V955.4M588.1 947.6h5M588.1 955.4h5M596.3 942.9V960.1M593.8 942.9h5M593.8 960.1h5M602.0 952.0V957.1M599.5 952.0h5M599.5 957.1h5M607.7 951.5V956.8M605.2 951.5h5M605.2 956.8h5M613.4 946.4V963.7M610.9 946.4h5M610.9 963.7h5M619.2 949.7V962.4M616.7 949.7h5M616.7 962.4h5M624.9 946.3V963.4M622.4 946.3h5M622.4 963.4h5M630.6 949.4V964.6M628.1 949.4h5M628.1 964.6h5M636.3 950.5V964.9M633.8 950.5h5M633.8 964.9h5M642.0 945.6V957.0M639.5 945.6h5M639.5 957.0h5M647.8 947.1V955.1M645.3 947.1h5M645.3 955.1h5M653.5 950.2V959.6M651.0 950.2h5M651.0 959.6h5M659.2 945.2V962.8M656.7 945.2h5M656.7 962.8h5M664.9 943.0V957.0M662.4 943.0h5M662.4 957.0h5M670.6 941.8V950.9M668.1 941.8h5M668.1 950.9h5" stroke="#ff0000" stroke-width="1" fill="none"/>
<path d="M93.8 912.4h9.8v9.4h-9.8zM99.5 934.6h9.8v9.4h-9.8zM105.2 943.9h9.8v9.4h-9.8zM110.9 945.7h9.8v9.4h-9.8zM116.6 948.8h9.8v9.4h-9.8zM122.3 948.5h9.8v9.4h-9.8zM128.1 945.0h9.8v9.4h-9.8zM133.8 943.1h9.8v9.4h-9.8zM139.5 944.4h9.8v9.4h-9.8zM145.2 942.3h9.8v9.4h-9.8zM150.9 945.5h9.8v9.4h-9.8zM156.7 938.3h9.8v9.4h-9.8zM162.4 934.2h9.8v9.4h-9.8zM168.1 929.8h9.8v9.4h-9.8zM173.8 929.6h9.8v9.4h-9.8zM179.5 926.2h9.8v9.4h-9.8zM185.3 934.2h9.8v9.4h-9.8zM191.0 934.8h9.8v9.4h-9.8zM196.7 932.6h9.8v9.4h-9.8zM202.4 930.8h9.8v9.4h-9.8zM208.2 936.4h9.8v9.4h-9.8zM213.9 934.8h9.8v9.4h-9.8zM219.6 935.7h9.8v9.4h-9.8zM225.3 934.7h9.8v9.4h-9.8zM231.0 930.9h9.8v9.4h-9.8zM236.8 929.8h9.8v9.4h-9.8zM242.5 927.2h9.8v9.4h-9.8zM248.2 930.7h9.8v9.4h-9.8zM253.9 929.7h9.8v9.4h-9.8zM259.6 930.3h9.8v9.4h-9.8zM265.4 926.4h9.8v9.4h-9.8zM271.1 929.0h9.8v9.4h-9.8zM276.8 921.8h9.8v9.4h-9.8zM282.5 915.1h9.8v9.4h-9.8zM288.2 910.1h9.8v9.4h-9.8zM294.0 904.0h9.8v9.4h-9.8zM299.7 900.1h9.8v9.4h-9.8zM305.4 894.2h9.8v9.4h-9.8zM311.1 898.1h9.8v9.4h-9.8zM316.8 888.8h9.8v9.4h-9.8zM322.6 891.2h9.8v9.4h-9.8zM328.3 887.2h9.8v9.4h-9.8zM334.0 885.6h9.8v9.4h-9.8zM339.7 865.0h9.8v9.4h-9.8zM345.4 854.6h9.8v9.4h-9.8zM351.1 845.9h9.8v9.4h-9.8zM356.9 833.5h9.8v9.4h-9.8zM362.6 818.3h9.8v9.4h-9.8zM368.3 813.1h9.8v9.4h-9.8zM374.0 801.2h9.8v9.4h-9.8zM379.8 804.7h9.8v9.4h-9.8zM385.5 806.7h9.8v9.4h-9.8zM391.2 817.8h9.8v9.4h-9.8zM396.9 838.1h9.8v9.4h-9.8zM402.6 847.7h9.8v9.4h-9.8zM408.4 853.8h9.8v9.4h-9.8zM414.1 857.6h9.8v9.4h-9.8zM419.8 870.8h9.8v9.4h-9.8zM425.5 875.5h9.8v9.4h-9.8zM431.2 881.2h9.8v9.4h-9.8zM437.0 884.6h9.8v9.4h-9.8zM442.7 887.5h9.8v9.4h-9.8zM448.4 891.9h9.8v9.4h-9.8zM454.1 888.8h9.8v9.4h-9.8zM459.8 894.2h9.8v9.4h-9.8zM465.5 889.1h9.8v9.4h-9.8zM471.3 896.1h9.8v9.4h-9.8zM477.0 900.8h9.8v9.4h-9.8zM482.7 911.3h9.8v9.4h-9.8zM488.4 917.6h9.8v9.4h-9.8zM494.1 918.2h9.8v9.4h-9.8zM499.9 923.9h9.8v9.4h-9.8zM505.6 926.1h9.8v9.4h-9.8zM511.3 922.4h9.8v9.4h-9.8zM517.0 926.7h9.8v9.4h-9.8zM522.8 927.0h9.8v9.4h-9.8zM528.5 933.4h9.8v9.4h-9.8zM534.2 933.2h9.8v9.4h-9.8zM539.9 930.4h9.8v9.4h-9.8zM545.6 931.1h9.8v9.4h-9.8zM551.4 936.4h9.8v9.4h-9.8zM557.1 934.8h9.8v9.4h-9.8zM562.8 936.6h9.8v9.4h-9.8zM568.5 940.6h9.8v9.4h-9.8zM574.2 941.3h9.8v9.4h-9.8zM579.9 943.6h9.8v9.4h-9.8zM585.7 946.8h9.8v9.4h-9.8zM591.4 946.8h9.8v9.4h-9.8zM597.1 949.9h9.8v9.4h-9.8zM602.8 949.4h9.8v9.4h-9.8zM608.5 950.4h9.8v9.4h-9.8zM614.3 951.4h9.8v9.4h-9.8zM620.0 950.1h9.8v9.4h-9.8zM625.7 952.3h9.8v9.4h-9.8zM631.4 953.0h9.8v9.4h-9.8zM637.1 946.6h9.8v9.4h-9.8zM642.9 946.4h9.8v9.4h-9.8zM648.6 950.2h9.8v9.4h-9.8zM654.3 949.3h9.8v9.4h-9.8zM660.0 945.3h9.8v9.4h-9.8zM665.8 941.7h9.8v9.4h-9.8z" fill="#ff0000"/>
<path d="M104.4 916.5V931.4M101.9 916.5h5M101.9 931.4h5M110.1 918.1V934.4M107.6 918.1h5M107.6 934.4h5M115.8 924.5V936.9M113.3 924.5h5M113.3 936.9h5M121.5 920.1V927.9M119.0 920.1h5M119.0 927.9h5M127.2 919.1V937.1M124.8 919.1h5M124.8 937.1h5M133.0 917.0V931.8M130.5 917.0h5M130.5 931.8h5M138.7 929.0V933.4M136.2 929.0h5M136.2 933.4h5M144.4 922.2V928.6M141.9 922.2h5M141.9 928.6h5M150.1 925.0V934.1M147.6 925.0h5M147.6 934.1h5M155.8 925.5V937.6M153.3 925.5h5M153.3 937.6h5M161.6 929.0V933.6M159.1 929.0h5M159.1 933.6h5M167.3 927.9V932.1M164.8 927.9h5M164.8 932.1h5M173.0 917.1V934.9M170.5 917.1h5M170.5 934.9h5M178.7 919.0V935.9M176.2 919.0h5M176.2 935.9h5M184.4 914.0V931.9M181.9 914.0h5M181.9 931.9h5M190.2 918.9V927.4M187.7 918.9h5M187.7 927.4h5M195.9 912.9V922.3M193.4 912.9h5M193.4 922.3h5M201.6 915.5V920.0M199.1 915.5h5M199.1 920.0h5M207.3 910.5V919.9M204.8 910.5h5M204.8 919.9h5M213.1 907.7V923.0M210.6 907.7h5M210.6 923.0h5M218.8 908.0V913.8M216.3 908.0h5M216.3 913.8h5M224.5 908.7V913.4M222.0 908.7h5M222.0 913.4h5M230.2 907.8V923.3M227.7 907.8h5M227.7 923.3h5M235.9 908.5V915.8M233.4 908.5h5M233.4 915.8h5M241.7 911.7V920.4M239.2 911.7h5M239.2 920.4h5M247.4 910.9V918.0M244.9 910.9h5M244.9 918.0h5M253.1 907.4V918.5M250.6 907.4h5M250.6 918.5h5M258.8 914.7V923.1M256.3 914.7h5M256.3 923.1h5M264.5 908.7V921.3M262.0 908.7h5M262.0 921.3h5M270.2 906.0V918.8M267.8 906.0h5M267.8 918.8h5M276.0 909.6V923.9M273.5 909.6h5M273.5 923.9h5M281.7 914.2V919.5M279.2 914.2h5M279.2 919.5h5M287.4 906.6V923.4M284.9 906.6h5M284.9 923.4h5M293.1 906.4V922.8M290.6 906.4h5M290.6 922.8h5M298.9 904.7V913.5M296.4 904.7h5M296.4 913.5h5M304.6 903.0V913.9M302.1 903.0h5M302.1 913.9h5M310.3 898.8V909.2M307.8 898.8h5M307.8 909.2h5M316.0 890.9V903.0M313.5 890.9h5M313.5 903.0h5M321.7 885.1V900.6M319.2 885.1h5M319.2 900.6h5M327.4 877.7V888.3M324.9 877.7h5M324.9 888.3h5M333.2 873.3V886.4M330.7 873.3h5M330.7 886.4h5M338.9 865.5V882.1M336.4 865.5h5M336.4 882.1h5M344.6 852.5V861.7M342.1 852.5h5M342.1 861.7h5M350.3 835.9V843.1M347.8 835.9h5M347.8 843.1h5M356.0 816.8V832.3M353.5 816.8h5M353.5 832.3h5M361.8 804.3V822.3M359.3 804.3h5M359.3 822.3h5M367.5 795.7V804.1M365.0 795.7h5M365.0 804.1h5M373.2 781.0V787.6M370.7 781.0h5M370.7 787.6h5M378.9 767.6V777.1M376.4 767.6h5M376.4 777.1h5M384.6 770.2V784.6M382.1 770.2h5M382.1 784.6h5M390.4 776.0V785.0M387.9 776.0h5M387.9 785.0h5M396.1 775.3V790.6M393.6 775.3h5M393.6 790.6h5M401.8 791.0V795.0M399.3 791.0h5M399.3 795.0h5M407.5 795.0V809.9M405.0 795.0h5M405.0 809.9h5M413.2 816.2V820.4M410.8 816.2h5M410.8 820.4h5M419.0 827.9V845.5M416.5 827.9h5M416.5 845.5h5M424.7 846.9V861.2M422.2 846.9h5M422.2 861.2h5M430.4 864.0V878.1M427.9 864.0h5M427.9 878.1h5M436.1 869.5V878.9M433.6 869.5h5M433.6 878.9h5M441.9 871.2V885.2M439.4 871.2h5M439.4 885.2h5M447.6 877.5V886.0M445.1 877.5h5M445.1 886.0h5M453.3 888.7V895.6M450.8 888.7h5M450.8 895.6h5M459.0 890.1V903.0M456.5 890.1h5M456.5 903.0h5M464.7 890.0V902.2M462.2 890.0h5M462.2 902.2h5M470.4 889.4V904.0M467.9 889.4h5M467.9 904.0h5M476.2 896.6V902.6M473.7 896.6h5M473.7 902.6h5M481.9 901.5V909.7M479.4 901.5h5M479.4 909.7h5M487.6 900.6V915.1M485.1 900.6h5M485.1 915.1h5M493.3 904.9V922.7M490.8 904.9h5M490.8 922.7h5M499.0 914.3V918.8M496.5 914.3h5M496.5 918.8h5M504.8 916.9V923.2M502.3 916.9h5M502.3 923.2h5M510.5 913.2V928.2M508.0 913.2h5M508.0 928.2h5M516.2 913.5V929.9M513.7 913.5h5M513.7 929.9h5M521.9 916.2V920.5M519.4 916.2h5M519.4 920.5h5M527.6 917.9V925.4M525.1 917.9h5M525.1 925.4h5M533.4 916.6V930.9M530.9 916.6h5M530.9 930.9h5M539.1 912.5V926.7M536.6 912.5h5M536.6 926.7h5M544.8 914.5V923.4M542.3 914.5h5M542.3 923.4h5M550.5 923.0V929.8M548.0 923.0h5M548.0 929.8h5M556.2 918.2V933.6M553.8 918.2h5M553.8 933.6h5M562.0 923.6V927.7M559.5 923.6h5M559.5 927.7h5M567.7 913.8V927.0M565.2 913.8h5M565.2 927.0h5M573.4 917.7V933.2M570.9 917.7h5M570.9 933.2h5M579.1 916.4V930.4M576.6 916.4h5M576.6 930.4h5M584.8 920.1V926.6M582.3 920.1h5M582.3 926.6h5M590.6 912.0V918.4M588.1 912.0h5M588.1 918.4h5M596.3 914.5V924.9M593.8 914.5h5M593.8 924.9h5M602.0 918.4V936.0M599.5 918.4h5M599.5 936.0h5M607.7 932.7V937.9M605.2 932.7h5M605.2 937.9h5M613.4 935.4V939.6M610.9 935.4h5M610.9 939.6h5M619.2 943.0V952.2M616.7 943.0h5M616.7 952.2h5M624.9 945.3V954.7M622.4 945.3h5M622.4 954.7h5M630.6 941.5V958.4M628.1 941.5h5M628.1 958.4h5M636.3 944.5V950.5M633.8 944.5h5M633.8 950.5h5M642.0 945.1V958.1M639.5 945.1h5M639.5 958.1h5M647.8 942.7V952.2M645.3 942.7h5M645.3 952.2h5M653.5 936.0V944.9M651.0 936.0h5M651.0 944.9h5M659.2 927.1V938.9M656.7 927.1h5M656.7 938.9h5M664.9 924.8V929.6M662.4 924.8h5M662.4 929.6h5M670.6 895.0V955.0M668.1 895.0h5M668.1 955.0h5M670.6 920.1V929.9M668.1 920.1h5M668.1 929.9h5" stroke="#00ff00" stroke-width="1" fill="none"/>
<path d="M93.8 919.3h9.8v9.4h-9.8zM99.5 919.2h9.8v9.4h-9.8zM105.2 921.6h9.8v9.4h-9.8zM110.9 926.0h9.8v9.4h-9.8zM116.6 919.3h9.8v9.4h-9.8zM122.3 923.4h9.8v9.4h-9.8zM128.1 919.7h9.8v9.4h-9.8zM133.8 926.5h9.8v9.4h-9.8zM139.5 920.7h9.8v9.4h-9.8zM145.2 924.8h9.8v9.4h-9.8zM150.9 926.9h9.8v9.4h-9.8zM156.7 926.6h9.8v9.4h-9.8zM162.4 925.3h9.8v9.4h-9.8zM168.1 921.3h9.8v9.4h-9.8zM173.8 922.8h9.8v9.4h-9.8zM179.5 918.3h9.8v9.4h-9.8zM185.3 918.5h9.8v9.4h-9.8zM191.0 912.9h9.8v9.4h-9.8zM196.7 913.0h9.8v9.4h-9.8zM202.4 910.5h9.8v9.4h-9.8zM208.2 910.7h9.8v9.4h-9.8zM213.9 906.2h9.8v9.4h-9.8zM219.6 906.3h9.8v9.4h-9.8zM225.3 910.9h9.8v9.4h-9.8zM231.0 907.4h9.8v9.4h-9.8zM236.8 911.4h9.8v9.4h-9.8zM242.5 909.7h9.8v9.4h-9.8zM248.2 908.2h9.8v9.4h-9.8zM253.9 914.2h9.8v9.4h-9.8zM259.6 910.3h9.8v9.4h-9.8zM265.4 907.7h9.8v9.4h-9.8zM271.1 912.0h9.8v9.4h-9.8zM276.8 912.1h9.8v9.4h-9.8zM282.5 910.3h9.8v9.4h-9.8zM288.2 909.9h9.8v9.4h-9.8zM294.0 904.4h9.8v9.4h-9.8zM299.7 903.8h9.8v9.4h-9.8zM305.4 899.3h9.8v9.4h-9.8zM311.1 892.2h9.8v9.4h-9.8zM316.8 888.2h9.8v9.4h-9.8zM322.6 878.3h9.8v9.4h-9.8zM328.3 875.2h9.8v9.4h-9.8zM334.0 869.1h9.8v9.4h-9.8zM339.7 852.4h9.8v9.4h-9.8zM345.4 834.8h9.8v9.4h-9.8zM351.1 819.9h9.8v9.4h-9.8zM356.9 808.6h9.8v9.4h-9.8zM362.6 795.2h9.8v9.4h-9.8zM368.3 779.6h9.8v9.4h-9.8zM374.0 767.7h9.8v9.4h-9.8zM379.8 772.7h9.8v9.4h-9.8zM385.5 775.8h9.8v9.4h-9.8zM391.2 778.2h9.8v9.4h-9.8zM396.9 788.3h9.8v9.4h-9.8zM402.6 797.8h9.8v9.4h-9.8zM408.4 813.6h9.8v9.4h-9.8zM414.1 832.0h9.8v9.4h-9.8zM419.8 849.3h9.8v9.4h-9.8zM425.5 866.3h9.8v9.4h-9.8zM431.2 869.5h9.8v9.4h-9.8zM437.0 873.5h9.8v9.4h-9.8zM442.7 877.1h9.8v9.4h-9.8zM448.4 887.4h9.8v9.4h-9.8zM454.1 891.8h9.8v9.4h-9.8zM459.8 891.4h9.8v9.4h-9.8zM465.5 892.0h9.8v9.4h-9.8zM471.3 894.9h9.8v9.4h-9.8zM477.0 900.9h9.8v9.4h-9.8zM482.7 903.1h9.8v9.4h-9.8zM488.4 909.1h9.8v9.4h-9.8zM494.1 911.8h9.8v9.4h-9.8zM499.9 915.4h9.8v9.4h-9.8zM505.6 916.0h9.8v9.4h-9.8zM511.3 917.0h9.8v9.4h-9.8zM517.0 913.7h9.8v9.4h-9.8zM522.8 917.0h9.8v9.4h-9.8zM528.5 919.1h9.8v9.4h-9.8zM534.2 914.9h9.8v9.4h-9.8zM539.9 914.3h9.8v9.4h-9.8zM545.6 921.7h9.8v9.4h-9.8zM551.4 921.2h9.8v9.4h-9.8zM557.1 921.0h9.8v9.4h-9.8zM562.8 915.7h9.8v9.4h-9.8zM568.5 920.8h9.8v9.4h-9.8zM574.2 918.7h9.8v9.4h-9.8zM579.9 918.7h9.8v9.4h-9.8zM585.7 910.5h9.8v9.4h-9.8zM591.4 915.0h9.8v9.4h-9.8zM597.1 922.5h9.8v9.4h-9.8zM602.8 930.6h9.8v9.4h-9.8zM608.5 932.8h9.8v9.4h-9.8zM614.3 942.9h9.8v9.4h-9.8zM620.0 945.3h9.8v9.4h-9.8zM625.7 945.3h9.8v9.4h-9.8zM631.4 942.8h9.8v9.4h-9.8zM637.1 946.9h9.8v9.4h-9.8zM642.9 942.7h9.8v9.4h-9.8zM648.6 935.8h9.8v9.4h-9.8zM654.3 928.3h9.8v9.4h-9.8zM660.0 922.5h9.8v9.4h-9.8zM665.8 920.3h9.8v9.4h-9.8z" fill="#00ff00"/>
<path d="M104.4 940.1V953.8M101.9 940.1h5M101.9 953.8h5M110.1 936.6V949.9M107.6 936.6h5M107.6 949.9h5M115.8 939.1V954.3M113.3 939.1h5M113.3 954.3h5M121.5 939.6V953.5M119.0 939.6h5M119.0 953.5h5M127.2 936.7V943.1M124.8 936.7h5M124.8 943.1h5M133.0 933.7V948.6M130.5 933.7h5M130.5 948.6h5M138.7 939.9V946.2M136.2 939.9h5M136.2 946.2h5M144.4 938.3V950.4M141.9 938.3h5M141.9 950.4h5M150.1 941.0V945.4M147.6 941.0h5M147.6 945.4h5M155.8 938.0V950.1M153.3 938.0h5M153.3 950.1h5M161.6 934.4V944.4M159.1 934.4h5M159.1 944.4h5M167.3 928.3V943.9M164.8 928.3h5M164.8 943.9h5M173.0 931.4V943.0M170.5 931.4h5M170.5 943.0h5M178.7 934.5V939.7M176.2 934.5h5M176.2 939.7h5M184.4 927.4V938.2M181.9 927.4h5M181.9 938.2h5M190.2 926.2V932.3M187.7 926.2h5M187.7 932.3h5M195.9 924.0V932.2M193.4 924.0h5M193.4 932.2h5M201.6 927.8V932.0M199.1 927.8h5M199.1 932.0h5M207.3 922.7V935.6M204.8 922.7h5M204.8 935.6h5M213.1 923.5V933.8M210.6 923.5h5M210.6 933.8h5M218.8 925.7V930.3M216.3 925.7h5M216.3 930.3h5M224.5 921.3V932.2M222.0 921.3h5M222.0 932.2h5M230.2 916.0V928.8M227.7 916.0h5M227.7 928.8h5M235.9 917.3V932.6M233.4 917.3h5M233.4 932.6h5M241.7 921.1V926.8M239.2 921.1h5M239.2 926.8h5M247.4 911.2V927.5M244.9 911.2h5M244.9 927.5h5M253.1 912.4V922.1M250.6 912.4h5M250.6 922.1h5M258.8 907.6V920.4M256.3 907.6h5M256.3 920.4h5M264.5 903.9V919.2M262.0 903.9h5M262.0 919.2h5M270.2 900.9V914.1M267.8 900.9h5M267.8 914.1h5M276.0 901.5V907.6M273.5 901.5h5M273.5 907.6h5M281.7 894.3V906.4M279.2 894.3h5M279.2 906.4h5M287.4 892.1V907.6M284.9 892.1h5M284.9 907.6h5M293.1 888.1V902.6M290.6 888.1h5M290.6 902.6h5M298.9 889.8V907.5M296.4 889.8h5M296.4 907.5h5M304.6 890.4V903.5M302.1 890.4h5M302.1 903.5h5M310.3 880.8V898.5M307.8 880.8h5M307.8 898.5h5M316.0 871.2V885.5M313.5 871.2h5M313.5 885.5h5M321.7 868.3V879.5M319.2 868.3h5M319.2 879.5h5M327.4 859.4V868.3M324.9 859.4h5M324.9 868.3h5M333.2 856.6V868.2M330.7 856.6h5M330.7 868.2h5M338.9 847.6V852.3M336.4 847.6h5M336.4 852.3h5M344.6 828.6V842.2M342.1 828.6h5M342.1 842.2h5M350.3 818.7V835.1M347.8 818.7h5M347.8 835.1h5M356.0 805.2V817.1M353.5 805.2h5M353.5 817.1h5M361.8 787.4V803.1M359.3 787.4h5M359.3 803.1h5M367.5 768.8V776.2M365.0 768.8h5M365.0 776.2h5M373.2 757.1V766.7M370.7 757.1h5M370.7 766.7h5M378.9 745.3V753.5M376.4 745.3h5M376.4 753.5h5M384.6 696.5V752.5M382.1 696.5h5M382.1 752.5h5M384.6 716.6V732.3M382.1 716.6h5M382.1 732.3h5M390.4 743.2V759.9M387.9 743.2h5M387.9 759.9h5M396.1 769.2V785.7M393.6 769.2h5M393.6 785.7h5M401.8 776.6V787.8M399.3 776.6h5M399.3 787.8h5M407.5 790.0V804.8M405.0 790.0h5M405.0 804.8h5M413.2 802.5V808.3M410.8 802.5h5M410.8 808.3h5M419.0 812.5V828.8M416.5 812.5h5M416.5 828.8h5M424.7 828.3V841.4M422.2 828.3h5M422.2 841.4h5M430.4 840.9V856.8M427.9 840.9h5M427.9 856.8h5M436.1 857.6V865.7M433.6 857.6h5M433.6 865.7h5M441.9 860.4V873.5M439.4 860.4h5M439.4 873.5h5M447.6 872.2V882.5M445.1 872.2h5M445.1 882.5h5M453.3 871.3V888.5M450.8 871.3h5M450.8 888.5h5M459.0 876.9V888.1M456.5 876.9h5M456.5 888.1h5M464.7 884.2V891.5M462.2 884.2h5M462.2 891.5h5M470.4 892.4V901.3M467.9 892.4h5M467.9 901.3h5M476.2 902.4V906.6M473.7 902.4h5M473.7 906.6h5M481.9 910.8V915.3M479.4 910.8h5M479.4 915.3h5M487.6 909.3V917.8M485.1 909.3h5M485.1 917.8h5M493.3 912.3V929.3M490.8 912.3h5M490.8 929.3h5M499.0 915.0V928.1M496.5 915.0h5M496.5 928.1h5M504.8 913.6V927.8M502.3 913.6h5M502.3 927.8h5M510.5 913.1V930.0M508.0 913.1h5M508.0 930.0h5M516.2 917.3V924.8M513.7 917.3h5M513.7 924.8h5M521.9 914.7V929.2M519.4 914.7h5M519.4 929.2h5M527.6 919.1V935.4M525.1 919.1h5M525.1 935.4h5M533.4 927.7V939.7M530.9 927.7h5M530.9 939.7h5M539.1 929.4V940.5M536.6 929.4h5M536.6 940.5h5M544.8 926.3V932.5M542.3 926.3h5M542.3 932.5h5M550.5 917.9V931.6M548.0 917.9h5M548.0 931.6h5M556.2 908.0V924.7M553.8 908.0h5M553.8 924.7h5M562.0 907.7V911.8M559.5 907.7h5M559.5 911.8h5M567.7 905.3V913.0M565.2 905.3h5M565.2 913.0h5M573.4 909.3V922.0M570.9 909.3h5M570.9 922.0h5M579.1 910.3V918.5M576.6 910.3h5M576.6 918.5h5M584.8 913.6V928.5M582.3 913.6h5M582.3 928.5h5M590.6 921.5V931.6M588.1 921.5h5M588.1 931.6h5M596.3 925.4V941.8M593.8 925.4h5M593.8 941.8h5M602.0 933.1V947.4M599.5 933.1h5M599.5 947.4h5M607.7 937.8V947.6M605.2 937.8h5M605.2 947.6h5M613.4 940.8V952.4M610.9 940.8h5M610.9 952.4h5M619.2 940.7V950.0M616.7 940.7h5M616.7 950.0h5M624.9 938.4V951.0M622.4 938.4h5M622.4 951.0h5M630.6 936.2V951.3M628.1 936.2h5M628.1 951.3h5M636.3 936.0V953.3M633.8 936.0h5M633.8 953.3h5M642.0 940.1V949.6M639.5 940.1h5M639.5 949.6h5M647.8 942.7V950.7M645.3 942.7h5M645.3 950.7h5M653.5 940.0V947.8M651.0 940.0h5M651.0 947.8h5M659.2 937.6V942.3M656.7 937.6h5M656.7 942.3h5M664.9 931.3V944.7M662.4 931.3h5M662.4 944.7h5M670.6 932.9V944.1M668.1 932.9h5M668.1 944.1h5" stroke="#0000ff" stroke-width="1" fill="none"/>
<path d="M93.8 924.6h9.8v9.4h-9.8zM99.5 942.2h9.8v9.4h-9.8zM105.2 938.6h9.8v9.4h-9.8zM110.9 942.0h9.8v9.4h-9.8zM116.6 941.8h9.8v9.4h-9.8zM122.3 935.2h9.8v9.4h-9.8zM128.1 936.5h9.8v9.4h-9.8zM133.8 938.4h9.8v9.4h-9.8zM139.5 939.6h9.8v9.4h-9.8zM145.2 938.5h9.8v9.4h-9.8zM150.9 939.3h9.8v9.4h-9.8zM156.7 934.7h9.8v9.4h-9.8zM162.4 931.4h9.8v9.4h-9.8zM168.1 932.5h9.8v9.4h-9.8zM173.8 932.4h9.8v9.4h-9.8zM179.5 928.1h9.8v9.4h-9.8zM185.3 924.5h9.8v9.4h-9.8zM191.0 923.4h9.8v9.4h-9.8zM196.7 925.2h9.8v9.4h-9.8zM202.4 924.4h9.8v9.4h-9.8zM208.2 923.9h9.8v9.4h-9.8zM213.9 923.3h9.8v9.4h-9.8zM219.6 922.1h9.8v9.4h-9.8zM225.3 917.7h9.8v9.4h-9.8zM231.0 920.2h9.8v9.4h-9.8zM236.8 919.3h9.8v9.4h-9.8zM242.5 914.7h9.8v9.4h-9.8zM248.2 912.5h9.8v9.4h-9.8zM253.9 909.3h9.8v9.4h-9.8zM259.6 906.8h9.8v9.4h-9.8zM265.4 902.8h9.8v9.4h-9.8zM271.1 899.8h9.8v9.4h-9.8zM276.8 895.7h9.8v9.4h-9.8zM282.5 895.1h9.8v9.4h-9.8zM288.2 890.6h9.8v9.4h-9.8zM294.0 894.0h9.8v9.4h-9.8zM299.7 892.2h9.8v9.4h-9.8zM305.4 884.9h9.8v9.4h-9.8zM311.1 873.7h9.8v9.4h-9.8zM316.8 869.2h9.8v9.4h-9.8zM322.6 859.2h9.8v9.4h-9.8zM328.3 857.7h9.8v9.4h-9.8zM334.0 845.2h9.8v9.4h-9.8zM339.7 830.7h9.8v9.4h-9.8zM345.4 822.2h9.8v9.4h-9.8zM351.1 806.4h9.8v9.4h-9.8zM356.9 790.5h9.8v9.4h-9.8zM362.6 767.8h9.8v9.4h-9.8zM368.3 757.2h9.8v9.4h-9.8zM374.0 744.7h9.8v9.4h-9.8zM379.8 719.8h9.8v9.4h-9.8zM385.5 746.8h9.8v9.4h-9.8zM391.2 772.8h9.8v9.4h-9.8zM396.9 777.5h9.8v9.4h-9.8zM402.6 792.7h9.8v9.4h-9.8zM408.4 800.7h9.8v9.4h-9.8zM414.1 816.0h9.8v9.4h-9.8zM419.8 830.1h9.8v9.4h-9.8zM425.5 844.1h9.8v9.4h-9.8zM431.2 856.9h9.8v9.4h-9.8zM437.0 862.3h9.8v9.4h-9.8zM442.7 872.7h9.8v9.4h-9.8zM448.4 875.2h9.8v9.4h-9.8zM454.1 877.8h9.8v9.4h-9.8zM459.8 883.2h9.8v9.4h-9.8zM465.5 892.1h9.8v9.4h-9.8zM471.3 899.8h9.8v9.4h-9.8zM477.0 908.4h9.8v9.4h-9.8zM482.7 908.8h9.8v9.4h-9.8zM488.4 916.1h9.8v9.4h-9.8zM494.1 916.8h9.8v9.4h-9.8zM499.9 916.0h9.8v9.4h-9.8zM505.6 916.8h9.8v9.4h-9.8zM511.3 916.3h9.8v9.4h-9.8zM517.0 917.3h9.8v9.4h-9.8zM522.8 922.6h9.8v9.4h-9.8zM528.5 929.0h9.8v9.4h-9.8zM534.2 930.3h9.8v9.4h-9.8zM539.9 924.7h9.8v9.4h-9.8zM545.6 920.1h9.8v9.4h-9.8zM551.4 911.6h9.8v9.4h-9.8zM557.1 905.0h9.8v9.4h-9.8zM562.8 904.4h9.8v9.4h-9.8zM568.5 910.9h9.8v9.4h-9.8zM574.2 909.7h9.8v9.4h-9.8zM579.9 916.4h9.8v9.4h-9.8zM585.7 921.9h9.8v9.4h-9.8zM591.4 928.9h9.8v9.4h-9.8zM597.1 935.6h9.8v9.4h-9.8zM602.8 938.0h9.8v9.4h-9.8zM608.5 941.9h9.8v9.4h-9.8zM614.3 940.7h9.8v9.4h-9.8zM620.0 940.0h9.8v9.4h-9.8zM625.7 939.1h9.8v9.4h-9.8zM631.4 940.0h9.8v9.4h-9.8zM637.1 940.2h9.8v9.4h-9.8zM642.9 942.0h9.8v9.4h-9.8zM648.6 939.2h9.8v9.4h-9.8zM654.3 935.3h9.8v9.4h-9.8zM660.0 933.3h9.8v9.4h-9.8zM665.8 933.8h9.8v9.4h-9.8z" fill="#0000ff"/>
<path d="M104.4 913.8V923.5M101.9 913.8h5M101.9 923.5h5M110.1 903.6V921.6M107.6 903.6h5M107.6 921.6h5M115.8 901.2V918.1M113.3 901.2h5M113.3 918.1h5M121.5 904.9V913.7M119.0 904.9h5M119.0 913.7h5M127.2 892.3V914.4M124.8 892.3h5M124.8 914.4h5M133.0 894.5V912.4M130.5 894.5h5M130.5 912.4h5M138.7 897.2V911.0M136.2 897.2h5M136.2 911.0h5M144.4 907.6V914.7M141.9 907.6h5M141.9 914.7h5M150.1 905.2V921.5M147.6 905.2h5M147.6 921.5h5M155.8 898.2V919.6M153.3 898.2h5M153.3 919.6h5M161.6 901.2V908.6M159.1 901.2h5M159.1 908.6h5M167.3 894.5V916.5M164.8 894.5h5M164.8 916.5h5M173.0 905.6V916.5M170.5 905.6h5M170.5 916.5h5M178.7 905.0V917.2M176.2 905.0h5M176.2 917.2h5M184.4 897.4V916.9M181.9 897.4h5M181.9 916.9h5M190.2 893.6V909.2M187.7 893.6h5M187.7 909.2h5M195.9 898.7V910.9M193.4 898.7h5M193.4 910.9h5M201.6 900.2V916.9M199.1 900.2h5M199.1 916.9h5M207.3 899.1V914.0M204.8 899.1h5M204.8 914.0h5M213.1 896.4V911.6M210.6 896.4h5M210.6 911.6h5M218.8 883.2V903.4M216.3 883.2h5M216.3 903.4h5M224.5 889.0V911.8M222.0 889.0h5M222.0 911.8h5M230.2 899.7V915.1M227.7 899.7h5M227.7 915.1h5M235.9 898.7V916.2M233.4 898.7h5M233.4 916.2h5M241.7 900.8V912.0M239.2 900.8h5M239.2 912.0h5M247.4 894.5V909.2M244.9 894.5h5M244.9 909.2h5M253.1 896.8V913.1M250.6 896.8h5M250.6 913.1h5M258.8 894.0V906.9M256.3 894.0h5M256.3 906.9h5M264.5 886.9V904.0M262.0 886.9h5M262.0 904.0h5M270.2 884.4V898.2M267.8 884.4h5M267.8 898.2h5M276.0 881.9V891.6M273.5 881.9h5M273.5 891.6h5M281.7 875.5V888.2M279.2 875.5h5M279.2 888.2h5M287.4 845.2V901.2M284.9 845.2h5M284.9 901.2h5M287.4 866.3V880.0M284.9 866.3h5M284.9 880.0h5M293.1 878.6V886.8M290.6 878.6h5M290.6 886.8h5M298.9 873.3V895.1M296.4 873.3h5M296.4 895.1h5M304.6 861.2V883.4M302.1 861.2h5M302.1 883.4h5M310.3 873.8V884.1M307.8 873.8h5M307.8 884.1h5M316.0 880.9V888.8M313.5 880.9h5M313.5 888.8h5M321.7 875.4V897.3M319.2 875.4h5M319.2 897.3h5M327.4 862.0V876.0M324.9 862.0h5M324.9 876.0h5M333.2 848.9V862.0M330.7 848.9h5M330.7 862.0h5M338.9 819.7V849.7M336.4 819.7h5M336.4 849.7h5M338.9 824.7V844.8M336.4 824.7h5M336.4 844.8h5M344.6 820.9V838.8M342.1 820.9h5M342.1 838.8h5M350.3 818.7V827.8M347.8 818.7h5M347.8 827.8h5M356.0 804.4V820.8M353.5 804.4h5M353.5 820.8h5M361.8 780.8V802.0M359.3 780.8h5M359.3 802.0h5M367.5 783.3V791.2M365.0 783.3h5M365.0 791.2h5M373.2 756.1V777.9M370.7 756.1h5M370.7 777.9h5M378.9 750.7V762.8M376.4 750.7h5M376.4 762.8h5M384.6 746.7V762.9M382.1 746.7h5M382.1 762.9h5M390.4 758.9V777.5M387.9 758.9h5M387.9 777.5h5M396.1 789.5V810.4M393.6 789.5h5M393.6 810.4h5M401.8 809.7V816.4M399.3 809.7h5M399.3 816.4h5M407.5 821.3V827.5M405.0 821.3h5M405.0 827.5h5M413.2 817.4V831.8M410.8 817.4h5M410.8 831.8h5M419.0 818.5V839.8M416.5 818.5h5M416.5 839.8h5M424.7 834.9V844.6M422.2 834.9h5M422.2 844.6h5M430.4 848.7V863.6M427.9 848.7h5M427.9 863.6h5M436.1 859.4V878.3M433.6 859.4h5M433.6 878.3h5M441.9 856.2V875.9M439.4 856.2h5M439.4 875.9h5M447.6 849.3V868.1M445.1 849.3h5M445.1 868.1h5M453.3 858.0V870.0M450.8 858.0h5M450.8 870.0h5M459.0 861.7V870.9M456.5 861.7h5M456.5 870.9h5M464.7 869.6V876.1M462.2 869.6h5M462.2 876.1h5M470.4 869.7V892.1M467.9 869.7h5M467.9 892.1h5M476.2 880.7V899.5M473.7 880.7h5M473.7 899.5h5M481.9 881.1V894.9M479.4 881.1h5M479.4 894.9h5M487.6 890.4V909.4M485.1 890.4h5M485.1 909.4h5M493.3 891.2V907.9M490.8 891.2h5M490.8 907.9h5M499.0 893.6V906.2M496.5 893.6h5M496.5 906.2h5M504.8 894.1V914.4M502.3 894.1h5M502.3 914.4h5M510.5 903.0V909.3M508.0 903.0h5M508.0 909.3h5M516.2 898.0V911.2M513.7 898.0h5M513.7 911.2h5M521.9 902.6V926.3M519.4 902.6h5M519.4 926.3h5M527.6 905.2V928.2M525.1 905.2h5M525.1 928.2h5M533.4 914.6V928.7M530.9 914.6h5M530.9 928.7h5M539.1 911.4V928.8M536.6 911.4h5M536.6 928.8h5M544.8 913.1V925.5M542.3 913.1h5M542.3 925.5h5M550.5 910.1V930.4M548.0 910.1h5M548.0 930.4h5M556.2 909.4V931.6M553.8 909.4h5M553.8 931.6h5M562.0 911.1V934.6M559.5 911.1h5M559.5 934.6h5M567.7 918.3V930.1M565.2 918.3h5M565.2 930.1h5M573.4 919.9V943.7M570.9 919.9h5M570.9 943.7h5M579.1 919.9V939.2M576.6 919.9h5M576.6 939.2h5M584.8 919.9V932.8M582.3 919.9h5M582.3 932.8h5M590.6 916.0V933.6M588.1 916.0h5M588.1 933.6h5M596.3 919.7V941.4M593.8 919.7h5M593.8 941.4h5M602.0 922.5V928.9M599.5 922.5h5M599.5 928.9h5M607.7 924.2V933.3M605.2 924.2h5M605.2 933.3h5M613.4 924.0V938.8M610.9 924.0h5M610.9 938.8h5M619.2 917.8V939.1M616.7 917.8h5M616.7 939.1h5M624.9 922.5V944.8M622.4 922.5h5M622.4 944.8h5M630.6 929.9V939.6M628.1 929.9h5M628.1 939.6h5M636.3 920.3V940.4M633.8 920.3h5M633.8 940.4h5M642.0 932.0V938.7M639.5 932.0h5M639.5 938.7h5M647.8 930.3V939.9M645.3 930.3h5M645.3 939.9h5M653.5 928.2V942.7M651.0 928.2h5M651.0 942.7h5M659.2 928.5V946.9M656.7 928.5h5M656.7 946.9h5M664.9 928.2V952.1M662.4 928.2h5M662.4 952.1h5M670.6 926.9V944.3M668.1 926.9h5M668.1 944.3h5" stroke="#ff00ff" stroke-width="1" fill="none"/>
<path d="M93.8 903.1h9.8v9.4h-9.8zM99.5 913.9h9.8v9.4h-9.8zM105.2 907.9h9.8v9.4h-9.8zM110.9 905.0h9.8v9.4h-9.8zM116.6 904.6h9.8v9.4h-9.8zM122.3 898.7h9.8v9.4h-9.8zM128.1 898.8h9.8v9.4h-9.8zM133.8 899.4h9.8v9.4h-9.8zM139.5 906.4h9.8v9.4h-9.8zM145.2 908.6h9.8v9.4h-9.8zM150.9 904.2h9.8v9.4h-9.8zM156.7 900.2h9.8v9.4h-9.8zM162.4 900.8h9.8v9.4h-9.8zM168.1 906.3h9.8v9.4h-9.8zM173.8 906.4h9.8v9.4h-9.8zM179.5 902.5h9.8v9.4h-9.8zM185.3 896.7h9.8v9.4h-9.8zM191.0 900.1h9.8v9.4h-9.8zM196.7 903.8h9.8v9.4h-9.8zM202.4 901.9h9.8v9.4h-9.8zM208.2 899.3h9.8v9.4h-9.8zM213.9 888.6h9.8v9.4h-9.8zM219.6 895.7h9.8v9.4h-9.8zM225.3 902.7h9.8v9.4h-9.8zM231.0 902.8h9.8v9.4h-9.8zM236.8 901.7h9.8v9.4h-9.8zM242.5 897.1h9.8v9.4h-9.8zM248.2 900.3h9.8v9.4h-9.8zM253.9 895.8h9.8v9.4h-9.8zM259.6 890.8h9.8v9.4h-9.8zM265.4 886.6h9.8v9.4h-9.8zM271.1 882.1h9.8v9.4h-9.8zM276.8 877.2h9.8v9.4h-9.8zM282.5 868.5h9.8v9.4h-9.8zM288.2 878.0h9.8v9.4h-9.8zM294.0 879.5h9.8v9.4h-9.8zM299.7 867.6h9.8v9.4h-9.8zM305.4 874.2h9.8v9.4h-9.8zM311.1 880.2h9.8v9.4h-9.8zM316.8 881.7h9.8v9.4h-9.8zM322.6 864.3h9.8v9.4h-9.8zM328.3 850.7h9.8v9.4h-9.8zM334.0 830.0h9.8v9.4h-9.8zM339.7 825.1h9.8v9.4h-9.8zM345.4 818.5h9.8v9.4h-9.8zM351.1 807.9h9.8v9.4h-9.8zM356.9 786.7h9.8v9.4h-9.8zM362.6 782.6h9.8v9.4h-9.8zM368.3 762.3h9.8v9.4h-9.8zM374.0 752.0h9.8v9.4h-9.8zM379.8 750.1h9.8v9.4h-9.8zM385.5 763.5h9.8v9.4h-9.8zM391.2 795.2h9.8v9.4h-9.8zM396.9 808.3h9.8v9.4h-9.8zM402.6 819.7h9.8v9.4h-9.8zM408.4 819.9h9.8v9.4h-9.8zM414.1 824.5h9.8v9.4h-9.8zM419.8 835.1h9.8v9.4h-9.8zM425.5 851.4h9.8v9.4h-9.8zM431.2 864.1h9.8v9.4h-9.8zM437.0 861.3h9.8v9.4h-9.8zM442.7 854.0h9.8v9.4h-9.8zM448.4 859.3h9.8v9.4h-9.8zM454.1 861.6h9.8v9.4h-9.8zM459.8 868.1h9.8v9.4h-9.8zM465.5 876.2h9.8v9.4h-9.8zM471.3 885.4h9.8v9.4h-9.8zM477.0 883.3h9.8v9.4h-9.8zM482.7 895.2h9.8v9.4h-9.8zM488.4 894.8h9.8v9.4h-9.8zM494.1 895.2h9.8v9.4h-9.8zM499.9 899.5h9.8v9.4h-9.8zM505.6 901.5h9.8v9.4h-9.8zM511.3 899.9h9.8v9.4h-9.8zM517.0 909.8h9.8v9.4h-9.8zM522.8 912.0h9.8v9.4h-9.8zM528.5 917.0h9.8v9.4h-9.8zM534.2 915.4h9.8v9.4h-9.8zM539.9 914.6h9.8v9.4h-9.8zM545.6 915.5h9.8v9.4h-9.8zM551.4 915.8h9.8v9.4h-9.8zM557.1 918.1h9.8v9.4h-9.8zM562.8 919.5h9.8v9.4h-9.8zM568.5 927.1h9.8v9.4h-9.8zM574.2 924.8h9.8v9.4h-9.8zM579.9 921.6h9.8v9.4h-9.8zM585.7 920.1h9.8v9.4h-9.8zM591.4 925.8h9.8v9.4h-9.8zM597.1 921.0h9.8v9.4h-9.8zM602.8 924.1h9.8v9.4h-9.8zM608.5 926.7h9.8v9.4h-9.8zM614.3 923.8h9.8v9.4h-9.8zM620.0 929.0h9.8v9.4h-9.8zM625.7 930.0h9.8v9.4h-9.8zM631.4 925.7h9.8v9.4h-9.8zM637.1 930.7h9.8v9.4h-9.8zM642.9 930.4h9.8v9.4h-9.8zM648.6 930.8h9.8v9.4h-9.8zM654.3 933.0h9.8v9.4h-9.8zM660.0 935.5h9.8v9.4h-9.8zM665.8 930.9h9.8v9.4h-9.8z" fill="#ff00ff"/>
<line x1="192.3" y1="871.8" x2="301.5" y2="744.4" stroke="#000" stroke-width="1.3"/>
<path d="M321.7 720.9 L306.7 751.5 L293.8 740.4Z" fill="#000"/>
<line x1="440.4" y1="742.1" x2="553.1" y2="853.2" stroke="#000" stroke-width="1.3"/>
<path d="M575.2 875 L545.7 857.9 L557.7 845.8Z" fill="#000"/>
<text transform="translate(236.5,798.8) rotate(-49.3)" text-anchor="middle" font-size="26">acceleration</text>
<text transform="translate(503.09999999999997,784.9) rotate(44.6)" text-anchor="middle" font-size="26">deceleration</text>
<rect x="589.2" y="732.7" width="10" height="10" fill="#000000"/>
<text x="632" y="747.3" font-size="27">FF1</text>
<rect x="589.2" y="765.6" width="10" height="10" fill="#ff0000"/>
<text x="632" y="780.2" font-size="27">FF2</text>
<rect x="589.2" y="798.5" width="10" height="10" fill="#00ff00"/>
<text x="632" y="813.1" font-size="27">FF3</text>
<rect x="589.2" y="831.4" width="10" height="10" fill="#0000ff"/>
<text x="632" y="846.0" font-size="27">FF4</text>
<rect x="589.2" y="864.3" width="10" height="10" fill="#ff00ff"/>
<text x="632" y="878.9" font-size="27">FF5</text>
<path d="M87.1 1009.4 V1318.2 M86.1 1318.2 H682.6" stroke="#111" stroke-width="1.9" fill="none"/>
<text x="76.6" y="1295.4" text-anchor="end" font-size="27">0.5</text>
<text x="76.6" y="1255.8" text-anchor="end" font-size="27">1.0</text>
<text x="76.6" y="1216.2" text-anchor="end" font-size="27">1.5</text>
<text x="76.6" y="1176.6" text-anchor="end" font-size="27">2.0</text>
<text x="76.6" y="1137.0" text-anchor="end" font-size="27">2.5</text>
<text x="76.6" y="1097.4" text-anchor="end" font-size="27">3.0</text>
<text x="76.6" y="1057.8" text-anchor="end" font-size="27">3.5</text>
<text x="76.6" y="1018.2" text-anchor="end" font-size="27">4.0</text>
<text x="98.7" y="1344.4" text-anchor="middle" font-size="27">0</text>
<text x="155.8" y="1344.4" text-anchor="middle" font-size="27">100</text>
<text x="213.1" y="1344.4" text-anchor="middle" font-size="27">200</text>
<text x="270.2" y="1344.4" text-anchor="middle" font-size="27">300</text>
<text x="327.4" y="1344.4" text-anchor="middle" font-size="27">400</text>
<text x="384.6" y="1344.4" text-anchor="middle" font-size="27">500</text>
<text x="441.9" y="1344.4" text-anchor="middle" font-size="27">400</text>
<text x="499.0" y="1344.4" text-anchor="middle" font-size="27">300</text>
<text x="556.2" y="1344.4" text-anchor="middle" font-size="27">200</text>
<text x="613.4" y="1344.4" text-anchor="middle" font-size="27">100</text>
<text x="670.6" y="1344.4" text-anchor="middle" font-size="27">0</text>
<path d="M87.1 1286.6h15 M87.1 1247.0h15 M87.1 1207.4h15 M87.1 1167.8h15 M87.1 1128.2h15 M87.1 1088.6h15 M87.1 1049.0h15 M87.1 1009.4h15 M87.1 1306.4h7.5 M87.1 1266.8h7.5 M87.1 1227.2h7.5 M87.1 1187.6h7.5 M87.1 1148.0h7.5 M87.1 1108.4h7.5 M87.1 1068.8h7.5 M87.1 1029.2h7.5 M98.7 1318.2v-15 M155.8 1318.2v-15 M213.1 1318.2v-15 M270.2 1318.2v-15 M327.4 1318.2v-15 M384.6 1318.2v-15 M441.9 1318.2v-15 M499.0 1318.2v-15 M556.2 1318.2v-15 M613.4 1318.2v-15 M670.6 1318.2v-15 M127.2 1318.2v-7.5 M184.4 1318.2v-7.5 M241.7 1318.2v-7.5 M298.9 1318.2v-7.5 M356.0 1318.2v-7.5 M413.2 1318.2v-7.5 M470.4 1318.2v-7.5 M527.6 1318.2v-7.5 M584.8 1318.2v-7.5 M642.0 1318.2v-7.5 " stroke="#000" stroke-width="1.7" fill="none"/>
<text transform="translate(26.3,1163.6) rotate(-90)" text-anchor="middle" font-size="27.7">Mean voltage (mV)</text>
<text x="131.8" y="1087.8" font-size="27" letter-spacing="0.4">(d)</text>
<path d="M93.8 1297.5h9.8v9.4h-9.8zM99.5 1297.1h9.8v9.4h-9.8zM105.2 1297.0h9.8v9.4h-9.8zM110.9 1297.5h9.8v9.4h-9.8zM116.6 1296.9h9.8v9.4h-9.8zM122.3 1297.5h9.8v9.4h-9.8zM128.1 1297.2h9.8v9.4h-9.8zM133.8 1297.0h9.8v9.4h-9.8zM139.5 1298.3h9.8v9.4h-9.8zM145.2 1295.7h9.8v9.4h-9.8zM150.9 1291.7h9.8v9.4h-9.8zM156.7 1288.4h9.8v9.4h-9.8zM162.4 1284.6h9.8v9.4h-9.8zM168.1 1280.8h9.8v9.4h-9.8zM173.8 1278.3h9.8v9.4h-9.8zM179.5 1275.9h9.8v9.4h-9.8zM185.3 1274.3h9.8v9.4h-9.8zM191.0 1273.9h9.8v9.4h-9.8zM196.7 1273.2h9.8v9.4h-9.8zM202.4 1273.3h9.8v9.4h-9.8zM208.2 1271.8h9.8v9.4h-9.8zM213.9 1272.0h9.8v9.4h-9.8zM219.6 1270.5h9.8v9.4h-9.8zM225.3 1269.6h9.8v9.4h-9.8zM231.0 1269.3h9.8v9.4h-9.8zM236.8 1267.4h9.8v9.4h-9.8zM242.5 1266.5h9.8v9.4h-9.8zM248.2 1265.0h9.8v9.4h-9.8zM253.9 1261.6h9.8v9.4h-9.8zM259.6 1259.2h9.8v9.4h-9.8zM265.4 1257.7h9.8v9.4h-9.8zM271.1 1254.7h9.8v9.4h-9.8zM276.8 1252.0h9.8v9.4h-9.8zM282.5 1250.6h9.8v9.4h-9.8zM288.2 1248.9h9.8v9.4h-9.8zM294.0 1245.9h9.8v9.4h-9.8zM299.7 1244.8h9.8v9.4h-9.8zM305.4 1242.4h9.8v9.4h-9.8zM311.1 1240.5h9.8v9.4h-9.8zM316.8 1238.6h9.8v9.4h-9.8zM322.6 1236.9h9.8v9.4h-9.8zM328.3 1234.9h9.8v9.4h-9.8zM334.0 1232.3h9.8v9.4h-9.8zM339.7 1229.6h9.8v9.4h-9.8zM345.4 1226.6h9.8v9.4h-9.8zM351.1 1223.1h9.8v9.4h-9.8zM356.9 1218.1h9.8v9.4h-9.8zM362.6 1213.6h9.8v9.4h-9.8zM368.3 1209.3h9.8v9.4h-9.8zM374.0 1202.6h9.8v9.4h-9.8zM379.8 1199.5h9.8v9.4h-9.8zM385.5 1207.0h9.8v9.4h-9.8zM391.2 1211.2h9.8v9.4h-9.8zM396.9 1214.2h9.8v9.4h-9.8zM402.6 1219.7h9.8v9.4h-9.8zM408.4 1226.1h9.8v9.4h-9.8zM414.1 1229.2h9.8v9.4h-9.8zM419.8 1232.0h9.8v9.4h-9.8zM425.5 1234.9h9.8v9.4h-9.8zM431.2 1237.5h9.8v9.4h-9.8zM437.0 1240.7h9.8v9.4h-9.8zM442.7 1243.1h9.8v9.4h-9.8zM448.4 1245.0h9.8v9.4h-9.8zM454.1 1247.4h9.8v9.4h-9.8zM459.8 1252.2h9.8v9.4h-9.8zM465.5 1255.5h9.8v9.4h-9.8zM471.3 1253.7h9.8v9.4h-9.8zM477.0 1253.7h9.8v9.4h-9.8zM482.7 1255.2h9.8v9.4h-9.8zM488.4 1256.3h9.8v9.4h-9.8zM494.1 1259.8h9.8v9.4h-9.8zM499.9 1261.6h9.8v9.4h-9.8zM505.6 1265.4h9.8v9.4h-9.8zM511.3 1266.0h9.8v9.4h-9.8zM517.0 1267.7h9.8v9.4h-9.8zM522.8 1269.9h9.8v9.4h-9.8zM528.5 1270.3h9.8v9.4h-9.8zM534.2 1269.7h9.8v9.4h-9.8zM539.9 1270.4h9.8v9.4h-9.8zM545.6 1271.4h9.8v9.4h-9.8zM551.4 1271.7h9.8v9.4h-9.8zM557.1 1271.4h9.8v9.4h-9.8zM562.8 1272.4h9.8v9.4h-9.8zM568.5 1273.2h9.8v9.4h-9.8zM574.2 1275.1h9.8v9.4h-9.8zM579.9 1276.5h9.8v9.4h-9.8zM585.7 1279.4h9.8v9.4h-9.8zM591.4 1282.8h9.8v9.4h-9.8zM597.1 1285.8h9.8v9.4h-9.8zM602.8 1290.2h9.8v9.4h-9.8zM608.5 1293.2h9.8v9.4h-9.8zM614.3 1294.3h9.8v9.4h-9.8zM620.0 1295.1h9.8v9.4h-9.8zM625.7 1296.0h9.8v9.4h-9.8zM631.4 1296.0h9.8v9.4h-9.8zM637.1 1295.3h9.8v9.4h-9.8zM642.9 1295.8h9.8v9.4h-9.8zM648.6 1295.3h9.8v9.4h-9.8zM654.3 1296.2h9.8v9.4h-9.8zM660.0 1296.2h9.8v9.4h-9.8zM665.8 1296.1h9.8v9.4h-9.8z" fill="#000000"/>
<path d="M321.7 1207.3V1218.8M319.2 1207.3h5M319.2 1218.8h5M327.4 1191.2V1225.2M324.9 1191.2h5M324.9 1225.2h5M327.4 1201.3V1215.0M324.9 1201.3h5M324.9 1215.0h5M333.2 1196.4V1206.6M330.7 1196.4h5M330.7 1206.6h5M338.9 1192.3V1204.6M336.4 1192.3h5M336.4 1204.6h5M344.6 1190.0V1199.9M342.1 1190.0h5M342.1 1199.9h5M350.3 1187.1V1198.1M347.8 1187.1h5M347.8 1198.1h5M356.0 1183.4V1193.4M353.5 1183.4h5M353.5 1193.4h5M361.8 1181.4V1187.1M359.3 1181.4h5M359.3 1187.1h5M367.5 1175.3V1179.6M365.0 1175.3h5M365.0 1179.6h5M373.2 1165.0V1175.2M370.7 1165.0h5M370.7 1175.2h5M378.9 1158.5V1166.0M376.4 1158.5h5M376.4 1166.0h5M384.6 1148.5V1162.5M382.1 1148.5h5M382.1 1162.5h5M390.4 1149.2V1156.3M387.9 1149.2h5M387.9 1156.3h5M396.1 1156.3V1161.7M393.6 1156.3h5M393.6 1161.7h5M401.8 1164.0V1171.2M399.3 1164.0h5M399.3 1171.2h5M407.5 1166.9V1178.7M405.0 1166.9h5M405.0 1178.7h5M413.2 1175.8V1182.9M410.8 1175.8h5M410.8 1182.9h5M419.0 1178.0V1188.6M416.5 1178.0h5M416.5 1188.6h5M424.7 1185.6V1195.6M422.2 1185.6h5M422.2 1195.6h5M430.4 1194.7V1202.5M427.9 1194.7h5M427.9 1202.5h5M436.1 1204.3V1212.0M433.6 1204.3h5M433.6 1212.0h5M441.9 1197.8V1243.8M439.4 1197.8h5M439.4 1243.8h5M441.9 1215.9V1225.7M439.4 1215.9h5M439.4 1225.7h5M447.6 1205.1V1218.7M445.1 1205.1h5M445.1 1218.7h5M453.3 1207.7V1218.0M450.8 1207.7h5M450.8 1218.0h5M459.0 1209.8V1215.5M456.5 1209.8h5M456.5 1215.5h5M464.7 1214.1V1219.5M462.2 1214.1h5M462.2 1219.5h5M470.4 1219.2V1226.2M467.9 1219.2h5M467.9 1226.2h5M476.2 1220.2V1224.5M473.7 1220.2h5M473.7 1224.5h5" stroke="#ff0000" stroke-width="1" fill="none"/>
<path d="M93.8 1296.9h9.8v9.4h-9.8zM99.5 1297.2h9.8v9.4h-9.8zM105.2 1297.0h9.8v9.4h-9.8zM110.9 1296.8h9.8v9.4h-9.8zM116.6 1296.9h9.8v9.4h-9.8zM122.3 1297.7h9.8v9.4h-9.8zM128.1 1298.2h9.8v9.4h-9.8zM133.8 1297.3h9.8v9.4h-9.8zM139.5 1299.1h9.8v9.4h-9.8zM145.2 1297.1h9.8v9.4h-9.8zM150.9 1292.9h9.8v9.4h-9.8zM156.7 1286.3h9.8v9.4h-9.8zM162.4 1279.9h9.8v9.4h-9.8zM168.1 1274.4h9.8v9.4h-9.8zM173.8 1268.1h9.8v9.4h-9.8zM179.5 1261.1h9.8v9.4h-9.8zM185.3 1256.7h9.8v9.4h-9.8zM191.0 1252.0h9.8v9.4h-9.8zM196.7 1249.4h9.8v9.4h-9.8zM202.4 1248.1h9.8v9.4h-9.8zM208.2 1246.8h9.8v9.4h-9.8zM213.9 1244.1h9.8v9.4h-9.8zM219.6 1243.9h9.8v9.4h-9.8zM225.3 1244.4h9.8v9.4h-9.8zM231.0 1242.3h9.8v9.4h-9.8zM236.8 1239.1h9.8v9.4h-9.8zM242.5 1238.6h9.8v9.4h-9.8zM248.2 1235.0h9.8v9.4h-9.8zM253.9 1231.9h9.8v9.4h-9.8zM259.6 1230.1h9.8v9.4h-9.8zM265.4 1227.0h9.8v9.4h-9.8zM271.1 1224.2h9.8v9.4h-9.8zM276.8 1219.7h9.8v9.4h-9.8zM282.5 1218.5h9.8v9.4h-9.8zM288.2 1216.1h9.8v9.4h-9.8zM294.0 1213.1h9.8v9.4h-9.8zM299.7 1210.1h9.8v9.4h-9.8zM305.4 1208.3h9.8v9.4h-9.8zM311.1 1208.7h9.8v9.4h-9.8zM316.8 1208.3h9.8v9.4h-9.8zM322.6 1203.5h9.8v9.4h-9.8zM328.3 1196.8h9.8v9.4h-9.8zM334.0 1193.8h9.8v9.4h-9.8zM339.7 1190.2h9.8v9.4h-9.8zM345.4 1187.9h9.8v9.4h-9.8zM351.1 1183.7h9.8v9.4h-9.8zM356.9 1179.5h9.8v9.4h-9.8zM362.6 1172.7h9.8v9.4h-9.8zM368.3 1165.4h9.8v9.4h-9.8zM374.0 1157.5h9.8v9.4h-9.8zM379.8 1150.8h9.8v9.4h-9.8zM385.5 1148.1h9.8v9.4h-9.8zM391.2 1154.3h9.8v9.4h-9.8zM396.9 1162.9h9.8v9.4h-9.8zM402.6 1168.1h9.8v9.4h-9.8zM408.4 1174.6h9.8v9.4h-9.8zM414.1 1178.6h9.8v9.4h-9.8zM419.8 1185.9h9.8v9.4h-9.8zM425.5 1193.9h9.8v9.4h-9.8zM431.2 1203.5h9.8v9.4h-9.8zM437.0 1216.1h9.8v9.4h-9.8zM442.7 1207.2h9.8v9.4h-9.8zM448.4 1208.1h9.8v9.4h-9.8zM454.1 1207.9h9.8v9.4h-9.8zM459.8 1212.1h9.8v9.4h-9.8zM465.5 1218.0h9.8v9.4h-9.8zM471.3 1217.6h9.8v9.4h-9.8zM477.0 1215.3h9.8v9.4h-9.8zM482.7 1219.2h9.8v9.4h-9.8zM488.4 1222.1h9.8v9.4h-9.8zM494.1 1223.4h9.8v9.4h-9.8zM499.9 1227.3h9.8v9.4h-9.8zM505.6 1228.0h9.8v9.4h-9.8zM511.3 1231.2h9.8v9.4h-9.8zM517.0 1235.1h9.8v9.4h-9.8zM522.8 1237.2h9.8v9.4h-9.8zM528.5 1238.4h9.8v9.4h-9.8zM534.2 1240.0h9.8v9.4h-9.8zM539.9 1242.4h9.8v9.4h-9.8zM545.6 1241.4h9.8v9.4h-9.8zM551.4 1242.7h9.8v9.4h-9.8zM557.1 1244.5h9.8v9.4h-9.8zM562.8 1245.9h9.8v9.4h-9.8zM568.5 1246.9h9.8v9.4h-9.8zM574.2 1248.6h9.8v9.4h-9.8zM579.9 1252.6h9.8v9.4h-9.8zM585.7 1261.6h9.8v9.4h-9.8zM591.4 1269.8h9.8v9.4h-9.8zM597.1 1277.7h9.8v9.4h-9.8zM602.8 1284.1h9.8v9.4h-9.8zM608.5 1288.2h9.8v9.4h-9.8zM614.3 1292.3h9.8v9.4h-9.8zM620.0 1294.2h9.8v9.4h-9.8zM625.7 1295.0h9.8v9.4h-9.8zM631.4 1295.0h9.8v9.4h-9.8zM637.1 1294.4h9.8v9.4h-9.8zM642.9 1294.4h9.8v9.4h-9.8zM648.6 1295.4h9.8v9.4h-9.8zM654.3 1296.3h9.8v9.4h-9.8zM660.0 1295.5h9.8v9.4h-9.8zM665.8 1296.6h9.8v9.4h-9.8z" fill="#ff0000"/>
<path d="M304.6 1177.6V1186.0M302.1 1177.6h5M302.1 1186.0h5M310.3 1171.0V1184.4M307.8 1171.0h5M307.8 1184.4h5M316.0 1169.8V1184.1M313.5 1169.8h5M313.5 1184.1h5M321.7 1170.7V1181.0M319.2 1170.7h5M319.2 1181.0h5M327.4 1161.6V1191.6M324.9 1161.6h5M324.9 1191.6h5M327.4 1174.2V1178.9M324.9 1174.2h5M324.9 1178.9h5M333.2 1159.9V1167.8M330.7 1159.9h5M330.7 1167.8h5M338.9 1156.9V1166.2M336.4 1156.9h5M336.4 1166.2h5M344.6 1159.4V1165.1M342.1 1159.4h5M342.1 1165.1h5M350.3 1157.2V1168.2M347.8 1157.2h5M347.8 1168.2h5M356.0 1145.9V1154.3M353.5 1145.9h5M353.5 1154.3h5M361.8 1135.2V1143.4M359.3 1135.2h5M359.3 1143.4h5M367.5 1127.1V1131.9M365.0 1127.1h5M365.0 1131.9h5M373.2 1117.2V1124.8M370.7 1117.2h5M370.7 1124.8h5M378.9 1111.5V1124.7M376.4 1111.5h5M376.4 1124.7h5M384.6 1107.3V1121.6M382.1 1107.3h5M382.1 1121.6h5M390.4 1114.2V1122.1M387.9 1114.2h5M387.9 1122.1h5M396.1 1119.3V1128.6M393.6 1119.3h5M393.6 1128.6h5M401.8 1128.8V1133.3M399.3 1128.8h5M399.3 1133.3h5M407.5 1133.0V1144.2M405.0 1133.0h5M405.0 1144.2h5M413.2 1141.2V1149.7M410.8 1141.2h5M410.8 1149.7h5M419.0 1147.5V1155.9M416.5 1147.5h5M416.5 1155.9h5M424.7 1155.7V1162.6M422.2 1155.7h5M422.2 1162.6h5M430.4 1162.4V1167.8M427.9 1162.4h5M427.9 1167.8h5M436.1 1166.2V1177.0M433.6 1166.2h5M433.6 1177.0h5M441.9 1180.3V1190.2M439.4 1180.3h5M439.4 1190.2h5M447.6 1194.4V1200.7M445.1 1194.4h5M445.1 1200.7h5M453.3 1180.1V1189.9M450.8 1180.1h5M450.8 1189.9h5M459.0 1174.0V1189.5M456.5 1174.0h5M456.5 1189.5h5M464.7 1177.9V1188.5M462.2 1177.9h5M462.2 1188.5h5" stroke="#00ff00" stroke-width="1" fill="none"/>
<path d="M93.8 1296.7h9.8v9.4h-9.8zM99.5 1297.6h9.8v9.4h-9.8zM105.2 1297.1h9.8v9.4h-9.8zM110.9 1296.4h9.8v9.4h-9.8zM116.6 1297.1h9.8v9.4h-9.8zM122.3 1297.5h9.8v9.4h-9.8zM128.1 1297.7h9.8v9.4h-9.8zM133.8 1297.8h9.8v9.4h-9.8zM139.5 1296.6h9.8v9.4h-9.8zM145.2 1294.0h9.8v9.4h-9.8zM150.9 1292.1h9.8v9.4h-9.8zM156.7 1287.2h9.8v9.4h-9.8zM162.4 1278.2h9.8v9.4h-9.8zM168.1 1270.3h9.8v9.4h-9.8zM173.8 1256.6h9.8v9.4h-9.8zM179.5 1245.5h9.8v9.4h-9.8zM185.3 1233.7h9.8v9.4h-9.8zM191.0 1229.6h9.8v9.4h-9.8zM196.7 1226.6h9.8v9.4h-9.8zM202.4 1224.3h9.8v9.4h-9.8zM208.2 1222.1h9.8v9.4h-9.8zM213.9 1221.8h9.8v9.4h-9.8zM219.6 1223.1h9.8v9.4h-9.8zM225.3 1221.1h9.8v9.4h-9.8zM231.0 1219.3h9.8v9.4h-9.8zM236.8 1216.6h9.8v9.4h-9.8zM242.5 1210.7h9.8v9.4h-9.8zM248.2 1206.2h9.8v9.4h-9.8zM253.9 1203.7h9.8v9.4h-9.8zM259.6 1198.9h9.8v9.4h-9.8zM265.4 1194.7h9.8v9.4h-9.8zM271.1 1192.2h9.8v9.4h-9.8zM276.8 1187.6h9.8v9.4h-9.8zM282.5 1184.6h9.8v9.4h-9.8zM288.2 1182.2h9.8v9.4h-9.8zM294.0 1179.9h9.8v9.4h-9.8zM299.7 1177.1h9.8v9.4h-9.8zM305.4 1173.0h9.8v9.4h-9.8zM311.1 1172.2h9.8v9.4h-9.8zM316.8 1171.2h9.8v9.4h-9.8zM322.6 1171.9h9.8v9.4h-9.8zM328.3 1159.1h9.8v9.4h-9.8zM334.0 1156.9h9.8v9.4h-9.8zM339.7 1157.6h9.8v9.4h-9.8zM345.4 1158.0h9.8v9.4h-9.8zM351.1 1145.4h9.8v9.4h-9.8zM356.9 1134.6h9.8v9.4h-9.8zM362.6 1124.8h9.8v9.4h-9.8zM368.3 1116.3h9.8v9.4h-9.8zM374.0 1113.4h9.8v9.4h-9.8zM379.8 1109.7h9.8v9.4h-9.8zM385.5 1113.4h9.8v9.4h-9.8zM391.2 1119.2h9.8v9.4h-9.8zM396.9 1126.4h9.8v9.4h-9.8zM402.6 1133.9h9.8v9.4h-9.8zM408.4 1140.8h9.8v9.4h-9.8zM414.1 1147.0h9.8v9.4h-9.8zM419.8 1154.4h9.8v9.4h-9.8zM425.5 1160.4h9.8v9.4h-9.8zM431.2 1166.9h9.8v9.4h-9.8zM437.0 1180.5h9.8v9.4h-9.8zM442.7 1192.8h9.8v9.4h-9.8zM448.4 1180.3h9.8v9.4h-9.8zM454.1 1177.1h9.8v9.4h-9.8zM459.8 1178.5h9.8v9.4h-9.8zM465.5 1180.8h9.8v9.4h-9.8zM471.3 1184.5h9.8v9.4h-9.8zM477.0 1189.6h9.8v9.4h-9.8zM482.7 1193.5h9.8v9.4h-9.8zM488.4 1198.1h9.8v9.4h-9.8zM494.1 1202.3h9.8v9.4h-9.8zM499.9 1205.9h9.8v9.4h-9.8zM505.6 1209.0h9.8v9.4h-9.8zM511.3 1211.6h9.8v9.4h-9.8zM517.0 1214.3h9.8v9.4h-9.8zM522.8 1217.2h9.8v9.4h-9.8zM528.5 1220.1h9.8v9.4h-9.8zM534.2 1221.7h9.8v9.4h-9.8zM539.9 1221.4h9.8v9.4h-9.8zM545.6 1223.1h9.8v9.4h-9.8zM551.4 1224.3h9.8v9.4h-9.8zM557.1 1226.3h9.8v9.4h-9.8zM562.8 1228.8h9.8v9.4h-9.8zM568.5 1233.8h9.8v9.4h-9.8zM574.2 1244.7h9.8v9.4h-9.8zM579.9 1255.9h9.8v9.4h-9.8zM585.7 1263.8h9.8v9.4h-9.8zM591.4 1271.7h9.8v9.4h-9.8zM597.1 1279.0h9.8v9.4h-9.8zM602.8 1284.9h9.8v9.4h-9.8zM608.5 1290.2h9.8v9.4h-9.8zM614.3 1292.3h9.8v9.4h-9.8zM620.0 1292.3h9.8v9.4h-9.8zM625.7 1293.1h9.8v9.4h-9.8zM631.4 1294.4h9.8v9.4h-9.8zM637.1 1293.7h9.8v9.4h-9.8zM642.9 1294.6h9.8v9.4h-9.8zM648.6 1294.2h9.8v9.4h-9.8zM654.3 1294.1h9.8v9.4h-9.8zM660.0 1295.3h9.8v9.4h-9.8zM665.8 1295.9h9.8v9.4h-9.8z" fill="#00ff00"/>
<path d="M93.8 1297.4h9.8v9.4h-9.8zM99.5 1297.6h9.8v9.4h-9.8zM105.2 1297.5h9.8v9.4h-9.8zM110.9 1297.4h9.8v9.4h-9.8zM116.6 1297.8h9.8v9.4h-9.8zM122.3 1297.8h9.8v9.4h-9.8zM128.1 1296.8h9.8v9.4h-9.8zM133.8 1297.8h9.8v9.4h-9.8zM139.5 1295.7h9.8v9.4h-9.8zM145.2 1292.1h9.8v9.4h-9.8zM150.9 1287.4h9.8v9.4h-9.8zM156.7 1280.7h9.8v9.4h-9.8zM162.4 1271.1h9.8v9.4h-9.8zM168.1 1261.9h9.8v9.4h-9.8zM173.8 1250.2h9.8v9.4h-9.8zM179.5 1235.7h9.8v9.4h-9.8zM185.3 1224.7h9.8v9.4h-9.8zM191.0 1216.1h9.8v9.4h-9.8zM196.7 1212.3h9.8v9.4h-9.8zM202.4 1208.8h9.8v9.4h-9.8zM208.2 1207.7h9.8v9.4h-9.8zM213.9 1204.9h9.8v9.4h-9.8zM219.6 1205.1h9.8v9.4h-9.8zM225.3 1204.6h9.8v9.4h-9.8zM231.0 1202.3h9.8v9.4h-9.8zM236.8 1200.3h9.8v9.4h-9.8zM242.5 1197.2h9.8v9.4h-9.8zM248.2 1192.4h9.8v9.4h-9.8zM253.9 1188.5h9.8v9.4h-9.8zM259.6 1184.3h9.8v9.4h-9.8zM265.4 1181.0h9.8v9.4h-9.8zM271.1 1178.9h9.8v9.4h-9.8zM276.8 1175.1h9.8v9.4h-9.8zM282.5 1171.1h9.8v9.4h-9.8zM288.2 1166.2h9.8v9.4h-9.8zM294.0 1161.1h9.8v9.4h-9.8zM299.7 1156.6h9.8v9.4h-9.8zM305.4 1151.4h9.8v9.4h-9.8zM311.1 1147.4h9.8v9.4h-9.8zM316.8 1143.7h9.8v9.4h-9.8zM322.6 1139.9h9.8v9.4h-9.8zM328.3 1136.4h9.8v9.4h-9.8zM334.0 1132.0h9.8v9.4h-9.8zM339.7 1127.8h9.8v9.4h-9.8zM345.4 1123.8h9.8v9.4h-9.8zM351.1 1118.4h9.8v9.4h-9.8zM356.9 1113.4h9.8v9.4h-9.8zM362.6 1106.6h9.8v9.4h-9.8zM368.3 1101.7h9.8v9.4h-9.8zM374.0 1094.2h9.8v9.4h-9.8zM379.8 1092.3h9.8v9.4h-9.8zM385.5 1095.1h9.8v9.4h-9.8zM391.2 1100.1h9.8v9.4h-9.8zM396.9 1106.5h9.8v9.4h-9.8zM402.6 1112.9h9.8v9.4h-9.8zM408.4 1119.8h9.8v9.4h-9.8zM414.1 1126.9h9.8v9.4h-9.8zM419.8 1132.3h9.8v9.4h-9.8zM425.5 1137.3h9.8v9.4h-9.8zM431.2 1141.4h9.8v9.4h-9.8zM437.0 1143.4h9.8v9.4h-9.8zM442.7 1146.6h9.8v9.4h-9.8zM448.4 1152.3h9.8v9.4h-9.8zM454.1 1158.5h9.8v9.4h-9.8zM459.8 1162.9h9.8v9.4h-9.8zM465.5 1168.2h9.8v9.4h-9.8zM471.3 1172.2h9.8v9.4h-9.8zM477.0 1175.4h9.8v9.4h-9.8zM482.7 1178.3h9.8v9.4h-9.8zM488.4 1181.0h9.8v9.4h-9.8zM494.1 1183.0h9.8v9.4h-9.8zM499.9 1185.7h9.8v9.4h-9.8zM505.6 1188.3h9.8v9.4h-9.8zM511.3 1192.2h9.8v9.4h-9.8zM517.0 1196.6h9.8v9.4h-9.8zM522.8 1199.6h9.8v9.4h-9.8zM528.5 1200.7h9.8v9.4h-9.8zM534.2 1202.9h9.8v9.4h-9.8zM539.9 1204.3h9.8v9.4h-9.8zM545.6 1205.9h9.8v9.4h-9.8zM551.4 1207.6h9.8v9.4h-9.8zM557.1 1211.1h9.8v9.4h-9.8zM562.8 1214.9h9.8v9.4h-9.8zM568.5 1221.5h9.8v9.4h-9.8zM574.2 1235.4h9.8v9.4h-9.8zM579.9 1246.3h9.8v9.4h-9.8zM585.7 1253.6h9.8v9.4h-9.8zM591.4 1262.7h9.8v9.4h-9.8zM597.1 1273.2h9.8v9.4h-9.8zM602.8 1281.2h9.8v9.4h-9.8zM608.5 1286.9h9.8v9.4h-9.8zM614.3 1289.4h9.8v9.4h-9.8zM620.0 1293.0h9.8v9.4h-9.8zM625.7 1293.1h9.8v9.4h-9.8zM631.4 1292.8h9.8v9.4h-9.8zM637.1 1293.1h9.8v9.4h-9.8zM642.9 1293.8h9.8v9.4h-9.8zM648.6 1294.4h9.8v9.4h-9.8zM654.3 1295.4h9.8v9.4h-9.8zM660.0 1295.2h9.8v9.4h-9.8zM665.8 1296.1h9.8v9.4h-9.8z" fill="#0000ff"/>
<path d="M333.2 1081.2V1097.3M330.7 1081.2h5M330.7 1097.3h5M338.9 1076.8V1089.8M336.4 1076.8h5M336.4 1089.8h5M344.6 1075.2V1080.3M342.1 1075.2h5M342.1 1080.3h5M350.3 1064.4V1078.0M347.8 1064.4h5M347.8 1078.0h5M356.0 1068.0V1114.0M353.5 1068.0h5M353.5 1114.0h5M356.0 1083.5V1098.5M353.5 1083.5h5M353.5 1098.5h5M361.8 1074.8V1086.6M359.3 1074.8h5M359.3 1086.6h5M367.5 1070.2V1078.1M365.0 1070.2h5M365.0 1078.1h5M373.2 1060.2V1072.5M370.7 1060.2h5M370.7 1072.5h5M378.9 1053.3V1069.2M376.4 1053.3h5M376.4 1069.2h5M384.6 1055.9V1063.6M382.1 1055.9h5M382.1 1063.6h5M390.4 1049.3V1065.7M387.9 1049.3h5M387.9 1065.7h5M396.1 1064.2V1074.0M393.6 1064.2h5M393.6 1074.0h5M401.8 1067.3V1082.3M399.3 1067.3h5M399.3 1082.3h5M407.5 1071.0V1088.0M405.0 1071.0h5M405.0 1088.0h5M413.2 1082.4V1092.3M410.8 1082.4h5M410.8 1092.3h5M419.0 1091.5V1108.8M416.5 1091.5h5M416.5 1108.8h5M424.7 1081.1V1153.1M422.2 1081.1h5M422.2 1153.1h5M424.7 1109.7V1124.6M422.2 1109.7h5M422.2 1124.6h5M430.4 1079.9V1159.9M427.9 1079.9h5M427.9 1159.9h5M430.4 1112.0V1127.9M427.9 1112.0h5M427.9 1127.9h5M436.1 1089.3V1099.0M433.6 1089.3h5M433.6 1099.0h5M441.9 1095.9V1105.6M439.4 1095.9h5M439.4 1105.6h5M447.6 1104.0V1108.7M445.1 1104.0h5M445.1 1108.7h5M453.3 1110.5V1118.0M450.8 1110.5h5M450.8 1118.0h5M459.0 1116.6V1123.6M456.5 1116.6h5M456.5 1123.6h5M464.7 1118.2V1132.7M462.2 1118.2h5M462.2 1132.7h5" stroke="#ff00ff" stroke-width="1" fill="none"/>
<path d="M93.8 1296.3h9.8v9.4h-9.8zM99.5 1295.7h9.8v9.4h-9.8zM105.2 1295.5h9.8v9.4h-9.8zM110.9 1297.2h9.8v9.4h-9.8zM116.6 1296.6h9.8v9.4h-9.8zM122.3 1296.7h9.8v9.4h-9.8zM128.1 1295.5h9.8v9.4h-9.8zM133.8 1296.4h9.8v9.4h-9.8zM139.5 1292.1h9.8v9.4h-9.8zM145.2 1284.0h9.8v9.4h-9.8zM150.9 1276.1h9.8v9.4h-9.8zM156.7 1268.9h9.8v9.4h-9.8zM162.4 1258.3h9.8v9.4h-9.8zM168.1 1245.8h9.8v9.4h-9.8zM173.8 1233.5h9.8v9.4h-9.8zM179.5 1220.2h9.8v9.4h-9.8zM185.3 1207.6h9.8v9.4h-9.8zM191.0 1199.9h9.8v9.4h-9.8zM196.7 1190.7h9.8v9.4h-9.8zM202.4 1186.5h9.8v9.4h-9.8zM208.2 1181.9h9.8v9.4h-9.8zM213.9 1179.8h9.8v9.4h-9.8zM219.6 1178.3h9.8v9.4h-9.8zM225.3 1176.6h9.8v9.4h-9.8zM231.0 1174.6h9.8v9.4h-9.8zM236.8 1171.6h9.8v9.4h-9.8zM242.5 1168.1h9.8v9.4h-9.8zM248.2 1164.8h9.8v9.4h-9.8zM253.9 1161.1h9.8v9.4h-9.8zM259.6 1155.4h9.8v9.4h-9.8zM265.4 1146.6h9.8v9.4h-9.8zM271.1 1138.0h9.8v9.4h-9.8zM276.8 1133.5h9.8v9.4h-9.8zM282.5 1130.7h9.8v9.4h-9.8zM288.2 1127.5h9.8v9.4h-9.8zM294.0 1121.1h9.8v9.4h-9.8zM299.7 1115.8h9.8v9.4h-9.8zM305.4 1111.2h9.8v9.4h-9.8zM311.1 1105.0h9.8v9.4h-9.8zM316.8 1097.3h9.8v9.4h-9.8zM322.6 1089.2h9.8v9.4h-9.8zM328.3 1084.5h9.8v9.4h-9.8zM334.0 1078.6h9.8v9.4h-9.8zM339.7 1073.1h9.8v9.4h-9.8zM345.4 1066.5h9.8v9.4h-9.8zM351.1 1086.3h9.8v9.4h-9.8zM356.9 1076.0h9.8v9.4h-9.8zM362.6 1069.4h9.8v9.4h-9.8zM368.3 1061.6h9.8v9.4h-9.8zM374.0 1056.6h9.8v9.4h-9.8zM379.8 1055.1h9.8v9.4h-9.8zM385.5 1052.8h9.8v9.4h-9.8zM391.2 1064.4h9.8v9.4h-9.8zM396.9 1070.1h9.8v9.4h-9.8zM402.6 1074.8h9.8v9.4h-9.8zM408.4 1082.6h9.8v9.4h-9.8zM414.1 1095.5h9.8v9.4h-9.8zM419.8 1112.4h9.8v9.4h-9.8zM425.5 1115.2h9.8v9.4h-9.8zM431.2 1089.5h9.8v9.4h-9.8zM437.0 1096.1h9.8v9.4h-9.8zM442.7 1101.7h9.8v9.4h-9.8zM448.4 1109.6h9.8v9.4h-9.8zM454.1 1115.4h9.8v9.4h-9.8zM459.8 1120.8h9.8v9.4h-9.8zM465.5 1125.0h9.8v9.4h-9.8zM471.3 1130.4h9.8v9.4h-9.8zM477.0 1133.9h9.8v9.4h-9.8zM482.7 1140.2h9.8v9.4h-9.8zM488.4 1145.4h9.8v9.4h-9.8zM494.1 1155.7h9.8v9.4h-9.8zM499.9 1163.0h9.8v9.4h-9.8zM505.6 1164.6h9.8v9.4h-9.8zM511.3 1168.5h9.8v9.4h-9.8zM517.0 1171.2h9.8v9.4h-9.8zM522.8 1172.9h9.8v9.4h-9.8zM528.5 1174.3h9.8v9.4h-9.8zM534.2 1176.1h9.8v9.4h-9.8zM539.9 1179.1h9.8v9.4h-9.8zM545.6 1180.1h9.8v9.4h-9.8zM551.4 1183.9h9.8v9.4h-9.8zM557.1 1188.8h9.8v9.4h-9.8zM562.8 1194.1h9.8v9.4h-9.8zM568.5 1202.5h9.8v9.4h-9.8zM574.2 1212.1h9.8v9.4h-9.8zM579.9 1222.9h9.8v9.4h-9.8zM585.7 1231.3h9.8v9.4h-9.8zM591.4 1245.7h9.8v9.4h-9.8zM597.1 1256.8h9.8v9.4h-9.8zM602.8 1269.0h9.8v9.4h-9.8zM608.5 1281.0h9.8v9.4h-9.8zM614.3 1285.9h9.8v9.4h-9.8zM620.0 1291.5h9.8v9.4h-9.8zM625.7 1292.2h9.8v9.4h-9.8zM631.4 1294.2h9.8v9.4h-9.8zM637.1 1294.5h9.8v9.4h-9.8zM642.9 1294.6h9.8v9.4h-9.8zM648.6 1293.9h9.8v9.4h-9.8zM654.3 1294.8h9.8v9.4h-9.8zM660.0 1295.6h9.8v9.4h-9.8zM665.8 1295.3h9.8v9.4h-9.8z" fill="#ff00ff"/>
<line x1="189" y1="1181.6" x2="297.3" y2="1055.1" stroke="#000" stroke-width="1.3"/>
<path d="M317.5 1031.6 L302.5 1062.2 L289.6 1051.1Z" fill="#000"/>
<line x1="444.9" y1="1046.1" x2="557.6" y2="1156.6" stroke="#000" stroke-width="1.3"/>
<path d="M579.7 1178.3 L550.2 1161.3 L562.1 1149.1Z" fill="#000"/>
<text transform="translate(233.2,1108.6) rotate(-49.3)" text-anchor="middle" font-size="26">acceleration</text>
<text transform="translate(507.59999999999997,1088.8999999999999) rotate(44.6)" text-anchor="middle" font-size="26">deceleration</text>
<rect x="589.2" y="1035.5" width="10" height="10" fill="#000000"/>
<text x="632" y="1050.1" font-size="27">FF1</text>
<rect x="589.2" y="1068.5" width="10" height="10" fill="#ff0000"/>
<text x="632" y="1083.1" font-size="27">FF2</text>
<rect x="589.2" y="1101.6" width="10" height="10" fill="#00ff00"/>
<text x="632" y="1116.2" font-size="27">FF3</text>
<rect x="589.2" y="1134.7" width="10" height="10" fill="#0000ff"/>
<text x="632" y="1149.2" font-size="27">FF4</text>
<rect x="589.2" y="1167.7" width="10" height="10" fill="#ff00ff"/>
<text x="632" y="1182.3" font-size="27">FF5</text>
<path d="M87.1 1345.2 V1654.3 M86.1 1654.3 H682.6" stroke="#111" stroke-width="1.9" fill="none"/>
<text x="76.6" y="1663.0" text-anchor="end" font-size="27">0.2</text>
<text x="76.6" y="1611.5" text-anchor="end" font-size="27">0.3</text>
<text x="76.6" y="1560.0" text-anchor="end" font-size="27">0.4</text>
<text x="76.6" y="1508.5" text-anchor="end" font-size="27">0.5</text>
<text x="76.6" y="1457.0" text-anchor="end" font-size="27">0.6</text>
<text x="76.6" y="1405.5" text-anchor="end" font-size="27">0.7</text>
<text x="76.6" y="1354.0" text-anchor="end" font-size="27">0.8</text>
<text x="98.7" y="1681.6" text-anchor="middle" font-size="27">0</text>
<text x="155.8" y="1681.6" text-anchor="middle" font-size="27">100</text>
<text x="213.1" y="1681.6" text-anchor="middle" font-size="27">200</text>
<text x="270.2" y="1681.6" text-anchor="middle" font-size="27">300</text>
<text x="327.4" y="1681.6" text-anchor="middle" font-size="27">400</text>
<text x="384.6" y="1681.6" text-anchor="middle" font-size="27">500</text>
<text x="441.9" y="1681.6" text-anchor="middle" font-size="27">400</text>
<text x="499.0" y="1681.6" text-anchor="middle" font-size="27">300</text>
<text x="556.2" y="1681.6" text-anchor="middle" font-size="27">200</text>
<text x="613.4" y="1681.6" text-anchor="middle" font-size="27">100</text>
<text x="670.6" y="1681.6" text-anchor="middle" font-size="27">0</text>
<path d="M87.1 1654.2h15 M87.1 1602.7h15 M87.1 1551.2h15 M87.1 1499.7h15 M87.1 1448.2h15 M87.1 1396.7h15 M87.1 1345.2h15 M87.1 1628.5h7.5 M87.1 1577.0h7.5 M87.1 1525.5h7.5 M87.1 1474.0h7.5 M87.1 1422.5h7.5 M87.1 1371.0h7.5 M98.7 1654.3v-15 M155.8 1654.3v-15 M213.1 1654.3v-15 M270.2 1654.3v-15 M327.4 1654.3v-15 M384.6 1654.3v-15 M441.9 1654.3v-15 M499.0 1654.3v-15 M556.2 1654.3v-15 M613.4 1654.3v-15 M670.6 1654.3v-15 M127.2 1654.3v-7.5 M184.4 1654.3v-7.5 M241.7 1654.3v-7.5 M298.9 1654.3v-7.5 M356.0 1654.3v-7.5 M413.2 1654.3v-7.5 M470.4 1654.3v-7.5 M527.6 1654.3v-7.5 M584.8 1654.3v-7.5 M642.0 1654.3v-7.5 " stroke="#000" stroke-width="1.7" fill="none"/>
<text transform="translate(23.6,1498.9) rotate(-90)" text-anchor="middle" font-size="27.7">Mean voltage (mV)</text>
<text x="132.6" y="1433.9" font-size="27" letter-spacing="0.4">(e)</text>
<path d="M93.8 1594.3h9.8v9.4h-9.8zM99.5 1595.5h9.8v9.4h-9.8zM105.2 1596.9h9.8v9.4h-9.8zM110.9 1599.3h9.8v9.4h-9.8zM116.6 1598.8h9.8v9.4h-9.8zM122.3 1600.1h9.8v9.4h-9.8zM128.1 1599.7h9.8v9.4h-9.8zM133.8 1600.8h9.8v9.4h-9.8zM139.5 1599.9h9.8v9.4h-9.8zM145.2 1599.8h9.8v9.4h-9.8zM150.9 1599.1h9.8v9.4h-9.8zM156.7 1597.6h9.8v9.4h-9.8zM162.4 1598.1h9.8v9.4h-9.8zM168.1 1597.2h9.8v9.4h-9.8zM173.8 1595.3h9.8v9.4h-9.8zM179.5 1596.0h9.8v9.4h-9.8zM185.3 1592.9h9.8v9.4h-9.8zM191.0 1592.5h9.8v9.4h-9.8zM196.7 1593.4h9.8v9.4h-9.8zM202.4 1591.6h9.8v9.4h-9.8zM208.2 1590.8h9.8v9.4h-9.8zM213.9 1591.5h9.8v9.4h-9.8zM219.6 1590.1h9.8v9.4h-9.8zM225.3 1588.3h9.8v9.4h-9.8zM231.0 1586.9h9.8v9.4h-9.8zM236.8 1585.9h9.8v9.4h-9.8zM242.5 1583.5h9.8v9.4h-9.8zM248.2 1577.5h9.8v9.4h-9.8zM253.9 1573.7h9.8v9.4h-9.8zM259.6 1571.1h9.8v9.4h-9.8zM265.4 1569.1h9.8v9.4h-9.8zM271.1 1562.5h9.8v9.4h-9.8zM276.8 1555.2h9.8v9.4h-9.8zM282.5 1551.9h9.8v9.4h-9.8zM288.2 1549.2h9.8v9.4h-9.8zM294.0 1544.3h9.8v9.4h-9.8zM299.7 1539.8h9.8v9.4h-9.8zM305.4 1534.2h9.8v9.4h-9.8zM311.1 1528.6h9.8v9.4h-9.8zM316.8 1524.8h9.8v9.4h-9.8zM322.6 1516.8h9.8v9.4h-9.8zM328.3 1507.9h9.8v9.4h-9.8zM334.0 1496.7h9.8v9.4h-9.8zM339.7 1485.3h9.8v9.4h-9.8zM345.4 1470.2h9.8v9.4h-9.8zM351.1 1453.8h9.8v9.4h-9.8zM356.9 1434.5h9.8v9.4h-9.8zM362.6 1424.1h9.8v9.4h-9.8zM368.3 1407.6h9.8v9.4h-9.8zM374.0 1396.2h9.8v9.4h-9.8zM379.8 1379.6h9.8v9.4h-9.8zM385.5 1395.0h9.8v9.4h-9.8zM391.2 1410.2h9.8v9.4h-9.8zM396.9 1416.7h9.8v9.4h-9.8zM402.6 1435.3h9.8v9.4h-9.8zM408.4 1446.4h9.8v9.4h-9.8zM414.1 1460.6h9.8v9.4h-9.8zM419.8 1471.6h9.8v9.4h-9.8zM425.5 1487.1h9.8v9.4h-9.8zM431.2 1502.5h9.8v9.4h-9.8zM437.0 1513.3h9.8v9.4h-9.8zM442.7 1519.0h9.8v9.4h-9.8zM448.4 1522.6h9.8v9.4h-9.8zM454.1 1527.7h9.8v9.4h-9.8zM459.8 1530.5h9.8v9.4h-9.8zM465.5 1538.0h9.8v9.4h-9.8zM471.3 1542.5h9.8v9.4h-9.8zM477.0 1547.0h9.8v9.4h-9.8zM482.7 1554.9h9.8v9.4h-9.8zM488.4 1559.0h9.8v9.4h-9.8zM494.1 1564.4h9.8v9.4h-9.8zM499.9 1568.0h9.8v9.4h-9.8zM505.6 1570.5h9.8v9.4h-9.8zM511.3 1575.3h9.8v9.4h-9.8zM517.0 1577.1h9.8v9.4h-9.8zM522.8 1580.5h9.8v9.4h-9.8zM528.5 1583.9h9.8v9.4h-9.8zM534.2 1584.9h9.8v9.4h-9.8zM539.9 1585.4h9.8v9.4h-9.8zM545.6 1588.5h9.8v9.4h-9.8zM551.4 1589.5h9.8v9.4h-9.8zM557.1 1590.3h9.8v9.4h-9.8zM562.8 1591.3h9.8v9.4h-9.8zM568.5 1592.2h9.8v9.4h-9.8zM574.2 1595.0h9.8v9.4h-9.8zM579.9 1595.8h9.8v9.4h-9.8zM585.7 1598.3h9.8v9.4h-9.8zM591.4 1598.4h9.8v9.4h-9.8zM597.1 1599.1h9.8v9.4h-9.8zM602.8 1599.6h9.8v9.4h-9.8zM608.5 1597.9h9.8v9.4h-9.8zM614.3 1599.6h9.8v9.4h-9.8zM620.0 1602.7h9.8v9.4h-9.8zM625.7 1603.4h9.8v9.4h-9.8zM631.4 1606.7h9.8v9.4h-9.8zM637.1 1608.8h9.8v9.4h-9.8zM642.9 1609.7h9.8v9.4h-9.8zM648.6 1614.2h9.8v9.4h-9.8zM654.3 1615.2h9.8v9.4h-9.8zM660.0 1611.0h9.8v9.4h-9.8zM665.8 1607.9h9.8v9.4h-9.8z" fill="#000000"/>
<path d="M104.4 1590.7V1599.8M101.9 1590.7h5M101.9 1599.8h5" stroke="#ff0000" stroke-width="1" fill="none"/>
<path d="M93.8 1588.4h9.8v9.4h-9.8zM99.5 1590.6h9.8v9.4h-9.8zM105.2 1596.2h9.8v9.4h-9.8zM110.9 1597.3h9.8v9.4h-9.8zM116.6 1598.3h9.8v9.4h-9.8zM122.3 1599.5h9.8v9.4h-9.8zM128.1 1598.8h9.8v9.4h-9.8zM133.8 1599.5h9.8v9.4h-9.8zM139.5 1600.0h9.8v9.4h-9.8zM145.2 1600.6h9.8v9.4h-9.8zM150.9 1599.2h9.8v9.4h-9.8zM156.7 1597.2h9.8v9.4h-9.8zM162.4 1595.8h9.8v9.4h-9.8zM168.1 1594.6h9.8v9.4h-9.8zM173.8 1595.7h9.8v9.4h-9.8zM179.5 1591.5h9.8v9.4h-9.8zM185.3 1590.5h9.8v9.4h-9.8zM191.0 1590.7h9.8v9.4h-9.8zM196.7 1588.3h9.8v9.4h-9.8zM202.4 1589.6h9.8v9.4h-9.8zM208.2 1589.1h9.8v9.4h-9.8zM213.9 1590.3h9.8v9.4h-9.8zM219.6 1590.1h9.8v9.4h-9.8zM225.3 1586.8h9.8v9.4h-9.8zM231.0 1584.4h9.8v9.4h-9.8zM236.8 1583.2h9.8v9.4h-9.8zM242.5 1582.8h9.8v9.4h-9.8zM248.2 1575.5h9.8v9.4h-9.8zM253.9 1572.8h9.8v9.4h-9.8zM259.6 1568.8h9.8v9.4h-9.8zM265.4 1565.4h9.8v9.4h-9.8zM271.1 1559.3h9.8v9.4h-9.8zM276.8 1554.7h9.8v9.4h-9.8zM282.5 1553.9h9.8v9.4h-9.8zM288.2 1549.2h9.8v9.4h-9.8zM294.0 1545.6h9.8v9.4h-9.8zM299.7 1539.1h9.8v9.4h-9.8zM305.4 1535.7h9.8v9.4h-9.8zM311.1 1528.3h9.8v9.4h-9.8zM316.8 1522.3h9.8v9.4h-9.8zM322.6 1516.1h9.8v9.4h-9.8zM328.3 1508.2h9.8v9.4h-9.8zM334.0 1498.7h9.8v9.4h-9.8zM339.7 1486.5h9.8v9.4h-9.8zM345.4 1471.5h9.8v9.4h-9.8zM351.1 1455.1h9.8v9.4h-9.8zM356.9 1447.0h9.8v9.4h-9.8zM362.6 1425.3h9.8v9.4h-9.8zM368.3 1414.6h9.8v9.4h-9.8zM374.0 1397.6h9.8v9.4h-9.8zM379.8 1384.7h9.8v9.4h-9.8zM385.5 1398.5h9.8v9.4h-9.8zM391.2 1413.0h9.8v9.4h-9.8zM396.9 1432.3h9.8v9.4h-9.8zM402.6 1443.1h9.8v9.4h-9.8zM408.4 1455.7h9.8v9.4h-9.8zM414.1 1456.9h9.8v9.4h-9.8zM419.8 1469.5h9.8v9.4h-9.8zM425.5 1484.8h9.8v9.4h-9.8zM431.2 1501.5h9.8v9.4h-9.8zM437.0 1511.0h9.8v9.4h-9.8zM442.7 1518.1h9.8v9.4h-9.8zM448.4 1523.6h9.8v9.4h-9.8zM454.1 1527.1h9.8v9.4h-9.8zM459.8 1530.5h9.8v9.4h-9.8zM465.5 1538.1h9.8v9.4h-9.8zM471.3 1541.2h9.8v9.4h-9.8zM477.0 1550.2h9.8v9.4h-9.8zM482.7 1554.2h9.8v9.4h-9.8zM488.4 1561.0h9.8v9.4h-9.8zM494.1 1565.1h9.8v9.4h-9.8zM499.9 1567.8h9.8v9.4h-9.8zM505.6 1572.9h9.8v9.4h-9.8zM511.3 1576.7h9.8v9.4h-9.8zM517.0 1578.9h9.8v9.4h-9.8zM522.8 1582.2h9.8v9.4h-9.8zM528.5 1583.7h9.8v9.4h-9.8zM534.2 1583.5h9.8v9.4h-9.8zM539.9 1586.1h9.8v9.4h-9.8zM545.6 1587.4h9.8v9.4h-9.8zM551.4 1588.8h9.8v9.4h-9.8zM557.1 1591.4h9.8v9.4h-9.8zM562.8 1590.4h9.8v9.4h-9.8zM568.5 1591.7h9.8v9.4h-9.8zM574.2 1592.7h9.8v9.4h-9.8zM579.9 1594.6h9.8v9.4h-9.8zM585.7 1593.6h9.8v9.4h-9.8zM591.4 1595.2h9.8v9.4h-9.8zM597.1 1594.2h9.8v9.4h-9.8zM602.8 1594.3h9.8v9.4h-9.8zM608.5 1595.1h9.8v9.4h-9.8zM614.3 1594.4h9.8v9.4h-9.8zM620.0 1597.5h9.8v9.4h-9.8zM625.7 1598.5h9.8v9.4h-9.8zM631.4 1596.8h9.8v9.4h-9.8zM637.1 1599.5h9.8v9.4h-9.8zM642.9 1598.5h9.8v9.4h-9.8zM648.6 1599.0h9.8v9.4h-9.8zM654.3 1599.9h9.8v9.4h-9.8zM660.0 1602.5h9.8v9.4h-9.8zM665.8 1602.4h9.8v9.4h-9.8z" fill="#ff0000"/>
<path d="M104.4 1590.5V1607.6M101.9 1590.5h5M101.9 1607.6h5" stroke="#00ff00" stroke-width="1" fill="none"/>
<path d="M93.8 1588.9h9.8v9.4h-9.8zM99.5 1594.4h9.8v9.4h-9.8zM105.2 1601.5h9.8v9.4h-9.8zM110.9 1600.0h9.8v9.4h-9.8zM116.6 1603.0h9.8v9.4h-9.8zM122.3 1603.0h9.8v9.4h-9.8zM128.1 1600.4h9.8v9.4h-9.8zM133.8 1601.3h9.8v9.4h-9.8zM139.5 1602.2h9.8v9.4h-9.8zM145.2 1600.1h9.8v9.4h-9.8zM150.9 1603.3h9.8v9.4h-9.8zM156.7 1599.9h9.8v9.4h-9.8zM162.4 1599.1h9.8v9.4h-9.8zM168.1 1597.3h9.8v9.4h-9.8zM173.8 1598.3h9.8v9.4h-9.8zM179.5 1598.8h9.8v9.4h-9.8zM185.3 1597.0h9.8v9.4h-9.8zM191.0 1594.4h9.8v9.4h-9.8zM196.7 1593.1h9.8v9.4h-9.8zM202.4 1592.5h9.8v9.4h-9.8zM208.2 1592.3h9.8v9.4h-9.8zM213.9 1593.7h9.8v9.4h-9.8zM219.6 1592.1h9.8v9.4h-9.8zM225.3 1588.8h9.8v9.4h-9.8zM231.0 1584.3h9.8v9.4h-9.8zM236.8 1583.1h9.8v9.4h-9.8zM242.5 1581.4h9.8v9.4h-9.8zM248.2 1574.5h9.8v9.4h-9.8zM253.9 1573.7h9.8v9.4h-9.8zM259.6 1571.8h9.8v9.4h-9.8zM265.4 1569.3h9.8v9.4h-9.8zM271.1 1566.8h9.8v9.4h-9.8zM276.8 1565.9h9.8v9.4h-9.8zM282.5 1560.7h9.8v9.4h-9.8zM288.2 1564.6h9.8v9.4h-9.8zM294.0 1563.1h9.8v9.4h-9.8zM299.7 1558.7h9.8v9.4h-9.8zM305.4 1557.6h9.8v9.4h-9.8zM311.1 1553.4h9.8v9.4h-9.8zM316.8 1549.0h9.8v9.4h-9.8zM322.6 1544.3h9.8v9.4h-9.8zM328.3 1537.5h9.8v9.4h-9.8zM334.0 1529.3h9.8v9.4h-9.8zM339.7 1523.2h9.8v9.4h-9.8zM345.4 1515.4h9.8v9.4h-9.8zM351.1 1502.1h9.8v9.4h-9.8zM356.9 1490.9h9.8v9.4h-9.8zM362.6 1475.7h9.8v9.4h-9.8zM368.3 1458.5h9.8v9.4h-9.8zM374.0 1446.5h9.8v9.4h-9.8zM379.8 1441.5h9.8v9.4h-9.8zM385.5 1447.9h9.8v9.4h-9.8zM391.2 1460.3h9.8v9.4h-9.8zM396.9 1485.3h9.8v9.4h-9.8zM402.6 1493.6h9.8v9.4h-9.8zM408.4 1499.8h9.8v9.4h-9.8zM414.1 1511.2h9.8v9.4h-9.8zM419.8 1517.0h9.8v9.4h-9.8zM425.5 1529.2h9.8v9.4h-9.8zM431.2 1538.7h9.8v9.4h-9.8zM437.0 1542.3h9.8v9.4h-9.8zM442.7 1551.1h9.8v9.4h-9.8zM448.4 1553.7h9.8v9.4h-9.8zM454.1 1561.1h9.8v9.4h-9.8zM459.8 1563.2h9.8v9.4h-9.8zM465.5 1568.5h9.8v9.4h-9.8zM471.3 1571.7h9.8v9.4h-9.8zM477.0 1573.7h9.8v9.4h-9.8zM482.7 1573.4h9.8v9.4h-9.8zM488.4 1574.5h9.8v9.4h-9.8zM494.1 1580.2h9.8v9.4h-9.8zM499.9 1581.7h9.8v9.4h-9.8zM505.6 1585.7h9.8v9.4h-9.8zM511.3 1588.4h9.8v9.4h-9.8zM517.0 1591.3h9.8v9.4h-9.8zM522.8 1593.5h9.8v9.4h-9.8zM528.5 1595.8h9.8v9.4h-9.8zM534.2 1597.4h9.8v9.4h-9.8zM539.9 1600.0h9.8v9.4h-9.8zM545.6 1601.7h9.8v9.4h-9.8zM551.4 1600.8h9.8v9.4h-9.8zM557.1 1602.2h9.8v9.4h-9.8zM562.8 1600.2h9.8v9.4h-9.8zM568.5 1603.9h9.8v9.4h-9.8zM574.2 1603.3h9.8v9.4h-9.8zM579.9 1604.2h9.8v9.4h-9.8zM585.7 1605.2h9.8v9.4h-9.8zM591.4 1601.8h9.8v9.4h-9.8zM597.1 1603.2h9.8v9.4h-9.8zM602.8 1604.1h9.8v9.4h-9.8zM608.5 1604.1h9.8v9.4h-9.8zM614.3 1602.4h9.8v9.4h-9.8zM620.0 1600.7h9.8v9.4h-9.8zM625.7 1602.9h9.8v9.4h-9.8zM631.4 1603.2h9.8v9.4h-9.8zM637.1 1600.2h9.8v9.4h-9.8zM642.9 1600.5h9.8v9.4h-9.8zM648.6 1598.7h9.8v9.4h-9.8zM654.3 1597.9h9.8v9.4h-9.8zM660.0 1595.6h9.8v9.4h-9.8zM665.8 1592.9h9.8v9.4h-9.8z" fill="#00ff00"/>
<path d="M93.8 1605.0h9.8v9.4h-9.8zM99.5 1610.8h9.8v9.4h-9.8zM105.2 1612.9h9.8v9.4h-9.8zM110.9 1612.7h9.8v9.4h-9.8zM116.6 1613.2h9.8v9.4h-9.8zM122.3 1615.3h9.8v9.4h-9.8zM128.1 1614.2h9.8v9.4h-9.8zM133.8 1612.5h9.8v9.4h-9.8zM139.5 1610.2h9.8v9.4h-9.8zM145.2 1609.5h9.8v9.4h-9.8zM150.9 1612.5h9.8v9.4h-9.8zM156.7 1612.9h9.8v9.4h-9.8zM162.4 1608.4h9.8v9.4h-9.8zM168.1 1607.5h9.8v9.4h-9.8zM173.8 1604.0h9.8v9.4h-9.8zM179.5 1603.3h9.8v9.4h-9.8zM185.3 1605.8h9.8v9.4h-9.8zM191.0 1605.0h9.8v9.4h-9.8zM196.7 1602.1h9.8v9.4h-9.8zM202.4 1600.5h9.8v9.4h-9.8zM208.2 1598.9h9.8v9.4h-9.8zM213.9 1596.0h9.8v9.4h-9.8zM219.6 1594.4h9.8v9.4h-9.8zM225.3 1593.7h9.8v9.4h-9.8zM231.0 1590.6h9.8v9.4h-9.8zM236.8 1587.4h9.8v9.4h-9.8zM242.5 1584.9h9.8v9.4h-9.8zM248.2 1581.7h9.8v9.4h-9.8zM253.9 1579.2h9.8v9.4h-9.8zM259.6 1573.5h9.8v9.4h-9.8zM265.4 1572.7h9.8v9.4h-9.8zM271.1 1568.9h9.8v9.4h-9.8zM276.8 1563.1h9.8v9.4h-9.8zM282.5 1558.8h9.8v9.4h-9.8zM288.2 1553.8h9.8v9.4h-9.8zM294.0 1549.2h9.8v9.4h-9.8zM299.7 1544.3h9.8v9.4h-9.8zM305.4 1538.7h9.8v9.4h-9.8zM311.1 1532.4h9.8v9.4h-9.8zM316.8 1528.4h9.8v9.4h-9.8zM322.6 1523.6h9.8v9.4h-9.8zM328.3 1515.4h9.8v9.4h-9.8zM334.0 1504.3h9.8v9.4h-9.8zM339.7 1493.1h9.8v9.4h-9.8zM345.4 1478.7h9.8v9.4h-9.8zM351.1 1466.1h9.8v9.4h-9.8zM356.9 1458.0h9.8v9.4h-9.8zM362.6 1442.8h9.8v9.4h-9.8zM368.3 1422.0h9.8v9.4h-9.8zM374.0 1410.3h9.8v9.4h-9.8zM379.8 1399.5h9.8v9.4h-9.8zM385.5 1410.2h9.8v9.4h-9.8zM391.2 1427.0h9.8v9.4h-9.8zM396.9 1441.4h9.8v9.4h-9.8zM402.6 1451.2h9.8v9.4h-9.8zM408.4 1465.1h9.8v9.4h-9.8zM414.1 1470.7h9.8v9.4h-9.8zM419.8 1483.8h9.8v9.4h-9.8zM425.5 1498.0h9.8v9.4h-9.8zM431.2 1512.8h9.8v9.4h-9.8zM437.0 1519.9h9.8v9.4h-9.8zM442.7 1524.9h9.8v9.4h-9.8zM448.4 1528.8h9.8v9.4h-9.8zM454.1 1534.4h9.8v9.4h-9.8zM459.8 1541.4h9.8v9.4h-9.8zM465.5 1545.9h9.8v9.4h-9.8zM471.3 1549.9h9.8v9.4h-9.8zM477.0 1551.6h9.8v9.4h-9.8zM482.7 1556.1h9.8v9.4h-9.8zM488.4 1560.1h9.8v9.4h-9.8zM494.1 1566.2h9.8v9.4h-9.8zM499.9 1570.8h9.8v9.4h-9.8zM505.6 1572.5h9.8v9.4h-9.8zM511.3 1576.3h9.8v9.4h-9.8zM517.0 1580.3h9.8v9.4h-9.8zM522.8 1583.6h9.8v9.4h-9.8zM528.5 1585.6h9.8v9.4h-9.8zM534.2 1586.3h9.8v9.4h-9.8zM539.9 1588.6h9.8v9.4h-9.8zM545.6 1590.6h9.8v9.4h-9.8zM551.4 1592.9h9.8v9.4h-9.8zM557.1 1598.2h9.8v9.4h-9.8zM562.8 1598.6h9.8v9.4h-9.8zM568.5 1600.5h9.8v9.4h-9.8zM574.2 1605.8h9.8v9.4h-9.8zM579.9 1604.9h9.8v9.4h-9.8zM585.7 1608.3h9.8v9.4h-9.8zM591.4 1609.4h9.8v9.4h-9.8zM597.1 1610.2h9.8v9.4h-9.8zM602.8 1609.9h9.8v9.4h-9.8zM608.5 1612.5h9.8v9.4h-9.8zM614.3 1612.6h9.8v9.4h-9.8zM620.0 1613.1h9.8v9.4h-9.8zM625.7 1611.9h9.8v9.4h-9.8zM631.4 1613.5h9.8v9.4h-9.8zM637.1 1612.4h9.8v9.4h-9.8zM642.9 1612.7h9.8v9.4h-9.8zM648.6 1614.1h9.8v9.4h-9.8zM654.3 1610.5h9.8v9.4h-9.8zM660.0 1610.2h9.8v9.4h-9.8zM665.8 1611.5h9.8v9.4h-9.8z" fill="#0000ff"/>
<path d="M93.8 1593.0h9.8v9.4h-9.8zM99.5 1603.3h9.8v9.4h-9.8zM105.2 1605.6h9.8v9.4h-9.8zM110.9 1608.3h9.8v9.4h-9.8zM116.6 1606.5h9.8v9.4h-9.8zM122.3 1605.5h9.8v9.4h-9.8zM128.1 1603.2h9.8v9.4h-9.8zM133.8 1606.8h9.8v9.4h-9.8zM139.5 1608.2h9.8v9.4h-9.8zM145.2 1606.8h9.8v9.4h-9.8zM150.9 1608.4h9.8v9.4h-9.8zM156.7 1607.9h9.8v9.4h-9.8zM162.4 1607.0h9.8v9.4h-9.8zM168.1 1602.3h9.8v9.4h-9.8zM173.8 1601.5h9.8v9.4h-9.8zM179.5 1603.0h9.8v9.4h-9.8zM185.3 1602.1h9.8v9.4h-9.8zM191.0 1599.7h9.8v9.4h-9.8zM196.7 1598.2h9.8v9.4h-9.8zM202.4 1599.6h9.8v9.4h-9.8zM208.2 1597.5h9.8v9.4h-9.8zM213.9 1595.4h9.8v9.4h-9.8zM219.6 1595.2h9.8v9.4h-9.8zM225.3 1592.6h9.8v9.4h-9.8zM231.0 1594.1h9.8v9.4h-9.8zM236.8 1588.7h9.8v9.4h-9.8zM242.5 1586.2h9.8v9.4h-9.8zM248.2 1584.5h9.8v9.4h-9.8zM253.9 1581.9h9.8v9.4h-9.8zM259.6 1577.3h9.8v9.4h-9.8zM265.4 1573.5h9.8v9.4h-9.8zM271.1 1571.3h9.8v9.4h-9.8zM276.8 1566.5h9.8v9.4h-9.8zM282.5 1566.7h9.8v9.4h-9.8zM288.2 1564.5h9.8v9.4h-9.8zM294.0 1558.2h9.8v9.4h-9.8zM299.7 1556.1h9.8v9.4h-9.8zM305.4 1550.1h9.8v9.4h-9.8zM311.1 1545.8h9.8v9.4h-9.8zM316.8 1543.4h9.8v9.4h-9.8zM322.6 1535.9h9.8v9.4h-9.8zM328.3 1529.0h9.8v9.4h-9.8zM334.0 1523.3h9.8v9.4h-9.8zM339.7 1510.0h9.8v9.4h-9.8zM345.4 1500.2h9.8v9.4h-9.8zM351.1 1490.1h9.8v9.4h-9.8zM356.9 1482.5h9.8v9.4h-9.8zM362.6 1472.9h9.8v9.4h-9.8zM368.3 1458.1h9.8v9.4h-9.8zM374.0 1443.7h9.8v9.4h-9.8zM379.8 1431.7h9.8v9.4h-9.8zM385.5 1443.9h9.8v9.4h-9.8zM391.2 1455.5h9.8v9.4h-9.8zM396.9 1467.8h9.8v9.4h-9.8zM402.6 1480.4h9.8v9.4h-9.8zM408.4 1487.1h9.8v9.4h-9.8zM414.1 1496.8h9.8v9.4h-9.8zM419.8 1509.1h9.8v9.4h-9.8zM425.5 1520.1h9.8v9.4h-9.8zM431.2 1527.7h9.8v9.4h-9.8zM437.0 1536.3h9.8v9.4h-9.8zM442.7 1539.8h9.8v9.4h-9.8zM448.4 1545.4h9.8v9.4h-9.8zM454.1 1549.0h9.8v9.4h-9.8zM459.8 1553.0h9.8v9.4h-9.8zM465.5 1558.9h9.8v9.4h-9.8zM471.3 1560.4h9.8v9.4h-9.8zM477.0 1565.9h9.8v9.4h-9.8zM482.7 1571.8h9.8v9.4h-9.8zM488.4 1577.7h9.8v9.4h-9.8zM494.1 1581.0h9.8v9.4h-9.8zM499.9 1583.5h9.8v9.4h-9.8zM505.6 1583.4h9.8v9.4h-9.8zM511.3 1585.8h9.8v9.4h-9.8zM517.0 1590.3h9.8v9.4h-9.8zM522.8 1592.4h9.8v9.4h-9.8zM528.5 1596.6h9.8v9.4h-9.8zM534.2 1604.2h9.8v9.4h-9.8zM539.9 1602.2h9.8v9.4h-9.8zM545.6 1598.8h9.8v9.4h-9.8zM551.4 1600.9h9.8v9.4h-9.8zM557.1 1599.3h9.8v9.4h-9.8zM562.8 1602.7h9.8v9.4h-9.8zM568.5 1602.4h9.8v9.4h-9.8zM574.2 1604.7h9.8v9.4h-9.8zM579.9 1606.2h9.8v9.4h-9.8zM585.7 1607.9h9.8v9.4h-9.8zM591.4 1605.4h9.8v9.4h-9.8zM597.1 1606.3h9.8v9.4h-9.8zM602.8 1608.4h9.8v9.4h-9.8zM608.5 1605.5h9.8v9.4h-9.8zM614.3 1605.2h9.8v9.4h-9.8zM620.0 1606.2h9.8v9.4h-9.8zM625.7 1607.5h9.8v9.4h-9.8zM631.4 1606.5h9.8v9.4h-9.8zM637.1 1603.6h9.8v9.4h-9.8zM642.9 1605.3h9.8v9.4h-9.8zM648.6 1604.2h9.8v9.4h-9.8zM654.3 1605.7h9.8v9.4h-9.8zM660.0 1605.0h9.8v9.4h-9.8zM665.8 1601.0h9.8v9.4h-9.8z" fill="#ff00ff"/>
<line x1="187.4" y1="1542.1" x2="296.3" y2="1415.0" stroke="#000" stroke-width="1.3"/>
<path d="M316.5 1391.5 L301.5 1422.1 L288.6 1411.0Z" fill="#000"/>
<line x1="441.2" y1="1414" x2="555.0" y2="1525.6" stroke="#000" stroke-width="1.3"/>
<path d="M577.1 1547.3 L547.6 1530.3 L559.5 1518.1Z" fill="#000"/>
<text transform="translate(231.60000000000002,1469.1) rotate(-49.3)" text-anchor="middle" font-size="26">acceleration</text>
<text transform="translate(503.9,1456.8) rotate(44.6)" text-anchor="middle" font-size="26">deceleration</text>
<rect x="589.2" y="1401.6" width="10" height="10" fill="#000000"/>
<text x="632" y="1416.2" font-size="27">FF1</text>
<rect x="589.2" y="1434.6" width="10" height="10" fill="#ff0000"/>
<text x="632" y="1449.2" font-size="27">FF2</text>
<rect x="589.2" y="1467.7" width="10" height="10" fill="#00ff00"/>
<text x="632" y="1482.3" font-size="27">FF3</text>
<rect x="589.2" y="1500.8" width="10" height="10" fill="#0000ff"/>
<text x="632" y="1515.3" font-size="27">FF4</text>
<rect x="589.2" y="1533.8" width="10" height="10" fill="#ff00ff"/>
<text x="632" y="1548.4" font-size="27">FF5</text>
<text x="384.5" y="1709" text-anchor="middle" font-size="27.7">Speed (rpm)</text>
</svg></body></html>
